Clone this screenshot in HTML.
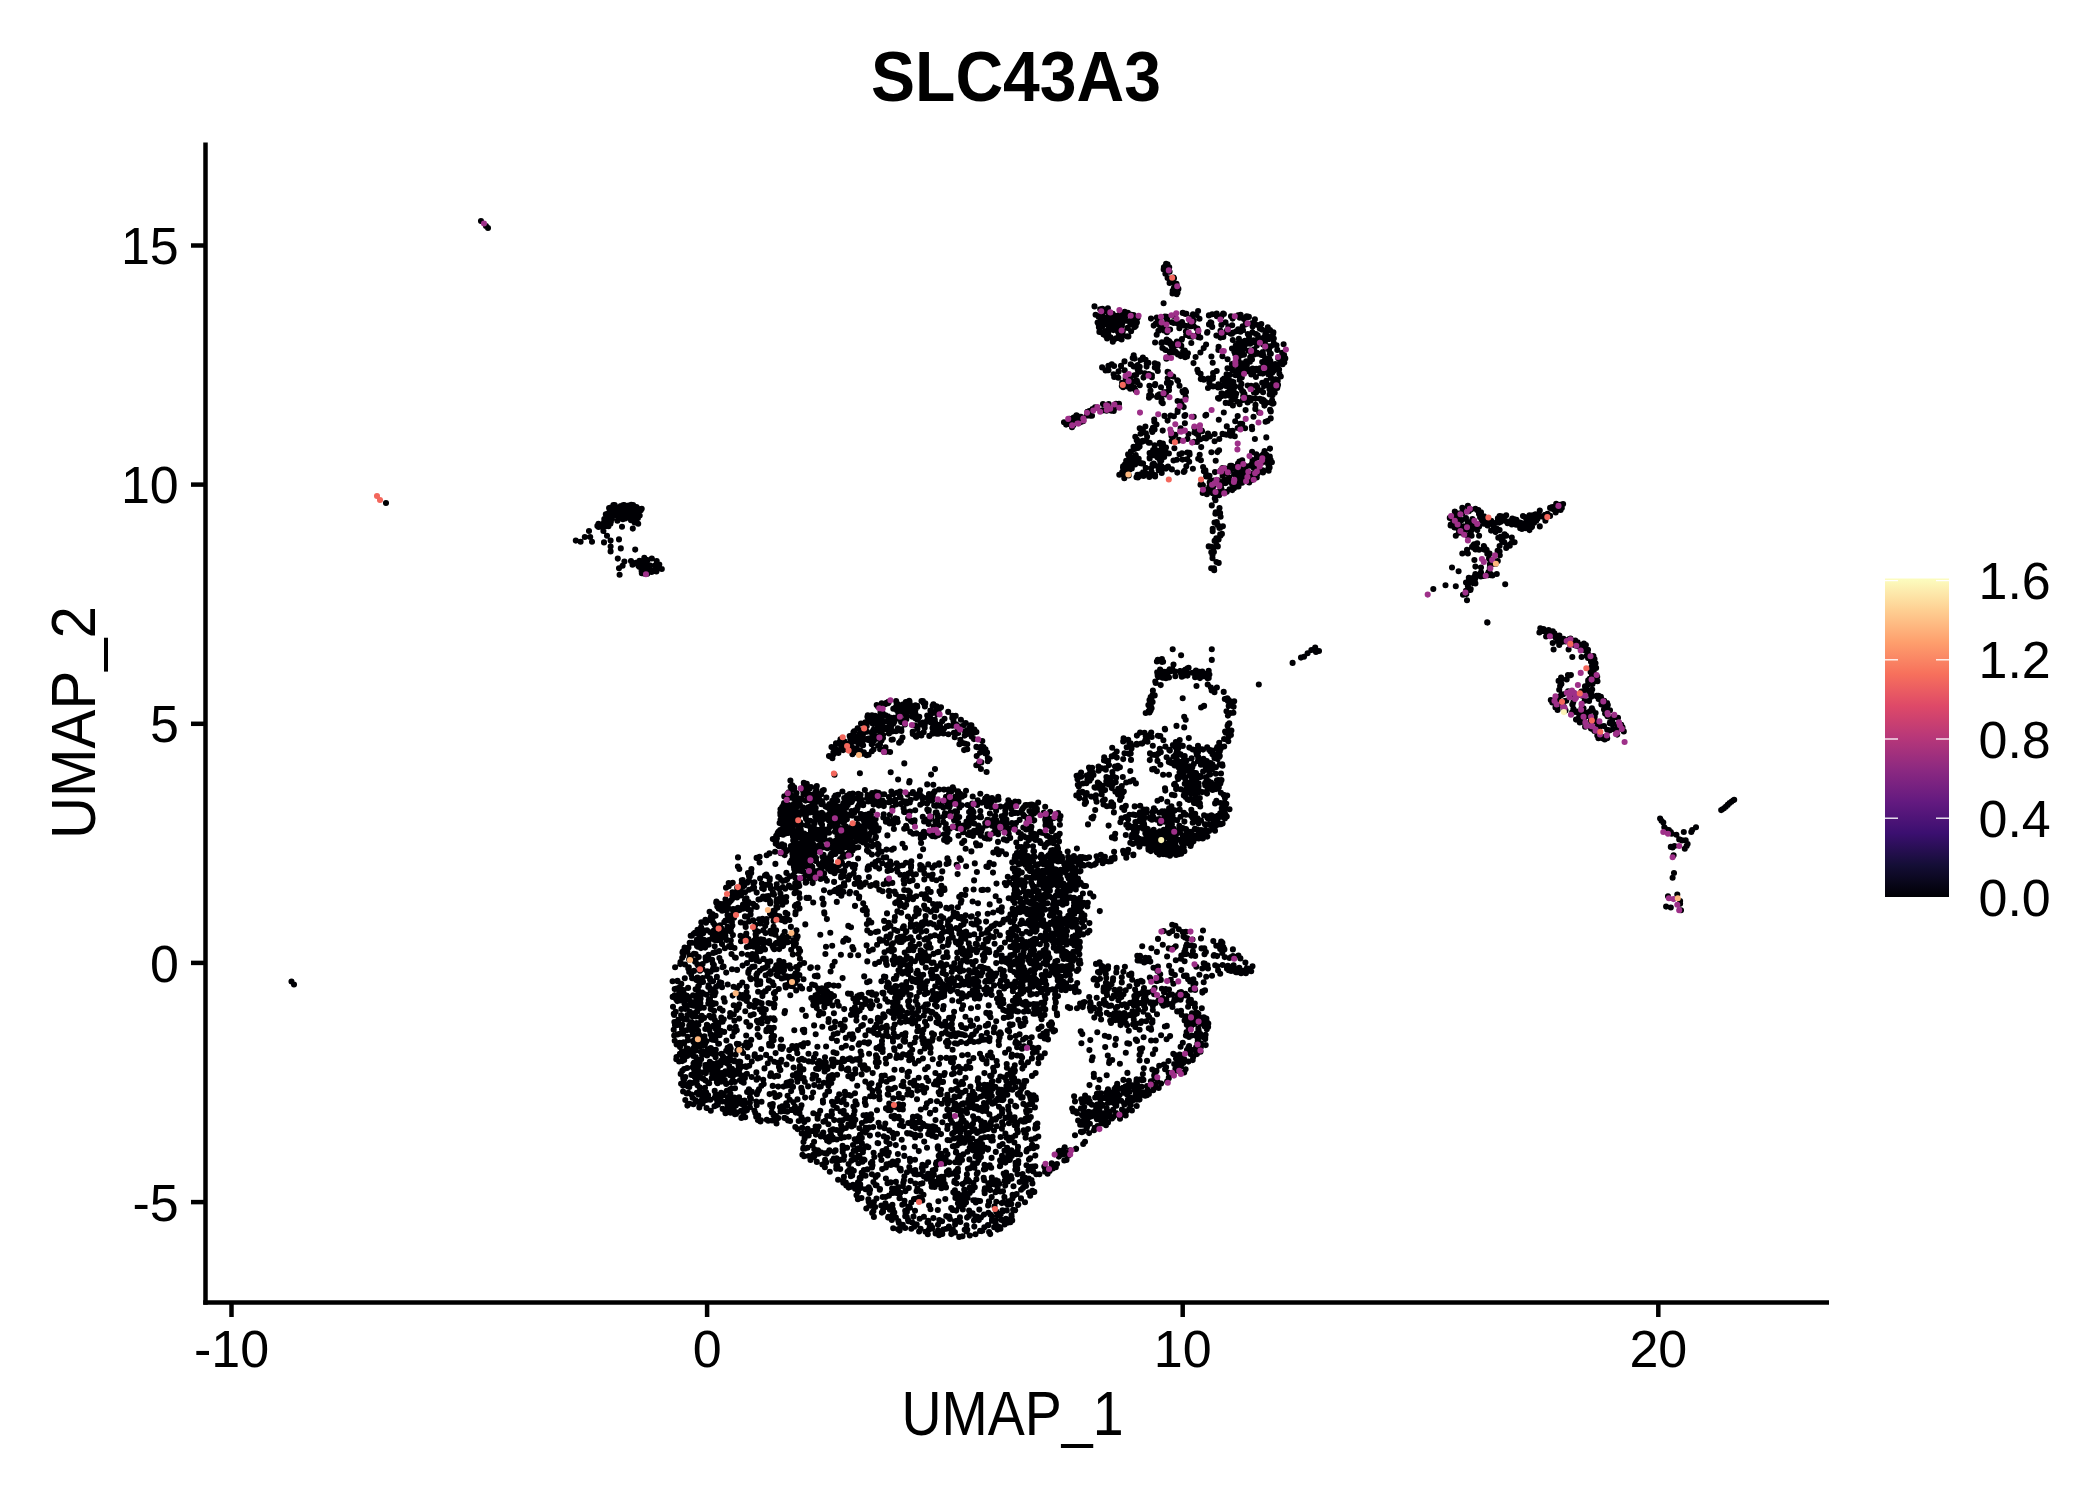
<!DOCTYPE html>
<html><head><meta charset="utf-8"><style>
html,body{margin:0;padding:0;background:#fff;}
svg{display:block;}
text{font-family:"Liberation Sans",sans-serif;fill:#000;}
</style></head><body>
<svg width="2100" height="1500" viewBox="0 0 2100 1500">
<defs>
<linearGradient id="mg" x1="0" y1="1" x2="0" y2="0">
<stop offset="0.0000" stop-color="#000004"/><stop offset="0.1000" stop-color="#140E36"/><stop offset="0.2000" stop-color="#3B0F70"/><stop offset="0.3000" stop-color="#641A80"/><stop offset="0.4000" stop-color="#8C2981"/><stop offset="0.5000" stop-color="#B73779"/><stop offset="0.6000" stop-color="#DE4968"/><stop offset="0.7000" stop-color="#F7705C"/><stop offset="0.8000" stop-color="#FE9F6D"/><stop offset="0.9000" stop-color="#FECF92"/><stop offset="1.0000" stop-color="#FCFDBF"/>
</linearGradient>
</defs>
<rect width="2100" height="1500" fill="#fff"/>
<text x="1016" y="101" font-size="70" font-weight="bold" text-anchor="middle" textLength="290" lengthAdjust="spacingAndGlyphs">SLC43A3</text>
<g id="dots">
<path d="M1166.1 263.8h0M1167.5 264.3h0M1164.6 266.9h0M1165.2 266.4h0M1167.3 266.8h0M1163.9 267.4h0M1166.1 267.2h0M1169.2 267.3h0M1167.5 268.3h0M1163.7 269.4h0M1166.1 269.5h0M1168.1 269.4h0M1169.6 271.8h0M1165.4 273.7h0M1173.6 277.6h0M1167.6 278.0h0M1172.8 278.1h0M1174.0 278.3h0M1171.6 279.4h0M1169.6 282.9h0M1172.9 282.2h0M1176.5 283.9h0M1173.9 288.0h0M1175.0 287.3h0M1176.4 287.4h0M1178.4 288.9h0M1176.4 289.7h0M1177.8 289.6h0M1172.7 290.9h0M1177.0 290.2h0M1173.6 292.8h0M1177.5 292.7h0M1172.5 293.5h0M1174.0 293.3h0M1176.8 294.3h0M1094.5 306.4h0M1102.4 308.7h0M1107.9 308.2h0M1100.2 309.2h0M1103.4 311.9h0M1106.0 311.4h0M1124.7 311.8h0M1198.1 311.0h0M1127.9 312.7h0M1182.7 312.9h0M1109.4 313.3h0M1112.7 313.8h0M1120.9 313.8h0M1121.5 313.4h0M1185.4 313.9h0M1186.4 313.8h0M1216.7 313.5h0M1223.2 313.5h0M1095.6 314.7h0M1101.2 314.7h0M1119.0 315.0h0M1121.2 314.7h0M1131.4 314.8h0M1193.0 314.4h0M1212.2 314.3h0M1222.8 314.2h0M1223.9 314.0h0M1240.6 314.8h0M1114.2 316.0h0M1115.3 315.8h0M1132.9 315.2h0M1133.5 315.1h0M1173.8 315.9h0M1196.5 315.0h0M1208.9 315.4h0M1238.1 315.3h0M1098.6 316.7h0M1102.6 316.7h0M1119.6 316.4h0M1125.2 316.4h0M1164.9 316.5h0M1166.8 316.9h0M1167.5 317.0h0M1216.9 316.2h0M1221.4 316.5h0M1231.0 316.3h0M1246.7 316.2h0M1248.9 316.9h0M1107.7 317.4h0M1109.5 317.7h0M1119.2 317.5h0M1121.8 317.8h0M1123.8 317.8h0M1135.8 317.7h0M1137.7 317.8h0M1156.8 317.6h0M1165.9 317.6h0M1191.7 317.2h0M1239.8 317.7h0M1244.4 318.0h0M1247.7 317.3h0M1101.1 318.9h0M1116.0 318.6h0M1151.0 318.6h0M1199.5 318.7h0M1232.6 318.6h0M1105.3 319.6h0M1108.7 319.1h0M1119.3 319.4h0M1243.9 319.1h0M1254.9 319.3h0M1102.8 320.5h0M1104.6 320.6h0M1106.0 320.6h0M1121.1 321.0h0M1126.0 320.8h0M1131.1 320.0h0M1159.7 320.2h0M1167.2 320.9h0M1193.6 320.6h0M1111.8 321.4h0M1117.8 321.3h0M1121.0 321.8h0M1134.3 322.0h0M1157.6 321.6h0M1190.4 321.6h0M1097.6 322.5h0M1104.3 322.3h0M1107.7 322.2h0M1111.7 322.3h0M1113.5 322.5h0M1120.5 322.6h0M1130.1 322.6h0M1131.7 322.6h0M1136.9 322.4h0M1159.8 322.6h0M1171.8 322.3h0M1173.7 322.9h0M1182.0 322.1h0M1210.5 322.3h0M1211.3 322.8h0M1225.5 322.2h0M1098.5 323.9h0M1099.1 323.0h0M1109.7 323.1h0M1110.8 323.1h0M1136.5 323.1h0M1155.7 323.8h0M1177.5 323.6h0M1191.3 323.3h0M1251.8 323.3h0M1254.2 323.6h0M1102.4 324.8h0M1103.3 324.7h0M1108.0 324.7h0M1122.0 324.5h0M1130.3 324.6h0M1133.6 324.2h0M1209.0 324.4h0M1221.4 324.9h0M1245.5 324.4h0M1246.3 324.1h0M1261.3 324.0h0M1111.5 326.0h0M1116.6 325.2h0M1120.3 325.4h0M1121.8 325.8h0M1153.7 325.6h0M1159.8 325.4h0M1164.2 325.2h0M1182.6 325.3h0M1184.0 325.4h0M1186.6 326.0h0M1193.5 325.8h0M1232.2 325.3h0M1257.7 325.1h0M1102.2 326.6h0M1113.7 326.5h0M1116.2 327.0h0M1135.7 326.1h0M1161.2 326.5h0M1190.2 326.3h0M1191.4 326.3h0M1212.2 326.9h0M1228.4 326.5h0M1242.7 326.2h0M1252.6 326.6h0M1098.9 327.3h0M1110.7 327.1h0M1127.6 327.9h0M1134.6 327.1h0M1267.8 327.2h0M1115.4 328.2h0M1118.3 328.4h0M1119.9 328.5h0M1163.5 328.3h0M1179.4 328.2h0M1196.5 328.2h0M1197.5 328.5h0M1259.8 328.6h0M1108.2 329.4h0M1118.4 329.6h0M1120.9 329.8h0M1121.1 329.2h0M1163.5 329.2h0M1167.0 329.2h0M1170.1 329.6h0M1197.7 329.4h0M1238.2 329.2h0M1240.6 329.7h0M1261.9 329.6h0M1270.0 330.0h0M1109.0 330.5h0M1113.4 330.1h0M1119.1 330.1h0M1158.4 330.9h0M1163.9 330.4h0M1220.5 330.7h0M1227.1 330.3h0M1243.0 330.3h0M1265.2 330.7h0M1099.4 331.9h0M1105.0 331.4h0M1106.3 331.0h0M1118.1 332.0h0M1122.8 331.2h0M1131.1 331.3h0M1185.9 331.5h0M1186.6 331.5h0M1207.4 332.0h0M1236.3 331.2h0M1240.5 331.7h0M1265.8 331.4h0M1266.1 331.2h0M1166.9 332.3h0M1207.1 332.7h0M1226.6 332.1h0M1233.2 332.6h0M1252.4 332.4h0M1273.4 332.3h0M1198.0 333.2h0M1230.5 333.6h0M1232.0 333.8h0M1256.0 334.0h0M1273.2 333.4h0M1103.5 334.4h0M1104.1 334.4h0M1105.5 334.3h0M1156.7 334.7h0M1186.2 335.0h0M1188.5 334.9h0M1247.8 334.1h0M1265.3 334.4h0M1105.9 335.9h0M1108.4 335.0h0M1122.9 335.4h0M1123.2 335.6h0M1192.6 335.9h0M1216.4 335.6h0M1257.7 335.4h0M1108.6 336.0h0M1118.5 336.6h0M1127.3 336.4h0M1128.4 336.5h0M1189.4 336.3h0M1192.1 336.7h0M1223.3 336.9h0M1249.0 336.6h0M1266.2 336.3h0M1268.7 336.2h0M1272.8 336.8h0M1110.5 337.3h0M1198.0 337.1h0M1200.3 337.6h0M1220.4 337.6h0M1107.1 338.5h0M1116.1 338.2h0M1120.0 338.6h0M1182.0 339.0h0M1238.9 338.9h0M1262.0 338.3h0M1263.4 338.8h0M1270.8 338.6h0M1273.8 338.5h0M1113.1 339.3h0M1114.4 339.3h0M1121.6 339.4h0M1166.7 339.6h0M1181.7 339.8h0M1261.4 339.2h0M1268.9 339.1h0M1168.5 340.7h0M1232.8 340.1h0M1244.9 340.9h0M1248.8 340.6h0M1253.5 340.2h0M1256.0 340.5h0M1112.8 341.7h0M1165.5 341.7h0M1169.2 341.3h0M1176.9 341.6h0M1264.9 341.9h0M1155.1 342.5h0M1161.9 342.4h0M1167.0 342.2h0M1191.3 343.0h0M1242.1 342.3h0M1255.1 342.4h0M1161.4 343.1h0M1170.3 344.0h0M1171.0 343.4h0M1178.1 343.8h0M1238.1 343.4h0M1247.3 343.4h0M1250.2 343.7h0M1264.3 343.4h0M1273.8 343.2h0M1175.5 344.1h0M1206.1 344.6h0M1238.1 344.2h0M1243.6 344.2h0M1263.1 344.6h0M1275.1 344.8h0M1283.6 344.3h0M1172.5 345.5h0M1176.7 345.3h0M1181.3 345.9h0M1235.8 345.2h0M1240.8 345.2h0M1244.7 345.3h0M1256.8 345.4h0M1276.5 345.2h0M1171.7 346.3h0M1218.6 346.7h0M1266.3 346.1h0M1267.1 346.1h0M1269.7 347.0h0M1271.1 346.1h0M1162.4 348.0h0M1244.3 348.0h0M1265.6 347.8h0M1162.9 348.3h0M1203.7 348.1h0M1232.0 348.5h0M1237.3 348.0h0M1268.1 348.0h0M1165.5 350.0h0M1218.4 349.9h0M1239.3 349.3h0M1254.3 349.2h0M1277.3 349.9h0M1173.3 350.1h0M1184.8 350.6h0M1238.2 350.4h0M1242.9 350.1h0M1248.7 350.7h0M1250.2 350.5h0M1269.1 350.3h0M1170.6 351.3h0M1175.3 351.5h0M1183.1 351.2h0M1234.3 351.7h0M1250.4 351.4h0M1254.1 351.3h0M1169.8 352.5h0M1170.2 352.8h0M1173.8 352.5h0M1185.7 352.3h0M1200.4 352.5h0M1257.1 352.9h0M1262.8 352.1h0M1282.3 352.8h0M1177.2 353.3h0M1187.9 353.2h0M1235.1 353.9h0M1255.9 353.7h0M1256.2 353.5h0M1257.7 353.8h0M1262.4 353.4h0M1269.9 353.5h0M1270.8 353.7h0M1177.9 354.5h0M1178.7 354.8h0M1239.3 354.8h0M1244.0 354.7h0M1254.2 354.5h0M1261.5 354.9h0M1282.2 354.3h0M1133.7 355.3h0M1240.6 355.4h0M1251.4 355.0h0M1263.5 355.6h0M1284.1 355.1h0M1180.7 356.1h0M1184.2 356.1h0M1187.0 356.5h0M1211.4 356.5h0M1222.4 356.3h0M1236.7 356.4h0M1250.8 356.7h0M1251.7 356.7h0M1142.9 357.5h0M1168.3 357.3h0M1185.2 357.2h0M1195.6 357.0h0M1250.2 357.3h0M1269.2 357.9h0M1281.7 357.6h0M1132.7 358.1h0M1134.6 358.6h0M1166.4 358.8h0M1237.0 358.2h0M1278.2 358.2h0M1282.8 358.8h0M1285.3 358.4h0M1145.6 359.7h0M1227.6 359.3h0M1238.3 359.4h0M1252.0 359.5h0M1265.0 359.9h0M1140.6 360.0h0M1265.6 360.4h0M1270.3 360.9h0M1124.5 361.4h0M1246.2 361.3h0M1250.0 361.8h0M1264.0 361.2h0M1284.0 361.4h0M1148.4 362.9h0M1212.7 362.8h0M1239.5 362.7h0M1240.8 363.0h0M1262.2 362.1h0M1268.4 362.2h0M1284.0 362.2h0M1284.3 362.6h0M1146.7 363.3h0M1154.8 363.3h0M1193.5 363.1h0M1241.7 363.4h0M1243.9 363.8h0M1246.8 363.3h0M1265.8 364.0h0M1266.3 363.7h0M1275.3 364.0h0M1278.9 363.8h0M1281.1 363.2h0M1111.8 364.2h0M1130.7 364.2h0M1157.7 364.4h0M1231.9 364.1h0M1268.5 364.1h0M1269.4 364.3h0M1282.7 364.2h0M1108.4 365.9h0M1114.1 366.0h0M1121.0 365.9h0M1137.7 365.1h0M1235.5 365.3h0M1238.6 365.1h0M1246.8 365.6h0M1263.7 365.6h0M1267.7 365.8h0M1133.7 366.5h0M1139.7 366.7h0M1146.6 366.6h0M1156.6 366.7h0M1157.4 366.8h0M1265.1 366.7h0M1277.6 366.0h0M1102.1 367.4h0M1154.8 367.6h0M1231.7 367.8h0M1239.4 367.8h0M1273.4 367.1h0M1277.6 367.4h0M1227.5 368.2h0M1243.0 368.4h0M1252.6 368.6h0M1256.3 368.9h0M1259.9 368.2h0M1197.4 369.9h0M1238.9 369.5h0M1242.3 369.0h0M1250.1 369.9h0M1270.5 369.0h0M1279.1 369.5h0M1105.6 370.5h0M1108.5 370.3h0M1124.7 370.4h0M1137.8 370.1h0M1232.2 370.1h0M1241.7 370.8h0M1246.6 371.0h0M1257.3 370.0h0M1274.1 370.3h0M1118.6 371.4h0M1140.0 371.8h0M1157.8 371.0h0M1167.6 371.9h0M1168.4 372.0h0M1216.7 371.0h0M1236.0 371.3h0M1244.8 371.3h0M1247.5 371.3h0M1268.0 371.2h0M1268.4 371.0h0M1273.4 371.1h0M1198.2 372.2h0M1272.4 372.6h0M1144.8 373.3h0M1200.6 373.9h0M1213.1 373.0h0M1251.1 373.2h0M1253.4 373.3h0M1260.2 373.2h0M1262.8 373.6h0M1279.4 373.7h0M1113.6 374.2h0M1136.2 375.0h0M1148.8 374.1h0M1149.1 374.4h0M1226.6 374.3h0M1230.1 374.8h0M1238.7 374.7h0M1239.5 374.4h0M1251.3 374.4h0M1268.5 374.4h0M1134.4 375.3h0M1151.9 375.4h0M1228.8 375.0h0M1235.5 375.3h0M1241.9 375.0h0M1114.2 376.9h0M1173.2 376.5h0M1213.0 376.6h0M1280.8 376.5h0M1117.8 377.2h0M1118.3 377.7h0M1129.9 377.8h0M1143.5 377.6h0M1151.9 377.3h0M1239.9 377.3h0M1241.8 377.5h0M1255.9 377.0h0M1271.0 377.9h0M1125.7 378.3h0M1167.7 378.3h0M1201.3 378.1h0M1203.1 378.9h0M1208.2 378.6h0M1212.9 378.6h0M1224.1 378.5h0M1200.8 379.1h0M1203.8 379.8h0M1222.7 379.9h0M1228.7 379.3h0M1239.7 380.0h0M1275.4 379.2h0M1136.9 380.9h0M1177.3 380.3h0M1223.0 380.2h0M1226.1 380.3h0M1228.7 380.8h0M1266.3 380.8h0M1277.7 380.9h0M1125.8 381.1h0M1133.6 381.8h0M1134.7 381.1h0M1178.0 381.1h0M1228.2 381.6h0M1232.1 381.6h0M1275.5 381.3h0M1122.1 382.8h0M1137.4 382.3h0M1166.9 382.9h0M1209.4 382.8h0M1233.4 382.1h0M1262.2 382.8h0M1276.4 382.4h0M1131.8 383.5h0M1155.2 384.0h0M1170.8 383.1h0M1241.4 383.9h0M1272.4 383.9h0M1127.6 385.0h0M1128.1 384.4h0M1218.4 384.3h0M1278.0 384.9h0M1121.8 386.0h0M1139.8 385.3h0M1149.4 385.8h0M1154.9 385.2h0M1179.5 385.8h0M1223.6 385.3h0M1226.0 385.9h0M1229.5 385.3h0M1247.7 385.5h0M1251.1 385.8h0M1256.0 385.2h0M1256.1 385.9h0M1264.6 385.7h0M1269.3 385.5h0M1127.6 386.6h0M1213.1 386.4h0M1220.4 386.9h0M1234.9 386.4h0M1240.2 386.8h0M1264.1 386.1h0M1277.6 386.2h0M1123.1 387.3h0M1134.1 387.6h0M1161.0 387.2h0M1169.0 387.0h0M1218.1 387.4h0M1240.6 387.8h0M1257.3 387.1h0M1277.2 387.9h0M1130.2 388.8h0M1208.0 388.0h0M1233.7 388.8h0M1250.7 389.0h0M1184.9 390.0h0M1269.5 389.4h0M1273.2 389.4h0M1135.5 390.2h0M1150.5 390.5h0M1169.0 390.3h0M1185.5 390.9h0M1242.1 390.9h0M1260.8 390.5h0M1273.5 390.9h0M1166.3 392.0h0M1182.5 391.2h0M1186.0 391.9h0M1229.6 391.0h0M1233.8 391.4h0M1243.3 391.9h0M1164.4 392.3h0M1183.2 392.6h0M1227.8 392.2h0M1254.0 392.5h0M1256.1 392.4h0M1263.1 392.2h0M1274.7 392.7h0M1221.5 393.2h0M1222.5 393.5h0M1231.9 393.4h0M1234.9 393.7h0M1236.2 393.8h0M1244.4 393.8h0M1159.5 394.2h0M1165.8 394.4h0M1269.7 394.4h0M1149.2 395.3h0M1151.3 395.8h0M1157.9 395.4h0M1225.1 395.8h0M1230.1 395.9h0M1244.7 395.9h0M1272.5 395.3h0M1157.1 397.0h0M1160.9 396.3h0M1221.3 396.2h0M1235.5 396.4h0M1243.2 396.0h0M1244.1 396.8h0M1149.0 397.8h0M1185.6 397.3h0M1233.1 397.4h0M1249.1 397.8h0M1218.0 398.1h0M1219.0 398.7h0M1234.5 398.4h0M1251.0 398.4h0M1255.5 398.6h0M1259.8 398.8h0M1161.6 399.5h0M1232.7 399.7h0M1262.5 399.6h0M1231.4 400.8h0M1242.9 400.0h0M1247.6 400.4h0M1250.6 400.4h0M1263.7 400.2h0M1272.1 400.2h0M1161.5 401.9h0M1177.6 401.0h0M1181.3 401.6h0M1237.6 401.7h0M1261.9 401.2h0M1264.4 401.9h0M1265.2 401.9h0M1225.7 402.9h0M1247.6 402.4h0M1263.7 402.7h0M1270.5 402.6h0M1108.7 404.0h0M1116.0 403.9h0M1119.0 403.9h0M1162.8 403.3h0M1229.1 403.1h0M1265.5 403.4h0M1272.7 403.8h0M1273.5 403.3h0M1103.0 404.1h0M1239.6 404.3h0M1255.5 404.9h0M1116.0 405.4h0M1181.9 405.2h0M1232.9 405.5h0M1264.4 405.6h0M1114.7 406.9h0M1095.1 407.2h0M1107.6 407.4h0M1183.7 407.1h0M1114.6 408.2h0M1255.3 408.9h0M1092.6 409.1h0M1111.7 409.1h0M1270.1 409.9h0M1102.5 410.4h0M1106.6 410.7h0M1111.4 410.8h0M1113.7 410.9h0M1177.7 410.1h0M1245.6 410.1h0M1087.4 411.8h0M1089.3 411.1h0M1090.5 411.9h0M1177.6 412.0h0M1270.8 411.4h0M1223.8 412.5h0M1259.2 412.5h0M1206.2 414.9h0M1076.5 415.3h0M1086.9 415.6h0M1088.4 415.4h0M1090.4 415.7h0M1092.0 415.8h0M1164.5 415.9h0M1170.6 415.6h0M1184.5 415.9h0M1185.3 415.1h0M1205.4 415.6h0M1075.6 416.5h0M1077.4 416.0h0M1080.9 416.9h0M1173.9 416.2h0M1193.7 416.7h0M1237.7 416.1h0M1253.5 416.8h0M1073.7 417.5h0M1075.8 417.5h0M1069.6 418.9h0M1078.4 418.3h0M1080.7 418.5h0M1081.9 418.9h0M1270.7 418.4h0M1154.2 419.6h0M1218.8 419.7h0M1069.9 420.5h0M1167.6 420.6h0M1074.6 421.5h0M1083.1 421.3h0M1154.3 421.8h0M1235.2 421.3h0M1265.6 421.8h0M1267.5 421.0h0M1064.0 422.3h0M1080.4 422.3h0M1067.4 423.2h0M1069.4 423.9h0M1070.4 423.3h0M1184.9 423.3h0M1240.3 423.9h0M1242.2 423.7h0M1066.1 424.6h0M1156.5 424.5h0M1073.1 425.4h0M1145.4 426.5h0M1226.8 426.4h0M1251.9 426.8h0M1072.0 427.3h0M1152.9 427.8h0M1194.5 427.8h0M1139.7 428.3h0M1180.6 428.4h0M1237.7 428.0h0M1245.1 428.3h0M1154.6 429.6h0M1252.1 429.3h0M1142.9 430.5h0M1151.8 430.3h0M1162.7 430.6h0M1181.9 430.3h0M1201.7 430.5h0M1232.5 430.9h0M1143.0 431.1h0M1152.3 431.9h0M1202.1 431.3h0M1230.0 431.1h0M1171.4 432.8h0M1194.5 432.4h0M1140.6 433.7h0M1145.9 433.3h0M1196.3 433.5h0M1208.0 433.5h0M1214.6 434.0h0M1222.5 433.9h0M1175.4 434.8h0M1188.5 434.1h0M1224.3 434.3h0M1226.5 434.8h0M1198.1 435.2h0M1230.6 435.8h0M1135.3 436.7h0M1147.1 436.7h0M1171.5 436.0h0M1172.9 436.9h0M1209.8 436.5h0M1234.8 436.3h0M1204.3 437.9h0M1266.3 437.4h0M1206.1 438.4h0M1219.3 439.0h0M1136.8 439.5h0M1179.0 439.8h0M1187.4 439.0h0M1198.9 439.8h0M1200.4 439.3h0M1254.9 439.0h0M1136.7 440.2h0M1142.8 440.7h0M1144.6 440.8h0M1145.7 440.6h0M1178.3 440.7h0M1139.6 441.4h0M1142.6 441.6h0M1171.6 441.1h0M1194.0 441.9h0M1214.6 441.3h0M1137.7 442.0h0M1139.0 442.4h0M1148.8 442.7h0M1149.7 442.7h0M1159.8 442.9h0M1197.1 442.0h0M1162.9 443.6h0M1160.3 444.1h0M1154.7 445.4h0M1162.5 445.2h0M1133.5 446.8h0M1137.1 446.3h0M1139.6 446.6h0M1163.1 446.3h0M1133.6 447.7h0M1166.0 447.5h0M1201.2 447.1h0M1138.0 448.0h0M1161.7 448.1h0M1174.4 448.2h0M1270.0 448.6h0M1134.7 449.0h0M1155.7 450.0h0M1165.3 449.9h0M1153.1 450.1h0M1219.1 450.3h0M1130.9 451.6h0M1158.6 451.1h0M1252.1 451.9h0M1264.6 451.1h0M1152.6 452.3h0M1187.3 452.5h0M1189.4 452.8h0M1211.4 452.3h0M1217.5 452.1h0M1149.6 453.0h0M1151.9 453.1h0M1162.2 453.1h0M1168.9 453.5h0M1181.9 453.2h0M1263.8 453.5h0M1128.1 454.4h0M1157.0 454.7h0M1164.6 454.3h0M1179.5 454.3h0M1189.6 454.4h0M1199.7 454.8h0M1256.3 454.2h0M1262.5 455.0h0M1266.3 454.7h0M1135.7 455.0h0M1154.8 455.5h0M1162.1 455.1h0M1164.2 456.9h0M1260.3 456.4h0M1263.0 456.3h0M1269.8 456.6h0M1132.2 457.0h0M1149.6 457.9h0M1157.6 457.6h0M1159.8 457.0h0M1256.7 457.8h0M1129.1 459.0h0M1134.6 458.5h0M1138.7 458.7h0M1149.7 458.4h0M1198.2 458.7h0M1263.7 458.8h0M1268.9 458.4h0M1131.4 459.2h0M1137.8 459.0h0M1159.7 459.6h0M1176.8 459.7h0M1182.5 459.6h0M1186.8 459.3h0M1187.3 459.4h0M1267.6 459.3h0M1268.4 459.3h0M1270.6 459.7h0M1126.2 460.8h0M1133.4 460.5h0M1136.5 460.5h0M1161.3 460.4h0M1173.5 460.5h0M1200.9 460.2h0M1215.7 460.7h0M1242.2 460.2h0M1252.6 460.1h0M1264.4 461.0h0M1270.1 460.7h0M1126.8 462.0h0M1131.9 461.9h0M1160.3 461.6h0M1189.2 461.8h0M1239.4 461.5h0M1252.8 461.5h0M1263.5 462.0h0M1126.5 462.9h0M1130.9 462.5h0M1262.2 462.6h0M1267.7 462.8h0M1271.9 462.2h0M1129.6 464.0h0M1140.4 463.3h0M1141.6 463.4h0M1143.1 463.5h0M1153.7 463.6h0M1238.0 463.6h0M1252.1 463.2h0M1255.5 463.8h0M1256.4 463.9h0M1125.0 464.4h0M1131.7 464.1h0M1135.1 464.4h0M1152.5 464.5h0M1238.7 464.3h0M1268.3 464.6h0M1132.2 465.5h0M1154.9 465.4h0M1230.2 465.9h0M1231.7 465.8h0M1240.9 465.4h0M1241.2 465.5h0M1250.2 465.7h0M1123.1 466.4h0M1158.2 466.4h0M1161.5 466.3h0M1168.0 466.6h0M1186.3 466.3h0M1235.2 466.9h0M1246.3 466.4h0M1257.9 466.9h0M1123.0 467.4h0M1128.0 468.0h0M1145.7 467.7h0M1166.7 467.6h0M1203.1 467.0h0M1269.6 467.6h0M1131.8 468.4h0M1151.0 468.2h0M1166.0 468.6h0M1192.9 468.8h0M1222.5 468.1h0M1225.3 468.5h0M1228.4 468.8h0M1232.3 468.3h0M1241.8 468.2h0M1244.4 468.7h0M1253.8 468.1h0M1268.3 468.9h0M1129.9 469.4h0M1158.7 469.9h0M1160.3 469.4h0M1171.9 469.4h0M1230.2 469.8h0M1235.9 469.8h0M1257.2 469.4h0M1124.8 470.9h0M1161.1 470.5h0M1184.6 470.9h0M1204.3 470.6h0M1205.4 470.4h0M1220.7 470.5h0M1244.0 470.6h0M1260.6 470.8h0M1262.7 470.3h0M1268.7 470.8h0M1122.4 471.9h0M1124.9 471.5h0M1151.6 471.8h0M1183.8 471.9h0M1203.9 471.3h0M1224.2 471.5h0M1225.9 471.4h0M1228.2 471.9h0M1242.5 471.9h0M1126.1 472.1h0M1143.1 472.3h0M1161.7 472.9h0M1177.3 472.6h0M1205.5 472.4h0M1215.0 472.1h0M1226.8 472.3h0M1238.7 472.9h0M1263.0 472.4h0M1143.0 473.2h0M1146.0 473.2h0M1224.3 473.6h0M1249.5 473.4h0M1251.1 473.8h0M1254.4 473.5h0M1257.6 473.5h0M1119.3 474.8h0M1137.5 474.9h0M1140.6 474.3h0M1154.3 475.0h0M1234.1 474.2h0M1244.1 474.4h0M1249.7 475.0h0M1124.7 475.2h0M1128.7 475.4h0M1143.5 475.9h0M1149.9 476.0h0M1155.1 475.0h0M1207.1 475.2h0M1209.5 475.7h0M1222.6 475.7h0M1238.1 475.7h0M1242.3 475.5h0M1248.0 475.5h0M1254.7 475.8h0M1256.4 475.7h0M1138.8 476.5h0M1149.3 477.0h0M1155.1 476.5h0M1206.1 476.4h0M1208.9 476.9h0M1242.9 476.7h0M1247.8 476.5h0M1250.4 476.0h0M1255.2 476.9h0M1136.5 477.3h0M1137.9 477.4h0M1229.0 477.6h0M1236.8 477.4h0M1256.8 477.4h0M1124.3 478.2h0M1228.0 478.8h0M1240.7 478.1h0M1243.3 478.4h0M1254.0 478.0h0M1254.5 478.2h0M1211.6 480.8h0M1213.7 480.6h0M1218.0 480.4h0M1226.8 480.1h0M1251.9 480.1h0M1210.9 481.6h0M1223.5 481.2h0M1227.6 481.7h0M1238.3 481.3h0M1209.7 482.4h0M1210.6 482.3h0M1216.6 482.6h0M1232.1 482.3h0M1242.1 482.7h0M1249.2 482.4h0M1201.3 483.5h0M1211.3 483.1h0M1223.0 483.3h0M1225.7 483.1h0M1232.0 483.8h0M1235.9 483.3h0M1200.5 484.8h0M1201.2 484.3h0M1202.9 485.3h0M1213.9 485.1h0M1236.1 485.7h0M1237.3 486.0h0M1209.3 486.9h0M1235.9 486.4h0M1238.5 486.4h0M1212.8 487.7h0M1221.2 487.7h0M1234.0 488.2h0M1207.5 489.9h0M1211.3 489.0h0M1221.6 489.5h0M1229.6 489.2h0M1232.3 490.1h0M1209.3 491.4h0M1220.5 491.2h0M1226.8 491.7h0M1202.7 492.9h0M1216.9 492.0h0M1225.3 492.6h0M1212.7 493.2h0M1216.4 493.1h0M1206.9 494.3h0M1219.2 495.3h0M1214.8 498.4h0M1215.5 500.2h0M1556.2 503.7h0M631.3 504.8h0M1560.2 504.9h0M613.4 505.1h0M614.7 505.1h0M620.7 506.0h0M622.8 505.2h0M624.2 505.1h0M628.6 505.6h0M633.1 505.1h0M1211.8 505.4h0M614.5 506.4h0M623.3 506.2h0M630.4 506.2h0M609.8 507.7h0M612.6 507.3h0M615.4 507.2h0M617.6 507.4h0M636.5 507.1h0M637.0 507.7h0M1550.1 507.9h0M1552.4 507.1h0M609.1 508.1h0M623.5 508.8h0M626.2 508.0h0M641.7 508.8h0M1219.5 508.0h0M1561.8 508.0h0M611.7 509.9h0M622.7 509.9h0M626.3 509.1h0M628.6 509.7h0M636.3 509.5h0M1470.9 509.6h0M1554.2 509.7h0M1560.6 510.0h0M610.0 510.1h0M612.3 510.7h0M633.1 510.2h0M640.8 510.2h0M1477.1 510.1h0M1478.4 510.0h0M1556.4 510.8h0M610.9 511.8h0M619.2 511.6h0M629.0 511.3h0M631.6 511.3h0M637.4 511.9h0M1465.9 511.3h0M1468.8 511.3h0M609.5 512.9h0M612.6 512.4h0M614.0 512.2h0M616.2 512.2h0M621.4 512.8h0M622.6 512.6h0M624.7 512.7h0M1215.7 512.3h0M1220.1 513.0h0M1456.1 513.0h0M1461.6 512.8h0M607.6 513.6h0M610.1 513.9h0M619.4 513.7h0M622.0 513.8h0M1215.4 513.8h0M1218.7 513.5h0M1455.5 513.7h0M1460.3 513.2h0M1547.5 513.8h0M605.8 514.2h0M613.2 514.7h0M617.0 514.5h0M618.9 514.2h0M628.2 514.7h0M629.6 514.9h0M630.5 514.8h0M632.0 514.9h0M638.0 514.2h0M1456.9 514.8h0M1479.0 514.1h0M1535.5 514.3h0M1539.0 514.9h0M1545.1 514.7h0M1547.9 514.4h0M618.3 515.3h0M624.4 515.1h0M626.9 515.9h0M627.5 516.0h0M630.5 515.0h0M631.4 515.7h0M635.2 515.8h0M639.7 515.6h0M1454.8 515.9h0M1480.2 515.0h0M1532.5 515.2h0M1550.1 515.9h0M607.0 516.1h0M612.2 516.4h0M618.0 516.7h0M625.0 516.6h0M1220.6 516.8h0M1483.9 516.2h0M1501.3 516.3h0M1537.1 516.7h0M1543.0 516.7h0M608.0 517.9h0M621.4 517.2h0M632.6 517.1h0M636.8 517.7h0M1449.8 517.9h0M1457.7 517.6h0M1480.1 517.2h0M1525.6 517.4h0M1535.1 517.9h0M1537.4 517.7h0M604.3 519.0h0M611.9 518.4h0M620.9 518.0h0M625.3 518.5h0M630.7 518.3h0M638.0 518.1h0M1451.1 518.2h0M1454.9 518.4h0M1497.9 518.4h0M1512.3 518.6h0M1526.8 518.2h0M1537.5 518.7h0M1545.6 518.6h0M622.9 519.2h0M632.5 519.7h0M1458.4 519.1h0M1472.4 519.0h0M1513.7 519.1h0M1536.2 519.3h0M617.4 520.8h0M631.0 520.3h0M631.5 520.3h0M1457.4 520.0h0M1461.9 520.1h0M1473.5 520.2h0M1481.7 520.4h0M1486.9 520.8h0M1497.9 520.0h0M1505.3 520.9h0M1516.4 520.6h0M1536.3 520.8h0M608.7 521.8h0M610.9 521.7h0M1453.2 521.8h0M1454.4 521.8h0M1467.8 522.0h0M1500.4 521.9h0M1511.9 522.0h0M1512.6 521.6h0M1516.5 521.5h0M604.1 522.0h0M634.6 522.4h0M1214.5 522.6h0M1216.8 522.0h0M1453.6 522.9h0M1459.1 522.6h0M1470.9 522.3h0M1485.9 522.2h0M1490.8 522.1h0M1499.2 522.6h0M1519.8 522.5h0M1529.2 522.3h0M1532.7 522.2h0M598.5 523.9h0M609.3 524.0h0M610.4 523.8h0M638.2 523.7h0M1456.3 523.8h0M1458.1 523.5h0M1470.0 523.9h0M1483.4 523.6h0M1507.6 523.3h0M1522.7 523.2h0M1523.2 524.0h0M599.5 524.3h0M1450.8 524.5h0M1457.0 524.0h0M1469.0 524.7h0M1488.3 524.3h0M1494.0 524.4h0M1516.1 524.8h0M1525.9 524.4h0M597.4 525.9h0M607.7 525.6h0M608.8 525.1h0M1217.8 525.1h0M1450.6 525.4h0M1467.8 526.0h0M1469.5 525.5h0M1476.9 525.9h0M1487.5 525.5h0M1493.1 525.3h0M601.3 526.2h0M604.8 526.5h0M607.6 526.0h0M608.5 526.2h0M1221.6 526.8h0M1222.9 526.2h0M1455.1 526.8h0M1463.6 526.4h0M1469.2 526.9h0M1472.9 526.7h0M1530.1 527.0h0M1532.0 526.8h0M598.6 527.0h0M603.5 527.5h0M1219.4 527.9h0M1220.3 527.8h0M1454.5 527.4h0M1461.9 527.5h0M1471.3 527.0h0M1523.3 527.8h0M1212.7 528.8h0M1496.6 528.5h0M1521.9 528.9h0M1525.3 528.1h0M1465.3 529.1h0M1467.7 529.7h0M1469.6 529.4h0M1460.8 530.6h0M1471.4 530.5h0M1477.3 530.1h0M1491.1 530.6h0M1212.7 531.3h0M1463.7 531.8h0M1458.9 532.7h0M1495.6 532.1h0M1221.9 533.9h0M1463.4 533.8h0M1220.2 534.4h0M1470.8 534.3h0M1504.6 534.3h0M1220.4 535.8h0M1470.4 535.0h0M1503.8 535.8h0M1505.7 535.6h0M1467.9 536.0h0M1498.3 537.7h0M1216.3 538.3h0M1218.6 539.6h0M1214.6 540.9h0M1501.8 540.4h0M1502.7 540.2h0M1511.5 542.8h0M1474.2 544.4h0M1509.6 544.9h0M1216.4 545.0h0M1509.8 545.7h0M1208.7 546.4h0M1211.2 546.7h0M1217.8 546.4h0M1472.1 546.9h0M1213.6 547.7h0M1473.4 547.7h0M1484.4 547.4h0M1476.9 548.2h0M1475.5 549.4h0M1476.3 549.3h0M1484.0 549.6h0M1497.6 550.7h0M1213.9 552.0h0M1211.3 552.2h0M1487.3 553.7h0M1489.6 553.6h0M1212.5 555.3h0M1499.8 555.3h0M644.3 557.9h0M651.8 558.5h0M1212.5 558.3h0M1489.0 558.4h0M645.7 559.2h0M647.6 560.0h0M639.5 560.8h0M1493.9 561.0h0M656.7 561.0h0M635.9 562.7h0M1216.5 562.0h0M1218.7 562.9h0M1490.5 562.0h0M1491.1 562.8h0M1495.4 563.0h0M635.6 563.3h0M638.2 563.2h0M640.8 563.0h0M643.1 563.5h0M645.7 563.9h0M1492.2 563.4h0M1493.6 563.7h0M1495.5 564.0h0M632.5 564.8h0M643.5 564.9h0M644.4 564.0h0M659.3 564.6h0M1489.9 564.4h0M638.5 565.9h0M645.5 565.4h0M647.7 565.6h0M648.8 565.6h0M649.7 565.3h0M654.8 565.5h0M639.6 567.0h0M657.0 566.8h0M646.1 567.5h0M648.7 567.1h0M657.5 567.1h0M1489.8 567.9h0M642.8 568.6h0M645.2 568.1h0M648.4 568.9h0M649.5 569.0h0M661.8 569.0h0M1211.2 568.2h0M1214.0 568.4h0M643.8 570.9h0M644.4 570.1h0M654.0 570.4h0M1214.2 570.3h0M641.6 571.1h0M644.7 571.4h0M645.7 571.1h0M656.4 571.4h0M1488.6 572.0h0M651.6 572.0h0M641.8 573.2h0M644.2 573.6h0M647.3 573.7h0M1488.4 573.9h0M1490.4 573.7h0M1491.0 574.4h0M1483.9 575.9h0M1488.1 575.3h0M1490.6 575.1h0M1492.5 575.5h0M1474.8 576.1h0M1480.8 576.4h0M1471.6 578.4h0M1472.5 579.0h0M1475.2 578.7h0M1469.8 581.7h0M1471.5 581.8h0M1466.0 582.6h0M1470.6 582.5h0M1472.9 583.1h0M1468.8 589.8h0M1470.4 589.9h0M1463.0 594.8h0M1466.3 594.1h0M1540.3 628.2h0M1548.6 630.1h0M1552.8 631.4h0M1539.4 632.5h0M1549.8 634.0h0M1554.4 633.2h0M1547.1 634.3h0M1548.1 634.8h0M1555.6 635.7h0M1559.4 635.5h0M1556.7 638.0h0M1563.5 638.9h0M1570.5 638.5h0M1558.4 639.6h0M1559.4 639.6h0M1569.3 639.1h0M1567.6 640.7h0M1575.3 640.5h0M1561.7 641.9h0M1565.6 641.5h0M1570.3 642.3h0M1577.6 642.4h0M1576.8 643.5h0M1583.9 643.6h0M1579.2 644.7h0M1574.4 645.1h0M1575.7 645.3h0M1580.7 645.9h0M1582.8 645.1h0M1585.9 645.0h0M1577.6 646.2h0M1582.8 647.7h0M1582.1 649.5h0M1584.7 649.6h0M1588.0 649.9h0M1586.5 650.3h0M1586.7 655.7h0M1593.4 656.1h0M1588.0 657.9h0M1157.8 659.7h0M1161.9 659.1h0M1594.5 659.1h0M1591.1 660.8h0M1156.9 661.5h0M1162.1 661.9h0M1163.1 661.8h0M1594.3 661.6h0M1594.5 662.1h0M1595.5 663.3h0M1591.6 666.8h0M1593.6 666.5h0M1188.6 667.8h0M1593.9 667.2h0M1596.1 667.9h0M1187.6 668.3h0M1592.3 668.3h0M1593.2 668.9h0M1160.1 669.6h0M1169.7 669.3h0M1172.5 669.3h0M1185.5 669.5h0M1592.8 669.8h0M1169.7 670.9h0M1171.8 670.1h0M1180.1 671.0h0M1184.7 670.3h0M1196.0 670.6h0M1593.7 670.2h0M1164.0 671.7h0M1166.5 671.9h0M1169.9 671.5h0M1175.0 671.9h0M1175.3 671.5h0M1180.2 671.1h0M1196.7 671.9h0M1199.4 671.8h0M1202.3 671.6h0M1157.2 672.3h0M1161.4 672.0h0M1168.0 672.7h0M1187.1 672.5h0M1192.5 672.8h0M1590.6 672.0h0M1592.7 672.1h0M1181.0 673.4h0M1194.7 673.1h0M1203.8 673.5h0M1207.8 673.2h0M1157.6 674.6h0M1167.3 674.9h0M1195.2 674.7h0M1209.4 674.6h0M1594.0 674.5h0M1157.7 675.7h0M1163.8 675.7h0M1184.4 675.6h0M1187.5 675.6h0M1568.0 675.0h0M1570.9 675.1h0M1592.0 675.6h0M1158.6 676.9h0M1175.3 676.3h0M1181.8 676.8h0M1199.2 676.8h0M1203.7 676.3h0M1597.2 676.7h0M1162.6 677.7h0M1169.0 677.5h0M1195.1 677.2h0M1208.7 677.9h0M1165.9 678.2h0M1200.0 678.1h0M1207.6 678.2h0M1589.7 678.7h0M1595.2 680.0h0M1558.6 680.9h0M1561.0 680.5h0M1592.6 680.6h0M1594.5 680.9h0M1155.3 681.5h0M1588.2 681.8h0M1155.7 683.0h0M1589.0 683.0h0M1589.7 683.4h0M1207.7 684.5h0M1561.4 684.1h0M1592.5 684.1h0M1160.7 685.1h0M1585.0 686.4h0M1210.9 687.5h0M1216.9 687.6h0M1592.2 689.5h0M1152.9 690.5h0M1211.7 690.4h0M1223.7 691.9h0M1568.1 691.2h0M1571.0 691.8h0M1581.4 691.6h0M1583.5 691.4h0M1214.5 692.3h0M1591.3 692.6h0M1571.7 693.7h0M1152.6 694.7h0M1563.2 694.2h0M1590.0 694.0h0M1154.7 695.4h0M1569.8 695.5h0M1572.6 695.9h0M1581.7 695.6h0M1596.7 695.7h0M1598.4 695.9h0M1150.7 697.0h0M1583.3 696.1h0M1591.3 696.8h0M1600.9 696.9h0M1558.0 697.1h0M1224.8 699.0h0M1227.3 698.4h0M1558.4 698.7h0M1151.4 699.6h0M1598.6 699.1h0M909.2 700.8h0M1149.5 700.1h0M1227.9 700.9h0M1228.8 700.1h0M1566.3 700.8h0M1584.7 700.7h0M1604.2 700.9h0M888.3 701.9h0M896.1 701.0h0M909.5 701.4h0M921.5 701.1h0M922.9 701.1h0M1232.6 701.7h0M1234.2 701.2h0M1564.6 701.1h0M886.5 702.8h0M888.6 702.4h0M905.8 702.1h0M923.6 703.0h0M1152.6 702.1h0M1231.2 702.5h0M1552.3 702.4h0M1557.8 703.0h0M1573.3 702.1h0M881.7 703.2h0M884.5 703.8h0M887.9 703.3h0M896.6 703.1h0M897.3 703.7h0M925.3 703.4h0M1602.0 703.9h0M1607.1 703.1h0M885.1 704.2h0M896.7 704.3h0M902.7 704.5h0M910.0 704.3h0M933.4 704.2h0M1572.7 704.0h0M1601.4 704.4h0M1603.1 704.5h0M876.7 705.0h0M901.6 705.2h0M905.1 705.5h0M910.5 705.5h0M915.5 705.2h0M917.1 705.9h0M932.6 705.8h0M1148.4 705.0h0M1149.2 705.9h0M1150.8 705.2h0M1230.7 705.4h0M1232.5 705.4h0M1562.0 705.4h0M1607.8 705.1h0M878.1 706.8h0M910.6 706.7h0M924.9 706.4h0M936.6 706.4h0M1228.7 706.0h0M1233.6 706.8h0M1563.8 706.7h0M895.1 707.8h0M903.6 707.7h0M913.7 707.3h0M915.4 707.4h0M917.3 707.0h0M937.6 707.3h0M941.0 707.2h0M1581.7 707.8h0M1582.3 707.7h0M893.3 708.7h0M900.2 708.9h0M905.8 708.5h0M907.0 708.3h0M940.0 708.1h0M1151.6 708.2h0M1573.4 708.7h0M1605.1 708.4h0M904.0 710.0h0M905.0 709.3h0M911.4 709.0h0M915.5 709.4h0M936.3 709.6h0M938.5 709.6h0M1557.6 709.9h0M1564.4 709.2h0M1604.0 709.6h0M1606.5 709.6h0M896.9 710.3h0M907.7 710.4h0M911.9 710.3h0M914.3 710.1h0M930.4 710.6h0M1150.6 710.5h0M1565.5 710.4h0M1592.8 710.5h0M1605.3 710.6h0M1608.2 710.7h0M1610.0 710.2h0M899.1 711.0h0M907.2 711.7h0M909.0 711.3h0M936.1 711.9h0M948.2 711.9h0M1148.5 711.4h0M1226.5 711.2h0M1576.0 712.0h0M1589.9 711.3h0M880.5 712.3h0M882.4 712.5h0M903.2 712.5h0M914.5 712.2h0M915.1 712.5h0M937.7 712.9h0M938.5 712.7h0M1145.7 713.0h0M1149.5 712.4h0M1233.4 712.7h0M1578.6 712.9h0M1582.9 712.2h0M1587.8 712.7h0M898.4 713.2h0M903.3 713.8h0M932.5 713.1h0M1230.5 713.1h0M1571.8 713.3h0M1588.1 713.5h0M1605.1 713.5h0M915.6 714.2h0M937.2 714.2h0M1606.9 714.8h0M867.8 715.4h0M872.0 715.3h0M875.1 715.8h0M882.0 715.7h0M885.6 715.3h0M899.3 715.3h0M912.6 715.4h0M927.2 715.6h0M952.5 715.8h0M955.7 715.9h0M1227.9 715.6h0M1586.6 715.3h0M867.4 716.8h0M878.5 716.5h0M887.9 716.3h0M898.1 716.4h0M907.0 716.3h0M912.4 716.8h0M919.3 716.8h0M929.7 716.4h0M1579.3 716.0h0M1588.4 716.2h0M1607.5 716.3h0M1613.8 716.3h0M873.9 717.2h0M890.1 717.6h0M893.9 717.9h0M899.7 717.8h0M952.3 717.9h0M1613.4 717.7h0M873.9 718.2h0M881.0 718.9h0M898.0 718.5h0M900.6 718.0h0M915.3 718.2h0M918.4 718.1h0M930.5 718.4h0M944.5 718.8h0M953.6 718.4h0M1612.4 718.9h0M871.7 719.7h0M872.5 719.2h0M900.9 719.7h0M906.3 719.2h0M917.3 719.7h0M934.8 719.9h0M960.9 719.7h0M1580.4 719.6h0M873.5 720.5h0M875.7 720.2h0M881.9 720.1h0M890.2 720.3h0M891.4 720.9h0M927.1 720.5h0M1584.0 720.7h0M1590.9 720.8h0M876.2 721.2h0M885.9 721.4h0M888.0 721.7h0M894.3 721.7h0M901.2 721.9h0M927.3 721.5h0M935.0 722.0h0M942.2 721.3h0M953.5 721.2h0M1592.4 721.1h0M1595.8 721.3h0M865.4 722.3h0M867.4 722.2h0M881.0 722.8h0M901.1 722.1h0M922.9 722.6h0M931.1 722.6h0M1585.0 722.9h0M1610.1 722.0h0M1612.5 722.4h0M861.0 723.5h0M872.6 723.6h0M893.4 723.4h0M932.8 723.9h0M965.7 723.1h0M1229.3 723.4h0M1609.8 723.2h0M891.6 724.7h0M904.9 724.4h0M920.7 724.4h0M936.1 724.1h0M940.0 724.8h0M956.1 724.3h0M1228.2 724.4h0M1597.5 724.3h0M1612.2 724.2h0M1617.7 724.6h0M1621.2 724.8h0M866.0 725.7h0M877.5 725.6h0M879.7 725.1h0M891.5 725.6h0M914.6 725.5h0M924.7 725.4h0M937.5 725.7h0M938.9 725.4h0M948.4 725.9h0M952.3 725.7h0M963.7 725.2h0M970.3 725.3h0M971.4 725.2h0M1227.6 725.8h0M1591.0 725.4h0M1618.9 725.3h0M866.7 726.3h0M882.8 726.9h0M917.4 726.4h0M946.7 726.3h0M959.6 726.5h0M960.1 726.5h0M1585.1 726.7h0M1600.8 726.3h0M887.1 727.8h0M888.0 727.8h0M890.9 727.7h0M924.7 727.7h0M940.4 728.0h0M971.2 727.7h0M1599.3 727.6h0M1622.5 727.4h0M857.6 728.4h0M875.0 729.0h0M885.6 728.7h0M897.8 728.4h0M932.5 728.1h0M934.8 728.3h0M944.1 728.5h0M957.7 728.4h0M969.4 728.3h0M1164.8 728.8h0M1591.0 728.6h0M863.2 729.9h0M873.7 729.6h0M875.7 729.3h0M881.7 729.2h0M882.2 729.8h0M885.2 729.0h0M888.1 729.8h0M889.5 729.7h0M901.2 729.3h0M917.5 729.0h0M939.1 729.3h0M968.7 729.7h0M971.0 729.6h0M973.4 729.9h0M974.4 729.5h0M1165.1 729.5h0M1607.2 729.7h0M1616.7 730.0h0M1619.0 729.2h0M860.2 730.4h0M873.0 730.9h0M875.9 730.4h0M891.7 730.9h0M899.8 730.5h0M901.4 730.9h0M967.6 730.3h0M971.2 730.2h0M1228.1 730.5h0M1231.4 730.5h0M1594.4 730.9h0M1595.8 730.1h0M1609.9 730.2h0M854.1 731.4h0M862.4 731.1h0M867.1 731.7h0M880.5 731.3h0M892.1 731.4h0M896.0 731.2h0M912.7 731.9h0M936.7 731.7h0M941.2 731.0h0M965.0 731.4h0M976.4 732.0h0M1225.1 731.6h0M1623.8 731.4h0M853.4 732.2h0M864.0 732.8h0M873.6 732.4h0M923.7 732.3h0M932.7 732.3h0M941.7 732.1h0M953.9 732.7h0M958.3 732.9h0M968.6 732.7h0M973.9 732.8h0M1140.1 732.6h0M1144.5 732.8h0M1151.2 732.5h0M1225.8 732.7h0M859.9 733.5h0M863.5 733.6h0M872.2 733.9h0M889.0 733.4h0M912.8 733.9h0M919.0 733.7h0M932.2 733.7h0M935.8 733.4h0M936.9 733.7h0M938.4 733.7h0M943.4 733.4h0M967.4 733.9h0M883.1 734.7h0M918.7 734.4h0M948.4 734.3h0M1150.6 734.1h0M1617.2 734.6h0M860.0 735.4h0M861.8 735.2h0M862.6 735.6h0M921.4 735.4h0M929.3 735.9h0M964.7 735.6h0M1136.9 735.6h0M1145.7 735.9h0M1157.9 735.7h0M1230.9 735.0h0M1597.3 735.6h0M849.7 736.0h0M855.4 736.3h0M860.7 736.0h0M873.4 736.7h0M877.6 736.4h0M915.5 736.0h0M916.3 736.7h0M971.8 736.7h0M1151.7 737.0h0M1158.9 736.1h0M1160.3 736.1h0M1228.8 736.6h0M1604.2 737.0h0M855.1 737.5h0M856.6 737.2h0M859.1 737.0h0M872.9 737.9h0M902.5 737.6h0M954.7 737.3h0M850.3 738.8h0M854.9 738.2h0M868.5 738.5h0M873.0 738.6h0M879.0 739.0h0M883.0 738.1h0M1123.6 738.2h0M1607.2 738.2h0M840.5 739.4h0M852.7 739.1h0M862.3 740.0h0M866.0 739.2h0M868.7 739.9h0M891.6 739.7h0M892.8 739.5h0M960.4 739.8h0M973.9 739.1h0M1128.2 739.8h0M1146.8 739.3h0M1224.1 739.0h0M1604.7 739.5h0M855.9 740.8h0M858.5 740.9h0M863.0 740.6h0M868.2 740.0h0M871.7 740.5h0M872.0 740.6h0M873.9 740.7h0M881.5 740.6h0M900.9 740.9h0M1145.3 740.3h0M1146.5 741.0h0M1163.4 740.2h0M1179.7 740.0h0M839.9 741.6h0M844.5 741.5h0M852.0 742.0h0M853.0 741.8h0M856.7 741.3h0M857.4 741.9h0M982.3 741.1h0M1123.2 741.4h0M1147.5 741.8h0M1228.3 741.2h0M899.1 742.7h0M1129.3 742.8h0M1175.8 742.1h0M1219.2 742.8h0M836.0 743.4h0M848.9 743.9h0M858.4 743.4h0M861.2 743.9h0M872.4 743.8h0M963.7 743.2h0M964.8 743.6h0M1130.6 743.2h0M1136.7 743.8h0M1141.2 743.5h0M1142.2 743.6h0M861.8 744.5h0M871.7 744.3h0M880.0 744.3h0M959.4 744.3h0M967.3 744.3h0M1136.8 744.8h0M1176.4 745.0h0M847.2 745.8h0M849.1 745.9h0M863.1 745.3h0M878.1 745.8h0M1152.8 745.7h0M1172.9 745.1h0M1174.1 745.7h0M1181.1 745.6h0M1182.8 745.9h0M1219.8 745.7h0M841.1 746.1h0M842.1 746.8h0M846.0 746.3h0M976.4 746.9h0M981.5 746.8h0M1131.7 746.1h0M1165.4 746.6h0M1224.2 746.5h0M831.5 747.1h0M843.0 747.2h0M846.5 747.9h0M852.1 747.4h0M885.5 747.4h0M976.5 747.1h0M979.5 747.2h0M983.4 747.1h0M1112.2 747.8h0M1126.7 747.3h0M1175.6 747.2h0M1178.4 748.0h0M1189.3 747.6h0M1217.3 747.0h0M835.3 748.3h0M845.1 749.0h0M849.3 749.0h0M856.6 748.3h0M984.6 748.7h0M1131.5 748.5h0M1159.8 748.7h0M1216.7 748.6h0M1220.8 748.6h0M835.3 749.3h0M842.8 749.1h0M847.6 749.0h0M854.1 749.5h0M873.5 749.6h0M880.1 749.3h0M967.3 749.2h0M982.7 749.9h0M985.5 749.2h0M1169.3 749.9h0M1177.6 750.0h0M1192.8 749.5h0M1197.0 749.2h0M1200.8 749.0h0M1203.1 749.6h0M1209.2 749.8h0M834.1 750.6h0M836.6 750.6h0M838.4 750.6h0M843.2 750.1h0M858.8 750.9h0M860.2 750.6h0M964.1 750.1h0M1169.9 750.6h0M1177.2 750.8h0M1210.4 750.4h0M1212.0 750.6h0M859.6 751.3h0M871.9 751.2h0M886.6 751.6h0M890.1 752.0h0M1116.7 751.6h0M1159.8 752.0h0M1177.0 751.0h0M1210.4 751.2h0M1218.6 751.6h0M1219.8 751.3h0M833.4 752.3h0M838.4 753.0h0M855.3 752.1h0M863.9 752.4h0M884.2 752.0h0M980.1 752.6h0M987.1 752.5h0M1160.8 752.2h0M1196.4 752.7h0M1198.0 752.2h0M862.9 753.8h0M985.4 753.4h0M1124.5 753.3h0M1128.5 753.5h0M1130.7 753.5h0M1150.0 753.4h0M1158.6 753.4h0M1176.4 753.1h0M833.6 754.2h0M852.4 754.2h0M868.6 754.7h0M1114.6 754.9h0M1129.2 754.0h0M1152.2 754.7h0M1155.2 754.9h0M1177.4 754.1h0M1180.6 754.4h0M1196.9 754.8h0M1212.3 754.1h0M1213.0 754.7h0M1214.3 754.2h0M866.7 755.2h0M1156.6 755.6h0M1175.1 755.5h0M1184.7 756.0h0M1219.2 755.6h0M829.0 756.1h0M976.7 756.1h0M1111.7 756.4h0M1173.6 756.8h0M1183.4 756.6h0M1198.2 756.9h0M1219.8 756.0h0M1104.2 757.3h0M1116.8 757.6h0M1166.6 757.2h0M1175.7 757.4h0M1198.2 757.8h0M1219.2 757.0h0M832.4 758.3h0M987.8 758.1h0M1191.6 758.4h0M1203.4 758.9h0M1214.5 758.1h0M989.5 759.3h0M1104.8 759.2h0M1123.2 759.1h0M1131.0 759.9h0M1176.9 759.6h0M1217.6 759.1h0M1104.0 760.4h0M1108.2 761.0h0M1149.8 760.1h0M1157.5 760.9h0M1169.2 760.1h0M1186.6 760.6h0M987.8 761.3h0M1106.5 761.2h0M1181.4 761.9h0M1198.0 761.1h0M1205.6 761.5h0M1206.8 761.1h0M980.6 762.0h0M981.3 762.4h0M1168.8 762.1h0M1173.4 762.9h0M1174.8 762.9h0M1201.3 762.5h0M1202.2 762.1h0M1203.3 762.4h0M904.3 763.4h0M978.6 763.6h0M1171.1 763.0h0M1172.4 763.5h0M1179.1 763.0h0M1193.8 764.0h0M1206.9 763.9h0M1210.6 763.0h0M1160.4 764.8h0M1174.4 764.2h0M1200.9 764.7h0M1212.4 764.3h0M1219.7 764.4h0M1222.2 764.4h0M976.3 765.3h0M1109.0 765.1h0M1117.9 765.7h0M1174.7 765.5h0M1177.7 765.4h0M1178.8 765.9h0M1184.8 765.3h0M1185.9 765.7h0M1205.1 765.5h0M1207.5 765.3h0M1222.5 765.8h0M1098.5 766.5h0M1115.0 766.6h0M1189.3 766.4h0M1211.6 766.8h0M1089.0 767.5h0M1092.1 767.7h0M1118.8 767.2h0M1119.9 767.2h0M1178.7 767.6h0M1183.1 767.9h0M1192.3 767.2h0M1215.9 767.2h0M980.9 769.0h0M1101.9 768.2h0M1105.3 768.2h0M1117.3 768.4h0M1154.2 768.7h0M1190.4 768.1h0M935.0 769.1h0M1090.0 769.4h0M1105.8 769.8h0M1152.2 769.4h0M1181.2 769.9h0M1206.0 769.8h0M1210.8 770.0h0M1212.0 769.6h0M1098.6 770.7h0M1187.8 770.2h0M986.6 772.0h0M1130.3 771.0h0M1156.9 771.2h0M1183.6 771.1h0M1203.1 771.6h0M890.7 772.2h0M1081.1 772.6h0M1092.7 772.6h0M1112.4 772.0h0M1179.5 772.5h0M1183.9 772.2h0M1193.4 772.6h0M859.9 773.2h0M1089.7 773.7h0M1190.3 773.9h0M1196.0 773.0h0M1215.8 773.7h0M1221.0 773.5h0M834.5 774.7h0M931.1 774.6h0M1093.5 775.0h0M1163.1 774.7h0M1169.0 774.8h0M1209.3 774.5h0M1210.1 774.5h0M1076.6 775.8h0M1079.0 775.2h0M1086.7 775.5h0M1112.7 775.5h0M1189.7 775.2h0M1081.1 776.7h0M1090.9 776.1h0M1122.8 777.0h0M1177.6 776.9h0M1181.0 776.8h0M1193.4 777.0h0M1199.1 776.1h0M1200.5 776.9h0M1106.4 777.1h0M1107.9 777.9h0M1116.1 777.7h0M1185.7 777.3h0M1205.8 777.3h0M1090.3 778.2h0M1091.2 778.3h0M1178.2 778.9h0M1185.3 778.9h0M898.1 779.5h0M1077.5 779.3h0M1087.4 779.8h0M1192.0 779.0h0M1196.3 779.3h0M1206.8 779.6h0M790.4 780.6h0M1089.6 780.8h0M1108.0 780.3h0M1110.4 780.1h0M1133.3 780.0h0M1217.0 780.2h0M1218.7 780.1h0M1220.8 780.8h0M1221.5 780.1h0M909.6 781.1h0M1106.3 781.3h0M1130.1 781.5h0M1186.2 781.8h0M1208.2 781.1h0M1220.8 781.7h0M803.8 782.8h0M909.2 782.5h0M1097.8 782.6h0M1115.7 782.3h0M1126.2 782.5h0M1188.4 782.7h0M1192.8 783.0h0M1205.3 782.8h0M1211.1 782.6h0M1220.0 782.8h0M806.8 783.9h0M1083.0 783.5h0M1086.4 783.3h0M1099.2 783.9h0M1135.9 783.4h0M1174.8 783.9h0M1184.7 783.7h0M1192.9 783.9h0M1198.6 783.2h0M1205.0 783.6h0M1216.9 783.4h0M1220.3 783.5h0M927.2 784.4h0M933.3 784.8h0M1077.8 784.7h0M1079.5 784.1h0M1108.6 784.5h0M1112.7 784.3h0M1174.1 784.6h0M1187.1 784.2h0M1190.5 784.5h0M1210.0 784.2h0M792.2 785.2h0M1102.8 785.8h0M1189.3 785.1h0M1205.2 785.2h0M790.6 786.8h0M803.7 786.2h0M816.8 786.1h0M1078.8 786.4h0M1121.8 786.1h0M1176.1 786.4h0M1190.7 786.5h0M1195.9 786.0h0M1198.6 786.3h0M1212.3 786.4h0M791.0 787.4h0M794.1 787.3h0M806.9 787.3h0M811.0 787.1h0M952.8 787.4h0M1094.5 787.3h0M1095.2 787.8h0M1097.8 787.6h0M1186.6 787.7h0M1192.7 787.7h0M1218.8 787.4h0M794.2 788.8h0M1102.3 788.6h0M1111.8 788.1h0M1118.2 788.7h0M1165.0 788.2h0M1193.9 788.4h0M1197.5 788.6h0M1216.2 788.9h0M809.3 789.1h0M816.3 789.2h0M939.1 789.5h0M944.0 789.6h0M948.5 789.6h0M953.6 789.3h0M1176.1 789.1h0M1180.7 789.2h0M1207.5 789.6h0M1216.0 789.1h0M792.0 790.0h0M802.8 790.5h0M822.6 790.9h0M823.8 790.0h0M864.9 790.0h0M920.0 790.3h0M966.0 790.8h0M1101.3 790.8h0M1105.1 790.1h0M1120.4 790.4h0M1165.3 790.6h0M1186.0 790.2h0M1198.7 790.1h0M1212.6 790.0h0M842.4 791.5h0M891.4 791.5h0M900.1 791.5h0M912.9 792.0h0M934.7 791.4h0M951.4 791.4h0M957.9 791.9h0M958.1 791.3h0M1082.4 791.8h0M1115.4 791.7h0M1117.2 791.3h0M1123.8 791.6h0M1188.6 792.0h0M1197.4 791.2h0M1199.6 791.9h0M788.8 792.4h0M815.3 792.2h0M872.1 793.0h0M875.0 792.8h0M875.8 792.4h0M878.5 792.8h0M897.0 792.7h0M919.6 792.9h0M933.8 792.7h0M1079.3 792.2h0M1082.4 792.4h0M1122.8 792.6h0M1184.5 792.7h0M1192.7 792.9h0M1202.3 792.1h0M1220.9 792.8h0M790.3 793.3h0M796.5 793.1h0M806.5 793.1h0M819.5 793.8h0M852.8 793.5h0M858.3 793.8h0M912.5 793.3h0M919.2 793.6h0M960.2 793.8h0M980.3 793.7h0M1086.7 793.0h0M1190.8 793.6h0M1207.0 793.6h0M787.2 794.3h0M803.5 794.3h0M810.0 794.8h0M812.4 794.8h0M821.2 794.3h0M838.0 794.9h0M849.7 794.0h0M851.6 794.5h0M859.2 794.2h0M860.6 794.7h0M881.1 794.3h0M884.2 794.2h0M893.2 794.3h0M907.6 794.6h0M918.3 794.1h0M929.0 794.1h0M949.0 794.0h0M1101.7 794.5h0M1118.0 794.4h0M1171.9 794.7h0M1223.7 794.9h0M790.8 795.5h0M791.1 795.6h0M810.6 795.3h0M835.4 795.6h0M847.3 795.5h0M849.6 795.3h0M867.6 795.1h0M917.6 795.8h0M921.1 796.0h0M932.8 795.9h0M964.4 795.2h0M1076.3 795.4h0M1085.9 795.3h0M1095.9 795.2h0M1174.5 795.3h0M1183.8 795.4h0M1195.8 795.9h0M1227.2 795.5h0M784.3 796.4h0M790.5 796.5h0M796.0 796.8h0M807.8 796.3h0M811.6 796.7h0M812.6 796.3h0M814.1 796.3h0M816.9 796.6h0M836.3 796.5h0M846.4 796.8h0M852.0 796.5h0M858.3 797.0h0M873.1 796.2h0M900.0 796.3h0M917.6 796.0h0M946.0 796.9h0M955.1 796.9h0M962.0 796.8h0M972.7 796.5h0M986.9 796.8h0M998.2 796.7h0M1091.2 796.6h0M1121.6 796.8h0M817.7 797.1h0M826.4 797.6h0M834.3 797.3h0M844.2 798.0h0M849.0 797.4h0M851.0 797.9h0M852.8 797.9h0M860.3 797.7h0M877.1 797.3h0M888.9 797.0h0M900.5 797.4h0M916.1 798.0h0M922.6 797.4h0M932.9 797.8h0M958.8 797.2h0M959.8 797.1h0M1185.5 797.1h0M1199.8 798.0h0M1225.0 798.0h0M786.8 799.0h0M788.0 798.4h0M792.8 798.1h0M799.3 798.6h0M808.7 798.5h0M819.1 798.7h0M845.8 798.8h0M849.7 799.0h0M852.6 798.1h0M856.0 798.3h0M867.2 798.3h0M869.3 798.0h0M877.5 798.4h0M922.4 798.6h0M926.8 798.1h0M927.5 798.0h0M985.2 798.6h0M992.0 798.1h0M1079.4 798.1h0M1095.6 798.6h0M1190.8 798.8h0M1195.2 798.6h0M1198.3 798.4h0M795.4 799.8h0M802.2 799.1h0M808.1 799.9h0M809.7 799.6h0M815.9 799.2h0M846.2 799.3h0M861.6 799.9h0M870.0 799.7h0M895.4 799.9h0M910.7 799.8h0M932.9 799.6h0M945.7 799.1h0M953.4 799.3h0M991.0 799.3h0M998.5 799.4h0M1085.0 799.6h0M1104.8 799.6h0M1120.0 800.0h0M1161.2 799.1h0M1187.5 799.2h0M1189.0 799.9h0M1197.0 799.2h0M796.5 800.3h0M805.5 800.6h0M811.6 800.4h0M815.3 800.1h0M817.0 800.2h0M832.3 800.7h0M834.9 800.4h0M836.2 800.8h0M837.3 800.7h0M848.6 800.3h0M849.2 800.6h0M852.2 800.7h0M880.5 800.3h0M882.5 800.6h0M890.5 800.5h0M930.9 800.4h0M949.6 800.9h0M953.6 800.5h0M958.6 800.7h0M977.7 800.3h0M995.8 800.0h0M1008.3 800.3h0M1102.9 800.7h0M1157.5 800.7h0M1216.4 800.8h0M798.8 801.4h0M821.5 801.1h0M833.2 801.7h0M851.8 801.6h0M859.8 801.3h0M868.4 801.5h0M874.4 801.1h0M894.4 801.3h0M903.9 801.4h0M906.6 801.5h0M942.7 801.7h0M949.3 801.6h0M984.4 801.6h0M1015.2 801.6h0M1018.5 801.7h0M1086.0 802.0h0M1096.6 801.7h0M1167.3 801.8h0M815.1 802.8h0M816.3 802.1h0M822.3 802.4h0M844.7 802.9h0M851.6 802.1h0M873.4 802.1h0M874.8 802.2h0M883.7 802.2h0M888.8 802.3h0M890.1 802.1h0M909.8 802.4h0M949.5 802.7h0M981.6 802.8h0M988.6 802.7h0M991.3 802.1h0M1009.7 802.2h0M1038.2 802.6h0M1086.0 802.3h0M1111.4 802.4h0M1194.0 803.0h0M1224.5 802.6h0M784.1 803.0h0M793.9 803.7h0M821.7 803.9h0M822.6 803.4h0M834.4 803.2h0M835.3 803.9h0M843.3 803.3h0M846.0 803.9h0M863.3 803.8h0M877.2 803.3h0M900.8 803.7h0M906.6 803.5h0M922.7 803.1h0M927.1 803.5h0M947.8 803.2h0M972.2 803.6h0M1084.8 803.9h0M1194.9 803.0h0M1199.9 803.6h0M1215.1 803.4h0M1220.5 803.0h0M1222.4 803.6h0M1223.8 803.5h0M1226.3 803.7h0M799.9 804.6h0M821.4 804.3h0M829.5 804.1h0M832.6 805.0h0M833.7 804.8h0M835.4 804.0h0M847.8 804.9h0M859.0 804.8h0M859.8 805.0h0M873.5 804.6h0M896.0 804.4h0M900.8 804.1h0M920.3 804.8h0M937.2 804.8h0M950.4 804.4h0M956.4 804.1h0M967.5 805.0h0M977.2 805.0h0M1007.1 804.8h0M1011.2 804.4h0M1016.2 804.8h0M1029.8 804.8h0M1031.8 804.5h0M1032.7 804.7h0M1103.5 804.4h0M1113.1 804.4h0M1179.4 804.0h0M1198.2 804.2h0M1224.1 804.1h0M783.4 805.2h0M789.0 805.1h0M794.4 805.6h0M797.1 805.8h0M811.2 805.9h0M863.2 805.3h0M878.8 805.6h0M934.2 805.4h0M939.5 805.7h0M961.7 805.3h0M971.7 805.1h0M1015.6 805.3h0M1016.2 805.8h0M1025.5 805.1h0M1027.0 805.0h0M1030.9 805.4h0M1033.9 805.2h0M1109.9 805.7h0M1125.8 805.9h0M1140.2 805.7h0M793.3 806.8h0M797.9 806.3h0M812.0 806.1h0M825.6 806.6h0M827.8 806.0h0M840.0 806.9h0M845.3 806.3h0M857.8 806.9h0M883.8 806.1h0M936.1 806.0h0M947.9 806.8h0M949.5 806.8h0M986.9 806.1h0M1000.4 806.6h0M1005.5 806.5h0M1006.5 806.9h0M1035.0 806.9h0M1045.2 806.8h0M1106.9 806.3h0M1113.2 806.4h0M1134.7 806.4h0M1171.4 806.2h0M1200.2 806.5h0M782.2 807.1h0M783.2 808.0h0M794.1 807.6h0M795.2 807.8h0M802.8 807.3h0M808.2 807.4h0M815.7 807.9h0M827.7 807.5h0M829.9 807.9h0M831.3 807.4h0M836.0 807.3h0M846.1 807.7h0M892.4 807.9h0M943.3 807.4h0M959.6 807.4h0M991.1 807.2h0M1024.0 807.1h0M1122.2 807.8h0M1124.4 807.5h0M1222.9 807.1h0M787.8 808.9h0M844.9 808.4h0M857.3 808.5h0M903.6 808.4h0M971.2 808.3h0M1011.4 808.7h0M1022.6 808.7h0M1034.7 808.7h0M1036.9 808.9h0M1123.9 808.9h0M1153.9 808.3h0M1169.1 808.2h0M1221.7 808.2h0M1223.4 808.7h0M1225.4 808.1h0M780.5 809.3h0M781.3 809.5h0M788.7 809.5h0M803.2 809.5h0M829.8 809.5h0M843.8 809.2h0M927.3 809.6h0M928.8 810.0h0M970.9 809.9h0M1095.2 810.0h0M1124.2 810.0h0M1143.6 809.5h0M1146.6 809.6h0M1179.7 809.5h0M1191.3 809.7h0M1222.0 809.2h0M1224.9 809.6h0M1225.1 809.2h0M1229.5 809.3h0M783.4 810.2h0M785.2 810.6h0M786.4 810.2h0M787.1 810.3h0M793.7 810.8h0M796.6 810.9h0M813.3 810.4h0M837.0 810.0h0M838.8 810.9h0M841.2 810.3h0M855.1 810.4h0M856.9 810.3h0M872.6 811.0h0M915.2 810.2h0M972.7 810.7h0M980.3 811.0h0M996.1 810.8h0M1005.3 810.6h0M1021.8 810.2h0M1155.4 810.5h0M1173.3 811.0h0M1174.7 810.4h0M788.0 811.7h0M789.2 811.3h0M790.4 811.6h0M807.5 811.1h0M812.5 811.9h0M832.7 811.2h0M851.5 811.1h0M853.8 811.1h0M909.9 811.5h0M928.5 811.6h0M955.2 811.3h0M957.0 811.9h0M969.7 811.7h0M1029.4 811.1h0M1036.9 811.8h0M1050.1 811.8h0M1152.7 811.7h0M1162.1 811.2h0M1164.5 811.2h0M1171.4 811.3h0M780.3 812.8h0M781.8 812.5h0M795.8 812.3h0M799.9 812.3h0M810.0 812.5h0M821.8 812.8h0M844.8 812.7h0M854.3 812.7h0M904.1 812.1h0M905.8 812.0h0M935.7 812.6h0M936.4 812.2h0M950.4 812.2h0M969.1 812.1h0M973.5 812.2h0M1014.3 812.6h0M1015.3 812.9h0M1043.7 812.7h0M1113.9 812.4h0M1139.9 812.2h0M1141.9 812.5h0M1142.1 812.5h0M1145.7 812.3h0M1146.7 812.3h0M1152.6 812.4h0M1153.1 812.3h0M1159.4 812.8h0M1168.7 812.4h0M1169.4 812.7h0M1170.5 812.5h0M1172.8 812.2h0M1183.9 812.8h0M1192.0 812.7h0M781.1 813.1h0M785.3 813.4h0M793.5 813.2h0M802.1 813.7h0M815.1 813.2h0M818.2 813.3h0M832.3 813.9h0M837.8 813.3h0M843.9 813.5h0M869.1 813.7h0M944.9 813.2h0M989.9 813.6h0M1005.3 813.3h0M1011.5 813.9h0M1017.8 813.1h0M1031.9 813.3h0M1034.0 813.5h0M1058.1 813.1h0M1144.5 813.2h0M1165.0 813.8h0M1195.2 813.7h0M1220.2 813.3h0M784.8 814.7h0M791.4 814.5h0M797.7 814.4h0M798.8 814.5h0M805.5 814.9h0M823.0 814.1h0M828.9 814.2h0M833.1 814.3h0M841.5 814.7h0M848.7 814.9h0M852.1 814.3h0M861.0 814.0h0M864.0 815.0h0M865.8 814.9h0M867.2 814.7h0M868.5 814.6h0M870.9 814.8h0M883.7 814.3h0M889.9 814.7h0M937.4 814.7h0M946.6 814.9h0M950.2 814.4h0M956.6 814.0h0M972.0 814.3h0M1004.9 814.7h0M1023.3 814.7h0M1046.3 814.7h0M1129.4 814.7h0M1133.3 814.6h0M1143.0 814.1h0M1164.3 814.8h0M1186.0 814.7h0M1225.5 814.5h0M780.4 815.0h0M805.9 815.6h0M817.2 815.9h0M830.4 815.1h0M849.1 815.5h0M852.2 815.6h0M863.4 815.6h0M980.6 816.0h0M995.2 815.8h0M1031.2 815.4h0M1047.0 815.9h0M1057.0 815.0h0M1135.4 815.1h0M1139.6 815.5h0M1166.7 815.4h0M1191.1 815.8h0M1204.1 815.3h0M1211.4 815.3h0M1217.7 815.9h0M782.8 816.6h0M796.4 816.5h0M798.4 816.6h0M815.3 816.5h0M818.7 816.9h0M833.6 816.5h0M835.9 816.8h0M847.7 816.1h0M862.9 816.8h0M922.8 816.9h0M931.3 816.9h0M1001.6 816.2h0M1024.6 816.2h0M1060.5 816.0h0M1093.4 816.6h0M1167.1 816.7h0M1169.8 816.7h0M1172.6 816.0h0M1180.6 816.7h0M1208.1 816.3h0M1212.9 816.2h0M1221.4 816.8h0M1223.5 816.5h0M1226.8 816.6h0M788.7 817.6h0M793.6 818.0h0M795.0 817.9h0M797.9 817.8h0M805.7 817.0h0M816.4 817.6h0M819.0 817.7h0M824.0 817.8h0M827.0 817.2h0M830.7 817.7h0M842.1 818.0h0M861.9 817.5h0M866.7 817.4h0M870.3 817.0h0M883.3 817.5h0M943.1 817.1h0M957.9 817.3h0M959.2 817.1h0M968.9 817.7h0M974.0 817.5h0M979.7 817.2h0M981.0 817.3h0M1028.7 817.8h0M1045.7 817.0h0M1091.5 817.7h0M1125.6 817.1h0M1144.4 817.5h0M1150.0 817.2h0M1153.4 817.4h0M1164.4 817.8h0M1167.2 817.2h0M1171.5 817.2h0M1192.4 817.6h0M1196.3 818.0h0M1207.4 817.8h0M1211.4 817.8h0M781.1 818.9h0M797.5 818.1h0M844.9 818.5h0M856.7 818.6h0M858.9 818.4h0M875.6 818.9h0M895.4 818.3h0M897.1 818.7h0M908.1 818.4h0M953.9 818.2h0M994.2 818.6h0M1030.1 818.8h0M1031.9 818.7h0M1050.4 818.9h0M1054.0 818.1h0M1092.6 818.4h0M1121.5 818.4h0M1144.1 818.6h0M1150.0 818.6h0M1197.5 818.3h0M1208.1 818.6h0M1215.5 818.3h0M1224.9 818.4h0M780.5 819.8h0M794.4 819.6h0M806.1 819.0h0M823.6 819.1h0M838.6 819.1h0M846.9 819.2h0M865.5 819.7h0M871.6 819.3h0M886.0 819.3h0M887.3 819.8h0M928.0 819.3h0M929.6 819.5h0M937.6 819.0h0M987.3 819.8h0M1006.4 819.6h0M1019.6 819.9h0M1027.6 819.6h0M1045.2 819.8h0M1059.7 819.3h0M1128.1 819.5h0M1151.8 819.7h0M1156.8 819.7h0M1159.3 819.1h0M1174.5 819.7h0M1208.7 819.1h0M784.2 820.2h0M789.8 820.2h0M790.9 820.6h0M810.2 820.8h0M820.5 820.2h0M828.6 820.2h0M833.5 820.5h0M863.7 820.4h0M867.4 820.5h0M869.1 820.2h0M872.7 820.0h0M893.0 820.1h0M910.7 820.6h0M914.6 820.4h0M927.8 820.2h0M954.1 820.2h0M972.0 820.9h0M988.8 820.1h0M993.1 820.5h0M994.9 820.6h0M996.4 820.4h0M1002.8 820.5h0M1004.1 820.4h0M1033.8 820.6h0M1034.2 820.3h0M1050.2 820.6h0M1139.0 820.9h0M1141.1 820.9h0M1177.2 820.3h0M1197.6 820.4h0M1201.0 820.6h0M1213.7 821.0h0M1217.5 820.5h0M781.0 821.4h0M785.3 821.4h0M792.3 821.6h0M807.7 821.9h0M809.4 821.1h0M814.8 821.9h0M844.3 821.4h0M869.2 821.3h0M872.1 821.9h0M885.9 821.7h0M911.7 821.6h0M924.1 821.5h0M935.4 821.6h0M937.2 821.2h0M966.5 821.5h0M996.7 821.5h0M1028.0 821.3h0M1142.3 821.6h0M1143.4 821.1h0M1164.6 821.8h0M1169.9 821.6h0M1184.4 821.6h0M800.1 822.3h0M842.9 822.3h0M870.9 822.0h0M897.7 822.1h0M914.2 822.4h0M943.4 822.1h0M958.2 822.9h0M1028.3 822.6h0M1045.7 822.1h0M1120.4 822.3h0M1135.4 822.1h0M1192.7 822.8h0M1213.4 822.8h0M779.6 823.1h0M789.6 823.7h0M791.6 823.5h0M799.4 823.9h0M814.5 823.5h0M820.9 823.0h0M837.4 823.9h0M867.5 823.0h0M889.6 823.5h0M893.3 824.0h0M928.6 823.9h0M974.2 823.5h0M985.2 823.1h0M992.6 823.9h0M997.7 823.4h0M1006.9 823.7h0M1011.9 823.1h0M1014.3 823.8h0M1016.0 823.1h0M1142.5 823.9h0M1144.0 823.9h0M1159.9 823.2h0M1169.3 823.9h0M1198.5 823.2h0M1222.6 823.6h0M796.4 824.7h0M797.5 824.2h0M821.8 824.0h0M822.0 824.5h0M857.6 824.5h0M875.1 824.1h0M935.4 824.7h0M945.8 824.0h0M996.8 824.1h0M999.9 824.1h0M1001.0 824.5h0M1006.1 824.8h0M1050.5 824.4h0M1059.9 824.8h0M1088.0 824.4h0M1126.3 824.9h0M1128.3 824.9h0M1144.1 824.5h0M1171.9 824.4h0M1204.9 824.3h0M1206.3 824.8h0M1209.7 825.0h0M1217.6 824.8h0M1221.0 824.2h0M783.0 825.3h0M786.2 825.1h0M792.9 825.5h0M801.5 825.1h0M806.5 825.2h0M822.0 825.1h0M829.9 825.4h0M835.2 825.5h0M836.8 825.8h0M852.3 825.5h0M854.3 826.0h0M856.9 825.4h0M858.3 826.0h0M864.5 825.2h0M875.8 825.0h0M906.1 825.8h0M938.7 825.3h0M963.2 825.5h0M968.7 825.6h0M978.4 825.6h0M986.5 825.4h0M992.0 825.8h0M999.0 825.9h0M1045.5 825.4h0M1108.6 825.6h0M1129.6 826.0h0M1179.4 825.8h0M1210.4 825.1h0M786.1 826.9h0M790.3 826.6h0M836.5 826.6h0M846.0 826.6h0M857.6 826.0h0M860.3 826.0h0M861.6 826.4h0M869.8 826.9h0M870.2 826.9h0M934.0 826.5h0M953.0 826.5h0M954.1 826.9h0M961.0 826.2h0M967.1 826.7h0M1031.4 826.7h0M1050.3 826.3h0M1131.8 826.7h0M1135.5 826.1h0M1143.1 826.1h0M1168.0 826.6h0M1170.5 826.5h0M1179.7 826.7h0M1215.4 826.1h0M798.8 827.8h0M810.2 827.1h0M813.8 827.1h0M829.8 827.1h0M835.5 827.5h0M843.0 827.8h0M851.1 827.7h0M876.7 827.9h0M906.7 827.9h0M1007.0 827.6h0M1012.6 827.8h0M1014.9 827.6h0M1023.3 827.6h0M1128.1 827.6h0M1132.9 827.9h0M1137.1 827.9h0M1139.9 827.6h0M798.3 828.4h0M814.2 828.5h0M828.4 829.0h0M839.2 828.0h0M840.3 828.2h0M855.6 828.6h0M859.2 828.1h0M864.0 828.6h0M874.5 828.5h0M875.3 828.6h0M878.8 828.3h0M904.2 828.7h0M945.5 828.6h0M949.8 828.7h0M957.5 828.3h0M964.0 828.3h0M978.4 828.1h0M982.3 828.4h0M995.8 829.0h0M1003.3 828.4h0M1053.3 828.4h0M1143.7 828.9h0M1146.7 828.5h0M1170.6 828.4h0M1173.7 828.7h0M1181.5 828.2h0M1182.8 828.1h0M1194.9 828.9h0M1213.7 828.3h0M792.5 829.8h0M800.8 829.7h0M816.0 829.6h0M819.5 829.7h0M823.8 829.3h0M825.0 829.5h0M840.7 829.0h0M846.8 829.5h0M847.3 829.4h0M853.3 829.9h0M862.5 829.3h0M863.6 829.0h0M893.9 829.0h0M935.3 829.8h0M948.0 829.2h0M995.2 829.0h0M1026.1 829.5h0M1027.8 829.1h0M1030.9 829.0h0M1133.9 829.9h0M1147.7 829.1h0M1153.7 829.7h0M1163.8 829.7h0M1171.3 829.5h0M1185.8 829.6h0M1186.0 829.1h0M1197.5 829.5h0M780.1 830.1h0M783.8 830.6h0M810.9 830.7h0M837.6 830.7h0M850.4 830.3h0M856.1 830.9h0M863.6 830.6h0M864.6 830.7h0M878.2 830.4h0M974.0 830.8h0M979.7 830.9h0M1007.7 830.5h0M1052.1 830.5h0M1133.9 831.0h0M1135.3 830.1h0M1136.5 830.5h0M1201.0 830.1h0M1204.2 830.2h0M1206.8 830.9h0M1209.1 831.0h0M1215.0 830.8h0M778.4 831.7h0M789.9 831.5h0M790.8 831.4h0M794.1 831.0h0M834.9 831.7h0M853.9 831.5h0M856.4 831.2h0M858.7 831.2h0M871.7 831.0h0M873.8 831.8h0M910.3 831.9h0M923.8 831.7h0M981.3 831.5h0M997.8 831.3h0M1006.8 831.6h0M1039.9 831.9h0M1051.6 831.3h0M1136.7 831.8h0M1148.1 831.6h0M1159.8 831.2h0M1169.7 831.4h0M1174.7 831.2h0M1176.3 831.0h0M1186.4 831.6h0M1189.4 831.9h0M1191.5 831.8h0M1202.4 831.8h0M781.3 832.8h0M785.5 832.4h0M787.1 832.5h0M791.4 833.0h0M794.2 832.2h0M814.6 832.6h0M829.0 832.7h0M847.6 832.1h0M874.7 832.3h0M926.3 832.8h0M935.1 832.6h0M947.7 832.4h0M963.2 832.2h0M969.3 832.5h0M971.8 832.2h0M976.3 832.1h0M1008.3 832.3h0M1018.5 832.3h0M1041.2 832.6h0M1146.5 833.0h0M1151.0 832.8h0M1154.2 832.9h0M1157.2 832.7h0M1165.6 832.1h0M1167.8 832.6h0M1177.4 833.0h0M1180.0 832.2h0M1198.6 833.0h0M777.7 833.1h0M779.6 833.9h0M784.8 833.7h0M788.1 833.0h0M791.1 833.1h0M792.7 833.1h0M796.7 833.2h0M804.2 833.6h0M812.8 834.0h0M818.6 833.6h0M824.3 833.7h0M843.1 834.0h0M854.9 833.9h0M862.7 833.3h0M869.9 833.7h0M913.1 833.8h0M916.4 833.4h0M929.6 833.5h0M979.4 833.1h0M980.0 833.3h0M993.4 833.1h0M1031.2 833.5h0M1032.5 833.4h0M1043.5 833.1h0M1059.7 833.8h0M1115.2 833.7h0M1145.3 833.2h0M1149.9 833.0h0M1151.2 834.0h0M1175.1 833.8h0M1191.2 833.8h0M1202.8 833.9h0M1203.1 833.1h0M1206.2 833.8h0M777.3 834.3h0M783.1 834.8h0M796.5 835.0h0M800.7 834.3h0M806.6 834.8h0M808.8 834.7h0M864.3 834.4h0M866.5 835.0h0M920.7 834.9h0M931.1 834.9h0M938.9 834.4h0M944.4 834.2h0M968.0 834.6h0M969.2 834.9h0M987.5 834.4h0M998.1 834.3h0M1008.8 834.0h0M1020.9 834.0h0M1035.0 834.1h0M1132.1 834.7h0M1145.8 834.0h0M1153.2 834.8h0M1163.0 834.3h0M1170.9 834.8h0M1186.7 834.8h0M1199.9 834.8h0M1205.4 834.4h0M776.2 835.8h0M796.5 835.8h0M801.5 835.4h0M810.6 835.7h0M816.1 835.4h0M824.4 835.7h0M837.6 835.3h0M842.2 835.7h0M852.6 835.3h0M857.4 835.3h0M887.4 835.4h0M938.0 835.3h0M958.5 835.7h0M972.9 836.0h0M980.9 835.7h0M1033.2 835.8h0M1036.3 835.9h0M1046.9 835.7h0M1056.2 835.8h0M1125.8 835.0h0M1149.5 835.9h0M1156.1 835.6h0M1160.0 835.4h0M1171.0 835.3h0M1172.2 835.4h0M1176.0 835.1h0M1182.7 835.6h0M1196.2 835.4h0M793.0 836.5h0M793.7 837.0h0M794.2 837.0h0M800.1 836.5h0M808.6 836.0h0M810.7 836.3h0M820.3 836.8h0M837.5 836.2h0M848.4 836.3h0M855.6 836.8h0M858.2 836.3h0M860.5 836.4h0M868.9 836.2h0M875.9 836.9h0M920.9 836.2h0M924.0 836.9h0M932.2 836.1h0M935.2 836.5h0M1023.7 836.1h0M1055.8 836.4h0M1058.0 836.6h0M1132.7 836.3h0M1136.4 836.3h0M1189.8 836.8h0M1191.6 836.4h0M1207.3 836.6h0M800.3 837.4h0M850.0 837.6h0M875.4 837.9h0M947.4 837.8h0M984.7 838.0h0M1010.2 837.9h0M1026.1 837.6h0M1029.1 837.8h0M1049.8 837.2h0M1111.9 837.4h0M1131.6 837.5h0M1135.0 837.3h0M1137.6 837.8h0M1151.5 837.4h0M1160.3 837.8h0M1166.4 837.1h0M1196.9 837.5h0M1200.9 837.2h0M776.9 838.2h0M795.8 838.5h0M802.9 838.4h0M814.6 838.0h0M816.3 838.4h0M817.4 838.1h0M824.5 838.9h0M841.5 838.1h0M843.4 838.8h0M866.0 838.3h0M920.8 838.4h0M986.9 838.6h0M989.5 838.6h0M1020.5 838.3h0M1029.0 838.4h0M1034.3 838.8h0M1052.3 838.4h0M1114.9 838.5h0M1139.4 838.7h0M1158.6 838.5h0M1163.8 838.2h0M1189.6 838.6h0M1192.3 838.1h0M1198.7 838.4h0M1202.7 838.4h0M1203.0 838.3h0M772.8 839.1h0M794.6 839.6h0M809.6 839.8h0M818.8 839.8h0M821.2 839.2h0M824.5 839.8h0M858.7 839.1h0M865.4 839.9h0M944.1 839.9h0M949.5 839.6h0M1003.9 839.4h0M1035.5 839.9h0M1143.8 839.4h0M1146.7 839.9h0M1149.7 839.1h0M1155.1 839.7h0M1162.6 839.4h0M1170.6 839.7h0M1173.3 839.1h0M1178.4 839.7h0M793.2 840.6h0M804.1 840.4h0M807.9 840.4h0M810.8 840.9h0M830.0 840.3h0M835.5 840.7h0M843.3 840.3h0M849.6 841.0h0M850.4 840.0h0M857.5 840.5h0M859.3 840.4h0M864.1 840.9h0M865.5 840.3h0M964.2 840.9h0M1006.8 840.4h0M1028.9 840.1h0M1039.7 841.0h0M1053.1 840.9h0M1138.6 840.5h0M1146.9 840.9h0M1151.1 840.8h0M1152.9 840.4h0M1161.7 840.5h0M1169.7 840.5h0M1172.4 840.9h0M1182.0 840.8h0M1184.4 840.1h0M1190.0 840.1h0M1191.4 840.4h0M776.4 841.6h0M808.4 841.2h0M820.5 841.3h0M839.8 841.4h0M847.9 841.6h0M855.7 841.3h0M861.6 841.4h0M871.2 841.0h0M947.1 841.7h0M998.0 841.9h0M1059.0 841.4h0M1144.1 841.7h0M1162.4 841.2h0M1187.7 841.1h0M1188.2 841.9h0M1193.5 841.3h0M829.7 842.4h0M832.4 842.3h0M847.4 842.1h0M863.2 842.5h0M1016.3 842.5h0M1040.6 842.9h0M1047.6 842.7h0M1049.7 842.6h0M1130.3 842.7h0M1135.7 842.7h0M1139.1 842.7h0M1181.7 842.5h0M1183.1 842.4h0M775.7 843.7h0M795.9 843.6h0M799.9 843.4h0M803.6 843.3h0M809.8 843.7h0M810.2 843.7h0M813.0 843.7h0M852.8 843.3h0M877.4 843.9h0M902.5 843.8h0M921.1 843.0h0M962.1 843.1h0M976.0 843.2h0M1053.2 843.1h0M1138.5 843.1h0M1142.0 843.5h0M1145.1 843.5h0M1148.8 843.2h0M1158.5 844.0h0M1161.7 843.6h0M1166.8 843.5h0M1175.2 843.9h0M1183.9 843.8h0M1188.7 843.4h0M1190.9 843.0h0M1191.3 843.7h0M782.1 844.3h0M806.4 844.4h0M813.3 844.5h0M838.1 844.0h0M850.9 844.4h0M876.3 844.6h0M1026.2 844.0h0M1046.4 844.3h0M1132.8 844.0h0M1153.3 844.4h0M1158.1 844.7h0M1163.7 844.7h0M778.2 845.5h0M784.2 845.2h0M818.4 845.8h0M821.3 845.3h0M830.7 845.6h0M835.5 845.9h0M844.2 845.8h0M866.9 845.3h0M878.6 845.1h0M976.8 845.4h0M980.1 845.2h0M1027.3 845.7h0M1156.4 845.1h0M1159.4 845.0h0M1170.6 845.3h0M1171.8 845.8h0M1190.6 845.9h0M779.2 846.3h0M783.3 846.9h0M790.9 846.1h0M791.7 846.1h0M795.5 846.1h0M798.8 846.3h0M827.0 846.7h0M830.8 846.1h0M839.9 846.6h0M840.1 846.5h0M850.1 846.5h0M872.0 846.2h0M1018.4 846.7h0M1033.0 846.3h0M1057.2 846.6h0M1139.4 846.8h0M1151.9 846.3h0M1154.4 846.6h0M1175.8 846.3h0M798.6 847.6h0M800.1 847.2h0M801.8 847.2h0M802.8 847.5h0M808.3 847.5h0M811.4 848.0h0M821.5 847.8h0M824.4 847.2h0M835.8 847.8h0M838.9 847.2h0M845.7 847.3h0M855.0 847.9h0M858.3 847.2h0M878.4 848.0h0M905.0 847.7h0M1017.9 847.1h0M1021.6 847.1h0M1022.9 847.7h0M1044.7 847.1h0M1153.9 847.3h0M1158.5 847.3h0M1182.4 847.6h0M1183.7 847.5h0M798.5 848.3h0M804.5 848.3h0M813.6 848.6h0M816.9 848.8h0M827.3 848.2h0M831.5 848.0h0M833.1 849.0h0M834.2 848.5h0M893.8 848.5h0M965.6 848.7h0M1058.0 848.5h0M1148.4 848.3h0M1157.6 849.0h0M1159.8 848.2h0M1160.3 848.5h0M1163.3 848.0h0M1165.5 848.6h0M1174.0 848.8h0M1177.5 848.1h0M1179.7 848.6h0M784.9 849.1h0M790.2 849.5h0M795.0 849.0h0M800.2 849.2h0M802.5 849.1h0M819.5 849.6h0M840.5 849.8h0M886.5 849.6h0M891.8 849.7h0M923.1 849.2h0M996.9 849.4h0M1128.2 849.8h0M1148.5 849.8h0M1150.0 849.4h0M1150.9 849.9h0M1160.1 849.1h0M1168.5 849.4h0M1171.5 849.6h0M794.9 850.3h0M804.2 850.4h0M808.6 851.0h0M814.0 850.2h0M815.2 850.1h0M837.9 850.9h0M850.9 850.2h0M852.5 850.5h0M867.0 850.4h0M1024.8 850.8h0M1051.4 850.4h0M1052.7 850.1h0M1123.1 850.9h0M1160.4 850.8h0M1174.7 850.3h0M1182.9 850.6h0M775.1 851.8h0M786.3 851.3h0M801.2 851.2h0M806.9 852.0h0M819.5 851.5h0M834.1 852.0h0M839.2 851.3h0M841.6 851.1h0M850.0 851.1h0M868.5 851.7h0M879.3 851.6h0M881.6 851.8h0M971.4 851.4h0M999.5 851.1h0M1001.7 851.3h0M1033.4 851.3h0M1034.0 851.4h0M1058.0 851.4h0M1114.1 851.8h0M1127.7 851.9h0M1150.8 851.1h0M1164.6 851.3h0M1166.6 851.4h0M1171.8 851.6h0M1177.5 851.9h0M1184.4 851.3h0M783.3 852.4h0M799.8 852.1h0M809.5 852.8h0M993.3 852.6h0M999.7 852.1h0M1020.7 852.6h0M1127.3 853.0h0M1156.7 852.0h0M1157.2 852.5h0M1161.2 852.4h0M1178.6 852.1h0M769.4 853.4h0M780.7 853.3h0M792.4 853.8h0M795.2 853.9h0M814.7 853.1h0M831.2 853.9h0M832.6 853.0h0M835.3 854.0h0M848.5 853.4h0M1016.9 853.0h0M1050.4 853.2h0M1057.8 853.9h0M1059.5 853.4h0M1123.9 853.5h0M1161.4 853.4h0M1177.3 853.8h0M1181.2 853.7h0M798.7 854.9h0M823.5 854.8h0M844.9 854.8h0M846.1 854.7h0M850.9 854.5h0M871.9 854.6h0M877.9 854.1h0M998.6 854.2h0M1006.0 854.2h0M1041.3 854.9h0M1052.9 854.6h0M1100.9 854.7h0M1133.4 854.6h0M1159.3 854.6h0M1163.1 854.1h0M1166.4 854.4h0M1170.3 855.0h0M1176.1 854.9h0M1178.6 854.2h0M766.7 855.3h0M784.7 855.1h0M799.4 855.2h0M805.3 855.1h0M830.4 855.5h0M846.8 855.5h0M1015.1 855.7h0M1027.9 856.0h0M1040.9 856.0h0M1048.5 855.3h0M1050.9 855.6h0M1052.3 855.2h0M1133.3 855.3h0M1169.9 855.8h0M759.6 856.8h0M800.7 856.9h0M803.5 856.9h0M807.3 856.6h0M822.4 856.6h0M831.2 856.1h0M842.5 856.5h0M844.1 856.7h0M919.9 856.2h0M1017.6 856.7h0M1019.3 856.7h0M1023.9 856.4h0M1025.8 856.5h0M1032.9 856.9h0M1034.7 856.9h0M1042.3 856.9h0M1057.2 856.1h0M1058.9 856.5h0M1059.9 856.2h0M1061.9 856.7h0M1068.2 856.7h0M1073.9 856.1h0M1096.6 856.3h0M1104.9 856.7h0M738.0 857.4h0M756.6 857.9h0M792.7 857.0h0M793.8 857.6h0M796.8 857.1h0M798.0 857.4h0M810.2 857.2h0M813.8 857.4h0M814.9 857.8h0M816.0 857.7h0M883.6 857.6h0M886.2 857.3h0M1015.2 857.7h0M1024.7 857.4h0M1040.6 857.4h0M1045.1 857.4h0M1060.0 857.6h0M1073.0 857.5h0M1080.2 857.0h0M1082.3 857.1h0M1085.1 857.8h0M1089.1 857.3h0M1114.5 857.3h0M1126.3 857.7h0M793.0 858.9h0M796.9 858.9h0M802.9 858.2h0M805.6 858.8h0M808.9 859.0h0M814.5 858.2h0M826.8 858.6h0M858.1 858.5h0M947.4 858.4h0M959.7 858.4h0M1014.7 858.4h0M1062.2 858.5h0M1078.5 858.5h0M1079.1 858.3h0M1085.7 858.3h0M1086.4 858.2h0M1111.6 858.2h0M1114.6 858.7h0M797.5 859.1h0M813.2 859.1h0M826.4 859.1h0M840.2 859.1h0M1022.4 859.8h0M1026.2 859.2h0M1031.2 859.3h0M1050.5 860.0h0M1056.0 859.3h0M1080.9 859.4h0M791.4 860.5h0M792.9 860.5h0M800.7 860.7h0M816.0 860.2h0M823.2 860.7h0M828.4 860.4h0M831.0 860.9h0M878.5 860.3h0M960.9 860.0h0M1015.5 860.1h0M1043.7 860.4h0M1054.7 860.5h0M1058.0 860.9h0M1061.2 860.9h0M1068.3 860.8h0M1071.1 860.7h0M1078.4 860.8h0M1097.7 860.3h0M1101.9 860.2h0M1105.3 861.0h0M802.6 861.8h0M808.1 861.2h0M815.6 861.0h0M829.1 861.2h0M890.2 861.5h0M911.3 861.2h0M948.6 861.2h0M1016.0 861.6h0M1026.9 861.5h0M1028.6 861.2h0M1033.2 861.4h0M1042.0 861.3h0M1058.1 861.5h0M1076.0 861.6h0M1108.7 861.5h0M1110.9 861.3h0M759.6 862.5h0M790.0 862.7h0M794.4 862.9h0M795.5 862.5h0M805.4 862.8h0M822.4 862.8h0M841.9 862.6h0M875.4 862.1h0M905.9 862.7h0M989.6 862.7h0M1012.2 862.2h0M1044.0 862.5h0M1046.1 862.9h0M1078.9 862.4h0M775.4 863.9h0M796.3 863.3h0M801.4 863.9h0M808.9 863.6h0M810.0 863.1h0M810.1 863.8h0M824.7 863.2h0M825.3 863.2h0M826.4 863.2h0M842.0 863.3h0M848.8 863.7h0M882.3 863.3h0M896.6 863.4h0M939.1 863.3h0M946.6 864.0h0M948.4 863.2h0M974.8 863.4h0M1018.5 863.1h0M1020.2 863.8h0M1024.6 863.3h0M1025.3 863.6h0M1041.2 863.3h0M1050.9 863.7h0M1066.0 863.1h0M1095.8 863.6h0M1102.7 863.2h0M794.4 864.4h0M807.3 864.0h0M819.0 864.3h0M820.9 864.8h0M824.2 864.8h0M828.5 864.6h0M852.8 864.8h0M872.5 864.3h0M887.0 865.0h0M891.0 864.7h0M928.3 864.4h0M939.3 864.7h0M956.7 864.8h0M993.7 864.3h0M1018.9 864.2h0M1038.2 864.4h0M1043.4 864.3h0M1064.3 864.2h0M1067.3 864.1h0M1078.8 864.3h0M1082.8 864.9h0M1088.6 864.6h0M1094.3 864.8h0M806.3 865.8h0M839.0 865.3h0M855.2 865.0h0M886.8 865.5h0M887.1 865.5h0M899.6 865.7h0M903.0 865.3h0M911.1 865.4h0M920.2 865.1h0M934.9 865.4h0M1025.4 865.0h0M1029.1 865.5h0M1035.6 865.2h0M1070.4 865.1h0M1071.7 865.3h0M1081.0 865.8h0M1084.1 865.5h0M1091.1 865.6h0M737.9 866.6h0M793.9 866.7h0M801.2 866.1h0M805.4 866.1h0M812.3 866.8h0M823.3 866.3h0M832.6 866.1h0M845.5 866.1h0M868.6 866.2h0M875.7 866.5h0M921.7 866.0h0M966.1 866.3h0M986.4 866.6h0M987.9 866.9h0M1027.6 866.9h0M1051.5 866.3h0M1065.9 866.6h0M809.1 867.5h0M820.9 867.3h0M821.9 868.0h0M829.2 867.3h0M833.7 867.6h0M835.5 867.0h0M852.8 867.0h0M867.8 867.6h0M911.0 867.3h0M932.5 867.8h0M1027.1 867.5h0M1031.2 867.8h0M1047.3 867.9h0M1070.7 867.0h0M794.2 868.9h0M798.6 868.6h0M820.4 868.6h0M828.0 868.7h0M854.4 868.8h0M868.9 869.0h0M879.2 868.6h0M896.8 868.9h0M923.8 868.4h0M1012.8 868.4h0M1014.8 868.5h0M1028.0 868.8h0M1031.6 868.7h0M1049.1 868.7h0M1051.7 868.8h0M1052.7 868.7h0M1064.4 869.0h0M1070.4 868.8h0M1075.2 868.3h0M739.3 869.0h0M751.4 869.1h0M808.7 869.7h0M831.2 869.7h0M867.5 869.7h0M891.2 870.0h0M920.3 869.4h0M1055.3 869.2h0M1056.0 869.5h0M1060.8 869.9h0M1073.7 869.3h0M1074.1 869.2h0M799.0 870.4h0M799.3 870.7h0M821.0 871.0h0M830.1 870.6h0M832.5 871.0h0M837.2 870.6h0M844.3 870.7h0M887.6 870.9h0M1014.4 870.5h0M1018.5 870.6h0M1031.2 870.7h0M1037.8 870.2h0M1042.7 870.7h0M1056.9 870.1h0M1060.4 870.2h0M1066.0 870.7h0M795.0 871.6h0M802.6 871.4h0M814.3 871.1h0M817.4 871.1h0M820.0 871.9h0M830.7 871.3h0M832.4 871.7h0M841.9 871.2h0M844.2 871.6h0M897.6 871.7h0M910.6 871.7h0M942.3 871.4h0M1029.9 871.1h0M1033.6 872.0h0M1038.0 871.7h0M1046.7 871.9h0M1050.8 871.2h0M1055.5 871.5h0M1061.3 871.7h0M1075.8 871.5h0M1079.7 871.4h0M1080.5 871.1h0M751.2 872.9h0M786.4 872.9h0M806.2 872.8h0M812.6 872.0h0M823.1 873.0h0M843.6 873.0h0M976.9 872.0h0M993.0 872.6h0M1015.0 872.3h0M1021.8 872.5h0M1047.7 873.0h0M1054.5 872.6h0M1065.6 872.8h0M748.0 873.1h0M749.9 873.5h0M809.6 873.2h0M815.9 873.1h0M824.1 873.5h0M834.6 873.3h0M853.6 873.6h0M908.4 873.6h0M909.7 873.2h0M924.4 873.5h0M1041.5 873.1h0M1052.3 873.4h0M1057.3 873.4h0M1072.2 873.4h0M1074.7 873.6h0M766.3 874.5h0M808.5 874.9h0M815.4 874.7h0M900.4 874.7h0M904.7 874.7h0M913.5 874.8h0M915.9 874.2h0M932.6 874.6h0M957.6 874.1h0M1018.1 874.4h0M1034.0 874.2h0M1035.4 874.3h0M1036.4 874.8h0M1039.3 874.5h0M1058.6 874.1h0M1075.0 874.2h0M749.0 875.9h0M764.9 875.4h0M793.4 875.0h0M805.6 875.7h0M812.1 876.0h0M841.2 876.0h0M849.8 875.4h0M928.9 875.5h0M1041.7 875.3h0M1052.5 875.7h0M1054.2 875.4h0M1058.5 875.4h0M1059.9 875.4h0M1067.5 875.9h0M1070.7 875.9h0M749.7 876.5h0M767.0 876.1h0M789.7 876.4h0M816.4 876.4h0M843.9 876.1h0M906.7 876.5h0M1007.8 876.8h0M1016.6 876.0h0M1043.1 876.5h0M1050.8 876.1h0M778.2 877.0h0M779.4 877.7h0M795.2 877.5h0M803.5 877.8h0M809.9 877.9h0M813.2 877.8h0M841.1 877.5h0M858.7 877.8h0M868.9 877.0h0M1013.8 877.8h0M1026.6 877.3h0M1030.3 877.8h0M1035.1 877.7h0M1073.5 877.5h0M760.1 878.5h0M769.8 878.2h0M799.9 878.7h0M814.9 878.6h0M820.6 878.9h0M825.1 878.3h0M856.0 878.1h0M858.1 878.1h0M941.0 878.6h0M1013.3 878.3h0M1040.5 878.1h0M1048.5 878.3h0M1051.7 878.8h0M1053.6 878.1h0M1056.1 879.0h0M1068.7 878.4h0M1071.0 878.8h0M1072.1 878.2h0M1078.0 878.5h0M769.7 879.9h0M781.0 879.7h0M787.2 879.2h0M848.3 879.5h0M924.3 879.4h0M932.2 879.0h0M1042.0 879.5h0M1046.8 879.3h0M1057.8 879.4h0M1060.9 879.2h0M1075.2 879.8h0M741.8 880.3h0M742.7 880.0h0M748.9 880.6h0M785.7 880.2h0M826.9 880.8h0M886.9 880.3h0M903.6 880.1h0M912.6 880.2h0M936.4 880.2h0M974.1 880.4h0M1020.0 880.2h0M1021.4 880.4h0M1055.5 880.1h0M1057.8 880.8h0M1060.0 880.1h0M782.7 881.0h0M834.1 881.9h0M909.5 881.2h0M1017.0 881.3h0M1018.8 881.5h0M1039.9 881.1h0M1046.7 881.2h0M1049.4 881.9h0M732.7 882.8h0M747.2 882.7h0M754.4 882.3h0M796.1 882.4h0M805.7 882.7h0M806.4 882.0h0M859.7 882.5h0M865.7 882.5h0M892.3 882.9h0M1009.2 882.4h0M1015.7 883.0h0M1017.2 882.6h0M1025.0 882.5h0M1031.1 882.2h0M1040.9 882.6h0M1070.2 882.3h0M1079.5 882.0h0M1080.6 882.8h0M728.7 883.1h0M731.1 883.6h0M741.7 883.8h0M753.4 883.8h0M761.9 883.6h0M795.2 883.3h0M812.7 883.1h0M844.0 883.3h0M854.7 883.9h0M858.7 883.4h0M875.9 883.3h0M876.6 883.2h0M888.2 883.8h0M904.1 883.8h0M996.5 883.6h0M1004.8 883.1h0M1039.6 883.3h0M1043.5 883.9h0M1054.6 883.8h0M1061.6 883.9h0M1063.4 883.5h0M1072.1 883.3h0M766.1 884.9h0M776.7 884.2h0M798.7 884.0h0M860.6 884.5h0M863.8 884.4h0M883.6 884.3h0M1013.5 884.7h0M1014.6 884.5h0M1020.4 884.4h0M1032.2 884.5h0M1039.5 884.4h0M1042.8 884.4h0M1050.2 884.6h0M1053.0 884.6h0M1056.1 884.3h0M1060.9 885.0h0M1078.2 884.8h0M742.3 886.0h0M743.7 885.9h0M744.2 885.4h0M770.0 885.2h0M789.0 885.6h0M796.7 885.7h0M844.5 885.7h0M870.3 885.9h0M871.8 885.1h0M876.6 885.6h0M917.1 885.9h0M941.4 885.7h0M1006.1 885.2h0M1057.7 886.0h0M1058.9 885.7h0M1067.3 885.4h0M1075.5 885.5h0M1083.9 885.9h0M728.7 886.2h0M741.3 886.9h0M742.8 886.5h0M798.3 886.1h0M799.3 886.1h0M859.9 886.8h0M860.8 886.7h0M1024.2 886.5h0M1033.1 886.8h0M1034.4 886.9h0M1043.7 886.2h0M1050.2 886.2h0M1086.0 886.0h0M726.0 887.7h0M726.3 887.5h0M737.2 887.7h0M754.1 887.5h0M776.7 887.4h0M782.9 887.1h0M791.0 887.4h0M791.1 887.3h0M840.8 887.2h0M1014.8 887.4h0M1016.1 887.4h0M1023.6 887.3h0M1047.2 887.0h0M752.5 888.5h0M762.1 888.3h0M770.9 888.6h0M779.3 888.9h0M785.2 888.7h0M838.3 888.3h0M927.8 889.0h0M944.2 888.4h0M1043.6 888.1h0M1046.8 888.5h0M1063.7 888.2h0M1068.8 888.2h0M1071.9 888.1h0M1073.6 888.2h0M749.1 889.8h0M763.8 889.1h0M835.6 889.7h0M879.3 889.7h0M944.5 889.9h0M965.8 889.8h0M973.6 889.5h0M982.9 889.9h0M987.8 889.7h0M1033.4 889.7h0M1034.4 889.3h0M1049.4 889.8h0M1075.8 889.4h0M795.6 890.4h0M824.0 890.2h0M840.3 890.7h0M888.9 890.9h0M904.2 890.0h0M908.2 890.6h0M981.5 890.0h0M1014.8 890.1h0M1017.1 890.8h0M1036.8 890.0h0M1049.9 890.7h0M1063.5 890.3h0M1070.0 890.4h0M834.1 891.1h0M843.4 891.9h0M850.0 891.7h0M882.6 891.3h0M889.7 891.2h0M894.6 891.5h0M909.9 892.0h0M930.7 891.9h0M939.5 891.4h0M1023.7 891.2h0M1028.2 891.7h0M1034.3 891.3h0M1035.6 891.1h0M1038.6 891.5h0M1057.6 891.6h0M1058.2 891.2h0M1066.5 891.6h0M732.4 892.4h0M735.9 892.3h0M740.9 892.5h0M741.5 892.1h0M745.1 892.3h0M756.7 892.6h0M772.8 892.3h0M830.0 892.6h0M842.1 893.0h0M1019.4 893.0h0M1046.4 892.6h0M1060.7 892.8h0M1061.2 892.1h0M773.7 893.9h0M780.4 893.6h0M794.5 893.3h0M799.1 893.2h0M838.4 893.2h0M849.4 893.5h0M856.2 893.1h0M1016.9 893.7h0M1029.2 893.8h0M1031.0 893.4h0M1037.9 894.0h0M1059.7 893.7h0M1065.7 893.2h0M1082.9 893.5h0M1090.1 893.4h0M731.5 894.3h0M741.1 894.0h0M774.0 894.8h0M841.6 894.2h0M895.8 894.0h0M921.6 894.2h0M925.1 894.3h0M940.9 894.1h0M961.4 894.8h0M965.2 895.0h0M1014.1 894.0h0M1045.6 894.2h0M1057.1 894.6h0M1065.5 894.3h0M741.0 895.5h0M768.6 896.0h0M841.3 895.7h0M889.1 896.0h0M1027.1 895.1h0M1031.0 895.5h0M1042.7 895.3h0M1048.5 895.1h0M1055.7 895.8h0M1058.7 895.5h0M734.5 896.1h0M763.1 896.6h0M766.7 896.2h0M859.2 896.6h0M900.4 896.8h0M903.1 896.9h0M909.3 896.1h0M916.2 896.3h0M925.9 896.0h0M959.2 896.7h0M995.7 896.2h0M1013.9 896.9h0M1025.7 896.4h0M1046.6 897.0h0M1049.6 896.5h0M1062.5 897.0h0M1093.4 896.6h0M737.0 897.4h0M785.2 897.2h0M786.3 897.1h0M799.7 897.9h0M806.5 897.9h0M808.9 897.9h0M912.9 897.5h0M1017.9 897.3h0M1036.5 897.6h0M1039.8 897.2h0M1040.5 897.8h0M1070.2 897.2h0M1074.0 897.8h0M1080.3 897.7h0M746.5 898.3h0M762.3 898.4h0M779.3 898.8h0M781.2 898.8h0M783.0 898.9h0M822.3 898.5h0M859.0 898.3h0M925.0 898.6h0M927.0 898.3h0M1008.7 898.3h0M1012.5 898.1h0M1013.5 898.6h0M1020.4 898.9h0M1052.5 898.1h0M1062.8 898.0h0M1071.1 898.0h0M725.5 899.3h0M732.0 899.3h0M758.5 899.6h0M760.9 899.1h0M765.5 899.1h0M776.7 900.0h0M899.3 899.1h0M907.3 899.9h0M913.0 899.2h0M929.2 899.9h0M1034.3 899.6h0M1039.8 899.3h0M1043.4 899.8h0M1066.7 899.8h0M1075.2 899.1h0M1077.9 899.1h0M730.8 900.7h0M745.0 900.1h0M769.2 900.3h0M770.0 901.0h0M961.4 900.6h0M999.3 900.8h0M1013.1 900.4h0M1027.0 900.9h0M1054.5 900.3h0M1079.7 900.4h0M716.4 901.6h0M727.6 901.3h0M776.4 901.8h0M786.1 901.7h0M836.8 901.9h0M896.6 902.0h0M972.6 901.5h0M1025.9 901.8h0M1032.4 901.0h0M1054.5 901.6h0M1063.8 901.3h0M1074.4 901.4h0M716.2 902.5h0M726.2 902.9h0M729.3 902.3h0M748.6 902.0h0M780.5 902.0h0M813.2 902.5h0M960.8 902.8h0M1014.7 902.9h0M1020.6 902.2h0M1029.7 902.9h0M1053.7 902.5h0M1059.1 902.4h0M1060.0 902.1h0M1074.1 902.4h0M1083.7 902.8h0M1087.8 902.8h0M719.4 903.7h0M753.2 903.8h0M770.2 903.5h0M798.0 903.8h0M823.6 903.3h0M863.2 903.3h0M895.2 903.1h0M900.7 903.5h0M933.1 904.0h0M978.0 903.2h0M1031.0 903.1h0M1047.4 903.3h0M1057.8 903.6h0M1064.3 903.1h0M1066.4 903.3h0M1080.8 903.1h0M722.0 904.0h0M743.0 904.5h0M782.4 904.8h0M796.0 904.7h0M823.3 904.4h0M906.2 904.9h0M937.3 904.4h0M939.5 904.4h0M989.7 904.4h0M1022.3 904.3h0M1036.4 904.6h0M1040.8 904.2h0M1043.4 904.5h0M1054.5 904.6h0M1062.8 904.7h0M1076.8 904.2h0M1082.1 904.7h0M717.5 905.3h0M727.7 905.7h0M747.6 905.1h0M755.7 905.9h0M855.0 905.9h0M900.0 905.8h0M924.1 905.5h0M940.0 905.6h0M1021.5 905.1h0M1053.1 905.1h0M1074.0 905.9h0M1075.8 905.8h0M1080.4 905.9h0M717.3 906.6h0M721.9 906.2h0M754.4 906.5h0M756.7 907.0h0M776.4 906.3h0M794.9 906.1h0M1022.8 906.0h0M1081.3 906.8h0M1087.3 906.5h0M738.0 907.7h0M777.4 907.8h0M865.2 907.8h0M904.6 907.0h0M946.3 907.9h0M951.5 907.2h0M957.9 907.3h0M1001.8 907.4h0M1018.5 908.0h0M1034.2 907.2h0M718.6 908.6h0M720.3 908.2h0M728.0 908.7h0M738.3 908.1h0M741.6 908.3h0M742.9 908.7h0M799.5 908.4h0M916.5 908.3h0M925.2 908.8h0M948.3 908.6h0M1012.6 908.7h0M1021.9 908.5h0M1026.4 908.7h0M1040.2 908.1h0M1056.3 908.6h0M1074.0 908.8h0M1077.7 908.6h0M1078.4 908.3h0M725.7 909.9h0M727.2 909.6h0M732.0 909.2h0M733.7 909.0h0M748.0 909.2h0M927.1 909.6h0M934.1 909.6h0M1016.5 909.9h0M1020.5 909.2h0M1030.2 909.3h0M1036.4 909.0h0M1045.2 909.6h0M1050.6 909.5h0M722.1 910.7h0M739.6 910.1h0M750.7 910.4h0M773.4 910.8h0M862.8 910.1h0M866.8 910.9h0M916.2 910.8h0M918.9 910.6h0M936.3 910.3h0M998.6 910.2h0M1000.8 910.0h0M1020.8 910.3h0M1031.9 910.7h0M1036.0 910.4h0M1070.8 910.6h0M1079.9 910.4h0M709.6 911.7h0M733.9 911.0h0M734.5 911.1h0M774.6 911.2h0M897.4 911.4h0M916.4 911.5h0M930.8 911.8h0M1001.5 911.7h0M1013.1 911.3h0M1024.2 911.4h0M1026.0 911.5h0M1029.9 911.6h0M1040.9 911.6h0M1053.5 911.5h0M1054.3 911.5h0M1070.1 911.1h0M1078.5 911.1h0M1099.8 911.1h0M774.0 912.7h0M785.6 912.7h0M795.6 912.0h0M824.2 912.2h0M901.2 912.7h0M953.7 912.3h0M993.2 912.5h0M1014.3 912.6h0M1020.0 912.3h0M735.4 913.4h0M770.0 913.5h0M824.4 913.6h0M887.0 913.4h0M918.4 913.6h0M956.9 913.9h0M987.7 913.7h0M1039.1 913.4h0M1051.2 913.1h0M1059.5 913.1h0M1071.6 913.5h0M1081.9 913.2h0M712.3 914.1h0M750.6 914.4h0M787.4 914.1h0M795.4 914.2h0M866.7 914.4h0M978.0 914.1h0M1010.4 914.4h0M1027.3 914.1h0M1032.7 914.8h0M1042.0 914.5h0M1053.7 914.9h0M1072.3 914.9h0M1074.3 914.0h0M715.6 915.7h0M727.5 915.1h0M730.6 915.4h0M771.6 915.8h0M772.5 915.6h0M965.6 915.3h0M1015.3 915.0h0M1030.8 915.9h0M1035.3 915.1h0M1049.9 915.6h0M1068.3 915.7h0M1084.4 915.4h0M745.0 916.4h0M747.5 916.7h0M777.5 916.1h0M779.4 916.3h0M907.9 916.5h0M914.9 916.2h0M925.6 916.1h0M934.7 916.9h0M941.0 916.2h0M953.3 916.4h0M970.9 916.8h0M971.7 916.3h0M1032.1 916.4h0M1037.3 916.5h0M1040.0 916.4h0M1081.6 916.8h0M710.8 917.0h0M712.5 918.0h0M728.7 917.1h0M734.0 917.8h0M894.9 917.1h0M943.3 918.0h0M958.4 917.9h0M961.2 917.1h0M1059.7 917.3h0M1069.9 917.1h0M1081.3 917.1h0M762.5 918.7h0M766.5 919.0h0M783.8 918.8h0M786.4 918.4h0M1008.3 918.4h0M1014.5 918.9h0M1034.3 918.2h0M1055.0 918.5h0M1066.1 918.5h0M1081.9 918.1h0M705.4 919.7h0M711.4 919.8h0M727.6 919.2h0M759.1 919.3h0M780.1 919.4h0M781.5 920.0h0M787.8 919.2h0M789.4 920.0h0M826.9 919.1h0M911.0 919.6h0M950.1 919.4h0M962.2 919.1h0M976.7 919.8h0M1003.7 919.8h0M1004.9 919.8h0M1040.1 919.1h0M1043.1 920.0h0M1061.0 919.8h0M1064.4 919.2h0M1067.5 919.6h0M1074.8 919.9h0M1084.4 919.8h0M706.4 920.4h0M711.2 920.4h0M725.5 920.5h0M726.1 920.5h0M729.2 920.6h0M753.2 920.3h0M763.1 920.0h0M868.9 920.3h0M884.1 920.9h0M894.5 920.7h0M925.3 920.6h0M948.7 920.8h0M1021.8 920.6h0M1028.7 920.8h0M1035.8 920.1h0M1054.0 920.3h0M1076.5 920.0h0M724.3 922.0h0M731.9 921.9h0M749.1 921.4h0M773.6 921.0h0M785.0 921.4h0M948.1 921.8h0M965.4 921.1h0M978.8 921.7h0M986.1 921.6h0M1010.5 921.9h0M1013.3 921.2h0M1028.3 921.7h0M1043.0 921.7h0M1059.2 921.4h0M1064.7 921.1h0M1069.8 921.7h0M701.3 922.2h0M706.0 922.8h0M713.3 922.9h0M740.8 922.4h0M766.4 922.7h0M871.3 922.5h0M888.6 922.7h0M922.0 922.5h0M939.6 922.3h0M940.7 922.2h0M1002.7 922.5h0M1031.2 922.3h0M1050.4 922.8h0M1052.5 922.8h0M1056.0 922.4h0M1082.0 922.7h0M744.9 923.6h0M760.2 923.4h0M910.9 923.6h0M928.3 923.8h0M930.4 923.1h0M971.5 923.5h0M996.0 923.6h0M1020.4 923.9h0M1022.3 923.3h0M1025.6 923.2h0M1027.7 923.5h0M1033.1 924.0h0M1036.2 923.7h0M1050.6 923.9h0M1052.7 923.1h0M1062.3 923.4h0M1067.8 923.8h0M1068.3 923.3h0M1071.1 923.1h0M1076.0 923.4h0M1089.4 923.1h0M714.7 924.9h0M755.2 924.7h0M805.3 924.4h0M866.9 924.1h0M916.4 924.6h0M923.2 924.4h0M933.7 924.5h0M947.9 924.8h0M963.5 924.2h0M973.4 924.4h0M976.6 924.6h0M999.8 924.2h0M1033.2 924.4h0M1039.7 924.8h0M1044.9 924.4h0M1045.1 924.3h0M1060.6 924.8h0M1172.2 924.8h0M720.2 925.4h0M732.4 925.6h0M755.1 925.5h0M848.3 925.9h0M890.4 925.8h0M913.2 925.4h0M940.3 925.8h0M961.1 925.6h0M993.9 925.4h0M1030.0 925.2h0M1035.8 925.4h0M1043.0 925.8h0M1067.3 925.8h0M1175.4 925.7h0M727.5 926.8h0M745.7 926.9h0M765.2 926.1h0M773.6 926.8h0M790.9 926.9h0M903.8 926.4h0M910.7 926.8h0M921.9 926.1h0M950.0 926.2h0M991.7 926.4h0M1014.7 926.6h0M1031.1 926.2h0M1043.9 926.3h0M1055.2 926.1h0M1072.1 926.8h0M1084.0 926.8h0M701.1 927.4h0M731.2 927.4h0M851.0 927.2h0M887.3 927.2h0M903.0 927.6h0M937.1 927.6h0M942.5 927.8h0M948.9 927.3h0M1014.6 928.0h0M1016.1 927.7h0M1036.8 927.1h0M1045.2 927.2h0M1046.5 927.8h0M1077.0 927.9h0M721.3 928.3h0M885.0 928.4h0M902.7 928.2h0M918.5 928.3h0M956.2 928.1h0M979.7 928.7h0M989.9 928.5h0M1016.2 928.7h0M1034.2 928.9h0M1059.1 929.0h0M697.5 929.7h0M716.2 929.7h0M755.1 929.7h0M894.4 929.7h0M951.2 929.2h0M987.7 930.0h0M1011.6 929.4h0M1016.4 929.4h0M1048.4 929.4h0M1056.2 929.1h0M1063.6 929.0h0M1065.5 930.0h0M1079.7 929.4h0M1178.8 929.3h0M703.3 930.2h0M707.0 930.2h0M713.8 930.6h0M723.2 930.6h0M727.5 930.8h0M763.3 930.4h0M770.5 930.9h0M776.1 930.4h0M796.5 930.3h0M867.3 930.4h0M915.3 931.0h0M959.1 930.1h0M1018.1 930.3h0M1032.0 930.8h0M1036.5 930.2h0M1077.8 930.3h0M1089.4 930.8h0M1203.0 930.5h0M730.8 931.5h0M757.3 931.4h0M758.1 931.7h0M784.7 931.9h0M875.9 932.0h0M877.9 931.5h0M897.4 931.0h0M906.4 931.2h0M921.3 931.7h0M926.3 931.1h0M943.9 931.7h0M948.0 931.2h0M951.0 931.3h0M965.9 931.9h0M966.1 931.8h0M987.8 932.0h0M996.2 931.5h0M1026.5 931.8h0M1035.4 931.8h0M1067.0 931.0h0M1163.7 931.1h0M1172.4 931.0h0M1185.9 931.7h0M694.9 932.8h0M698.3 932.7h0M710.3 932.2h0M714.2 932.6h0M830.3 932.8h0M870.5 933.0h0M906.0 932.1h0M964.5 932.4h0M986.3 932.7h0M1008.5 932.8h0M1045.8 932.3h0M1056.4 932.2h0M1061.4 932.8h0M1078.0 932.1h0M1087.7 932.6h0M1182.7 932.1h0M693.8 933.7h0M697.1 933.6h0M703.2 933.2h0M718.6 933.6h0M746.3 933.5h0M765.5 933.1h0M771.2 933.5h0M772.5 933.7h0M793.8 933.9h0M795.0 933.3h0M941.9 933.6h0M951.5 933.8h0M959.4 933.7h0M964.9 933.9h0M981.7 934.0h0M1012.2 933.0h0M1030.0 933.5h0M1051.9 933.5h0M1053.0 933.8h0M1056.2 933.9h0M1078.3 933.5h0M1169.1 933.1h0M716.4 934.1h0M717.3 934.4h0M718.7 934.6h0M720.7 934.4h0M721.5 934.3h0M755.6 934.2h0M775.4 934.8h0M820.3 934.7h0M890.6 934.3h0M960.8 934.2h0M974.2 934.3h0M1021.9 934.0h0M1046.0 934.4h0M1083.1 934.4h0M690.7 935.7h0M691.9 935.7h0M700.6 935.1h0M717.8 935.4h0M725.4 935.7h0M732.9 935.1h0M740.5 935.8h0M755.9 935.6h0M783.1 935.9h0M934.8 935.2h0M962.8 935.2h0M969.7 935.3h0M999.9 935.2h0M1010.0 935.9h0M1014.8 935.9h0M1040.8 935.8h0M1062.9 935.7h0M1066.3 935.6h0M1075.2 935.2h0M1078.5 935.7h0M1176.7 935.7h0M712.7 936.6h0M723.2 936.9h0M742.0 936.2h0M788.5 936.9h0M797.6 936.4h0M886.6 936.5h0M888.0 936.5h0M889.9 936.5h0M900.0 936.8h0M903.2 936.3h0M930.5 936.4h0M939.2 936.5h0M990.7 936.2h0M1016.0 936.0h0M1059.8 936.9h0M1065.9 936.4h0M1072.7 936.9h0M1183.5 936.4h0M699.9 937.8h0M746.3 937.1h0M782.4 937.6h0M889.3 937.7h0M897.6 937.7h0M910.6 937.4h0M918.9 937.1h0M952.8 937.4h0M993.8 937.1h0M1008.6 937.7h0M1040.4 937.0h0M1047.0 937.4h0M1184.8 937.5h0M755.9 938.2h0M779.3 938.5h0M846.0 938.6h0M907.0 938.5h0M926.5 938.4h0M942.1 938.6h0M948.8 939.0h0M961.1 938.8h0M965.4 938.7h0M978.3 938.7h0M988.6 938.5h0M1034.9 938.7h0M1046.0 938.0h0M1050.5 938.2h0M1053.6 938.9h0M1060.4 938.1h0M1076.1 938.3h0M1158.0 938.9h0M1187.3 938.4h0M1201.0 938.4h0M696.9 939.8h0M702.9 939.9h0M703.9 939.8h0M714.7 939.9h0M720.5 940.0h0M726.7 939.9h0M748.4 939.0h0M760.8 939.3h0M763.5 939.8h0M784.2 939.3h0M795.0 939.9h0M796.6 939.1h0M879.6 939.2h0M903.7 939.9h0M924.5 939.5h0M927.7 939.7h0M985.7 939.5h0M986.5 939.5h0M1010.0 939.2h0M1018.1 939.2h0M1021.9 939.8h0M1034.0 939.0h0M1036.1 939.7h0M1062.2 939.1h0M1192.5 939.5h0M699.2 940.7h0M709.0 940.1h0M717.3 940.3h0M730.8 940.5h0M754.0 940.9h0M754.5 940.2h0M758.3 940.0h0M793.7 940.0h0M843.6 940.7h0M848.3 940.0h0M880.0 940.9h0M883.1 940.5h0M897.3 940.6h0M912.6 940.8h0M940.2 940.8h0M1016.5 940.4h0M1032.4 940.2h0M1043.3 940.4h0M1046.2 940.3h0M1052.0 940.7h0M1056.6 940.6h0M1072.4 940.3h0M1074.9 940.2h0M697.9 941.5h0M700.8 941.2h0M708.3 941.7h0M741.0 941.3h0M769.2 941.1h0M783.8 941.7h0M843.2 941.7h0M899.3 941.9h0M901.8 941.9h0M948.3 941.9h0M955.7 941.4h0M987.5 941.2h0M1015.6 941.8h0M1026.1 942.0h0M1030.3 941.2h0M1053.2 941.4h0M1058.3 942.0h0M1065.7 941.2h0M1070.1 941.1h0M1079.8 941.9h0M1213.3 941.1h0M1221.2 941.5h0M689.7 942.8h0M691.8 942.7h0M700.0 942.8h0M704.5 942.2h0M706.7 942.1h0M751.8 942.7h0M761.8 942.4h0M765.1 942.5h0M776.6 942.7h0M780.5 942.0h0M786.1 942.5h0M787.8 942.3h0M793.0 942.1h0M948.7 942.7h0M956.0 942.6h0M960.9 942.5h0M1004.9 942.6h0M1014.3 942.7h0M1022.8 942.3h0M1058.4 942.6h0M1064.4 942.7h0M1075.2 942.3h0M1078.3 942.2h0M1222.4 942.9h0M696.1 943.7h0M704.6 943.9h0M758.0 943.5h0M768.9 943.1h0M775.9 943.4h0M795.9 943.5h0M886.8 943.1h0M892.9 943.3h0M929.1 943.8h0M968.8 943.4h0M975.8 943.9h0M994.6 943.7h0M1035.3 943.1h0M1053.8 943.7h0M1072.4 943.6h0M1073.6 943.4h0M706.4 944.0h0M708.6 944.8h0M722.0 944.1h0M750.2 944.8h0M877.1 944.8h0M910.7 944.5h0M919.3 944.0h0M947.9 944.9h0M958.5 944.4h0M976.9 944.5h0M983.5 944.6h0M1013.6 944.8h0M1024.2 944.9h0M1029.4 944.5h0M1031.1 944.3h0M1035.0 944.1h0M1039.9 944.3h0M1066.7 944.5h0M1162.8 944.8h0M1186.9 944.2h0M1219.9 944.9h0M697.0 946.0h0M699.7 945.0h0M730.9 945.4h0M773.9 945.4h0M781.1 945.1h0M793.9 946.0h0M832.2 945.7h0M866.6 945.4h0M1013.4 945.5h0M1019.4 945.7h0M1027.7 946.0h0M1046.6 945.2h0M1059.6 945.6h0M1074.4 945.4h0M1079.0 945.2h0M1190.9 945.5h0M1216.3 945.8h0M697.9 946.7h0M714.7 946.3h0M729.1 946.1h0M746.8 947.0h0M750.0 946.2h0M754.0 946.7h0M772.5 946.2h0M783.0 946.1h0M826.0 946.7h0M891.6 946.4h0M911.0 946.6h0M913.6 946.5h0M914.9 946.8h0M926.2 946.0h0M942.7 946.8h0M1010.3 946.9h0M1014.7 946.3h0M1018.3 946.1h0M1021.0 946.7h0M1142.2 946.3h0M1175.7 946.2h0M1186.1 946.2h0M1194.0 946.0h0M1223.3 947.0h0M684.6 947.5h0M688.5 947.5h0M705.1 947.6h0M730.6 947.3h0M757.0 947.1h0M763.2 947.4h0M773.4 947.9h0M852.4 947.1h0M912.6 947.1h0M927.7 947.6h0M930.6 947.7h0M969.8 947.2h0M982.3 947.4h0M1001.1 947.8h0M1014.2 947.9h0M1033.0 947.4h0M1053.7 947.8h0M1079.8 947.3h0M1174.0 947.7h0M1223.5 947.6h0M687.3 948.9h0M700.9 948.1h0M724.9 948.3h0M734.5 948.0h0M760.9 948.8h0M763.9 948.7h0M799.0 948.9h0M910.3 948.2h0M960.9 948.9h0M962.3 948.3h0M1025.5 948.1h0M1057.7 948.4h0M1062.6 948.8h0M1077.6 948.0h0M1151.4 948.2h0M1168.8 948.4h0M1201.5 948.4h0M1204.3 948.3h0M761.8 949.5h0M765.0 949.5h0M774.3 949.2h0M779.2 949.1h0M791.2 949.8h0M853.4 949.4h0M872.8 949.5h0M893.9 949.9h0M908.9 949.3h0M962.5 949.1h0M973.9 949.7h0M986.0 949.1h0M999.5 949.4h0M1015.7 950.0h0M1017.4 949.9h0M1045.6 949.3h0M1185.3 949.4h0M1220.2 949.1h0M1224.4 949.4h0M1232.9 949.4h0M684.3 951.0h0M800.1 951.0h0M888.5 950.3h0M908.5 950.1h0M909.4 950.2h0M913.3 950.3h0M920.6 950.4h0M962.0 950.9h0M963.8 950.8h0M970.6 950.0h0M977.5 950.1h0M988.8 950.1h0M1034.0 950.4h0M1043.6 950.5h0M1056.5 950.7h0M1059.8 950.2h0M1060.0 950.8h0M1078.7 950.1h0M683.0 951.3h0M687.4 951.8h0M719.2 951.1h0M757.7 951.5h0M760.7 951.1h0M869.0 951.1h0M891.7 951.5h0M922.4 951.8h0M938.7 951.9h0M966.3 951.3h0M967.4 951.8h0M970.5 951.1h0M1030.8 951.4h0M1061.8 951.9h0M1065.5 951.9h0M1073.3 951.7h0M1075.5 951.7h0M1156.9 951.9h0M1184.4 951.9h0M1192.9 951.3h0M682.5 952.4h0M713.3 952.9h0M715.9 952.1h0M884.5 952.3h0M904.7 952.6h0M921.9 952.2h0M924.7 952.8h0M937.5 952.2h0M946.8 952.4h0M957.2 952.6h0M969.4 952.7h0M976.6 952.3h0M989.2 952.2h0M996.4 952.9h0M1023.5 952.3h0M1045.9 952.7h0M1048.1 953.0h0M1062.0 953.0h0M1066.3 952.3h0M1074.7 952.1h0M1205.9 952.0h0M1222.3 953.0h0M693.9 953.8h0M741.8 953.8h0M825.4 954.0h0M933.5 953.9h0M962.6 954.0h0M984.5 953.5h0M1039.7 953.3h0M1062.2 953.4h0M1068.3 953.8h0M1186.5 954.0h0M695.6 954.0h0M708.6 954.9h0M731.5 954.1h0M747.7 954.7h0M752.4 954.0h0M792.8 954.4h0M798.5 954.1h0M840.9 954.7h0M925.0 954.0h0M996.0 955.0h0M1012.9 954.9h0M1014.3 954.1h0M1029.9 954.9h0M1079.4 954.3h0M1184.3 954.3h0M1204.5 954.2h0M683.3 955.8h0M689.8 955.5h0M850.4 955.3h0M858.2 955.2h0M918.2 955.9h0M923.2 955.3h0M969.9 955.2h0M982.8 955.3h0M1001.7 955.6h0M1010.4 955.4h0M1020.7 955.3h0M1035.2 955.6h0M1041.2 955.6h0M1048.3 955.6h0M1062.2 955.9h0M1064.2 955.6h0M1066.6 955.6h0M1137.3 955.7h0M1140.0 955.7h0M1181.3 955.6h0M1191.3 955.6h0M1195.2 955.9h0M1213.7 955.7h0M1214.1 955.1h0M1238.4 955.6h0M690.8 956.4h0M698.7 957.0h0M756.0 956.1h0M894.4 956.7h0M906.8 956.3h0M928.9 956.5h0M946.1 956.6h0M947.6 956.9h0M967.1 956.7h0M1010.4 956.4h0M1024.2 956.8h0M1044.0 956.3h0M1064.5 956.7h0M1069.3 956.5h0M1073.3 956.6h0M1167.1 956.5h0M1217.1 956.1h0M1233.0 956.1h0M682.2 957.7h0M705.6 957.2h0M719.4 958.0h0M735.0 957.6h0M735.8 957.7h0M917.9 957.8h0M943.3 957.2h0M984.7 958.0h0M1035.6 957.2h0M1048.7 957.0h0M1049.5 957.8h0M1145.4 957.8h0M1224.7 957.1h0M1231.2 957.0h0M705.7 958.7h0M756.6 958.2h0M763.5 958.9h0M799.9 958.8h0M882.9 958.4h0M885.8 958.2h0M894.3 958.3h0M899.8 958.6h0M910.7 958.8h0M920.1 958.1h0M957.3 958.2h0M1001.8 958.1h0M1006.7 958.6h0M1017.7 958.2h0M1029.3 958.4h0M1039.1 958.2h0M1063.7 958.9h0M1075.1 958.7h0M1148.8 958.1h0M1180.9 958.8h0M1229.5 958.0h0M1240.4 958.4h0M689.2 959.4h0M708.1 959.7h0M712.1 959.8h0M751.4 959.3h0M906.0 959.3h0M924.4 959.5h0M965.6 959.2h0M966.1 959.2h0M1006.8 959.3h0M1018.1 959.0h0M1045.6 959.7h0M1067.5 959.0h0M695.5 960.3h0M706.0 960.5h0M756.5 960.5h0M779.3 960.7h0M885.9 960.9h0M892.6 960.2h0M904.1 960.1h0M925.8 960.2h0M928.6 960.5h0M963.1 960.4h0M975.7 961.0h0M983.5 960.4h0M1020.8 960.9h0M1021.7 960.8h0M1022.4 960.7h0M1028.6 960.3h0M1034.3 960.7h0M1046.0 960.6h0M1047.6 960.0h0M1057.3 960.7h0M1071.0 960.6h0M1072.9 961.0h0M1079.8 960.4h0M1137.6 960.5h0M1140.4 960.8h0M1175.8 960.3h0M695.1 961.7h0M721.0 961.5h0M759.2 961.3h0M767.4 961.8h0M770.3 961.4h0M834.7 961.7h0M867.3 961.4h0M879.1 962.0h0M897.9 961.9h0M914.9 961.3h0M921.7 961.1h0M967.4 961.8h0M975.3 961.2h0M1001.7 961.4h0M1009.4 961.5h0M1010.7 961.7h0M1015.2 961.4h0M1055.4 961.6h0M1146.8 961.2h0M1150.3 961.6h0M1184.6 961.2h0M680.5 962.1h0M783.5 962.1h0M922.2 962.6h0M931.8 963.0h0M933.5 962.5h0M971.1 962.1h0M1005.8 962.0h0M1017.5 962.6h0M1018.3 962.8h0M1019.5 962.0h0M1021.9 962.4h0M1034.1 962.5h0M1036.4 962.6h0M1099.6 962.4h0M1144.2 962.4h0M1245.4 962.6h0M702.6 964.0h0M712.9 963.6h0M747.0 963.1h0M781.1 963.8h0M804.1 963.0h0M875.1 963.9h0M886.1 963.5h0M902.3 963.6h0M903.8 963.8h0M941.0 963.0h0M954.3 963.2h0M960.6 963.2h0M996.2 963.1h0M1008.2 963.3h0M1030.1 963.1h0M1043.4 963.3h0M1046.9 963.5h0M1079.0 963.4h0M1080.4 963.5h0M1096.0 963.9h0M1203.7 963.2h0M1204.7 963.6h0M680.3 964.1h0M685.0 964.5h0M697.3 964.2h0M799.7 964.9h0M886.8 965.0h0M893.8 964.3h0M905.3 964.5h0M910.1 964.4h0M946.5 964.5h0M972.8 964.4h0M1009.4 964.3h0M1013.0 964.5h0M1046.3 964.6h0M1054.3 964.9h0M1070.1 965.0h0M698.2 965.7h0M713.9 965.1h0M742.6 965.6h0M767.5 965.9h0M776.3 965.3h0M777.9 966.0h0M786.4 965.7h0M789.5 965.2h0M832.4 965.9h0M900.3 966.0h0M940.3 965.6h0M945.1 965.3h0M1034.2 965.5h0M1038.9 965.6h0M1071.7 966.0h0M1101.4 965.8h0M1169.1 965.7h0M1207.5 965.3h0M1215.2 965.2h0M1222.6 965.0h0M1227.9 965.8h0M1233.6 965.3h0M723.6 966.5h0M752.4 966.9h0M754.5 966.6h0M782.0 966.4h0M937.2 966.3h0M960.2 966.2h0M980.1 966.8h0M981.6 966.8h0M1010.3 966.1h0M1018.4 967.0h0M1023.3 967.0h0M1036.5 966.8h0M1050.7 966.8h0M1056.0 966.0h0M1060.5 966.6h0M1062.3 966.4h0M1066.8 966.4h0M1102.3 966.3h0M1108.1 966.3h0M1124.9 966.7h0M1157.9 966.6h0M1196.3 966.7h0M1206.3 966.3h0M1217.2 966.2h0M1252.5 966.3h0M675.1 967.2h0M688.8 967.2h0M713.5 967.2h0M722.5 967.3h0M765.6 967.6h0M778.8 967.5h0M796.2 967.1h0M810.9 967.2h0M817.5 967.6h0M925.8 967.6h0M951.7 967.1h0M953.5 967.8h0M984.6 968.0h0M1039.7 967.5h0M1067.1 967.3h0M1070.5 967.8h0M1116.7 967.9h0M1153.5 967.7h0M1239.3 967.8h0M688.3 968.6h0M702.4 969.0h0M714.3 968.6h0M762.6 968.6h0M774.9 968.9h0M780.0 968.8h0M790.6 968.4h0M810.2 968.1h0M908.1 968.3h0M910.0 968.2h0M956.2 968.9h0M958.0 968.4h0M987.9 968.8h0M1021.9 968.7h0M1063.5 968.0h0M1066.9 968.6h0M1069.6 968.3h0M1071.8 968.7h0M1108.0 968.6h0M1202.3 968.5h0M1208.0 968.5h0M1227.0 968.7h0M1230.9 968.4h0M1246.8 968.2h0M1247.6 968.5h0M712.7 969.5h0M714.1 969.4h0M716.5 969.3h0M732.0 969.2h0M737.1 969.9h0M749.4 969.6h0M779.0 969.0h0M797.5 969.3h0M931.5 969.8h0M935.8 969.2h0M975.1 969.4h0M1000.5 969.3h0M1023.5 970.0h0M1035.3 969.3h0M1052.0 969.5h0M1062.3 970.0h0M1067.5 969.4h0M1069.7 969.1h0M1078.4 969.2h0M1101.5 969.7h0M1106.2 969.6h0M1107.3 969.1h0M1237.2 969.1h0M694.0 970.9h0M700.0 970.8h0M759.7 970.7h0M779.9 970.3h0M784.0 970.3h0M898.5 970.3h0M900.2 970.9h0M910.6 970.2h0M917.5 970.8h0M943.4 970.1h0M963.2 970.5h0M969.0 970.4h0M1003.8 970.7h0M1010.4 970.0h0M1024.7 970.1h0M1030.9 970.2h0M1053.4 971.0h0M1057.4 970.2h0M1061.4 970.0h0M1069.5 970.3h0M1102.1 970.5h0M1181.3 970.1h0M1218.1 970.5h0M1228.7 970.3h0M1231.1 970.9h0M1233.5 970.8h0M1244.1 970.5h0M689.2 971.9h0M707.1 971.3h0M710.6 971.8h0M748.4 971.6h0M770.8 971.4h0M830.6 971.5h0M905.7 971.4h0M951.7 972.0h0M959.9 971.6h0M990.1 971.4h0M1002.3 971.9h0M1020.8 972.0h0M1045.8 971.4h0M1057.0 971.6h0M1057.7 971.9h0M1076.9 971.0h0M1123.4 971.8h0M1157.5 971.1h0M1171.4 971.3h0M1251.2 971.2h0M726.2 972.6h0M748.3 972.9h0M783.0 972.1h0M904.6 972.5h0M930.8 972.6h0M942.5 972.9h0M972.4 972.4h0M976.8 972.3h0M982.3 972.3h0M990.2 972.5h0M991.7 973.0h0M1014.2 972.1h0M1017.3 972.4h0M1028.1 972.8h0M1051.9 972.6h0M1098.0 972.1h0M1099.6 972.9h0M1116.3 972.4h0M1236.0 972.3h0M1237.5 972.1h0M757.4 973.3h0M769.1 973.3h0M770.3 973.9h0M777.7 973.6h0M795.4 973.5h0M902.4 973.6h0M908.0 973.9h0M916.4 973.3h0M918.5 973.9h0M996.2 973.5h0M1002.8 973.5h0M1025.5 973.4h0M1027.1 973.6h0M1034.1 973.7h0M1046.0 973.0h0M1068.0 974.0h0M1131.3 973.6h0M1171.6 973.1h0M1220.2 973.7h0M1241.1 973.2h0M1245.9 973.2h0M691.2 974.4h0M756.5 974.9h0M776.4 974.7h0M798.2 974.8h0M923.2 974.7h0M932.3 974.4h0M946.0 974.7h0M1021.8 974.9h0M1056.0 974.7h0M1065.9 974.2h0M1069.9 974.9h0M1105.8 974.0h0M1129.1 974.9h0M1131.3 974.9h0M1160.2 974.3h0M1199.4 974.8h0M765.6 975.2h0M777.7 976.0h0M794.0 975.7h0M799.4 975.1h0M817.3 975.6h0M896.6 975.7h0M931.5 975.3h0M968.2 976.0h0M980.8 975.5h0M988.3 975.1h0M1002.5 975.2h0M1016.8 975.1h0M1020.0 976.0h0M1041.7 975.1h0M1044.2 975.8h0M1049.3 975.2h0M1065.6 975.6h0M1174.9 975.0h0M1184.0 975.9h0M1185.2 975.8h0M1186.6 975.6h0M1212.0 975.8h0M707.4 976.1h0M716.9 976.9h0M786.7 976.3h0M790.5 976.9h0M814.8 976.1h0M817.6 976.4h0M864.2 976.4h0M884.0 976.5h0M885.3 976.9h0M933.2 976.7h0M936.9 976.8h0M967.7 976.8h0M977.3 976.3h0M995.0 976.1h0M1004.7 976.2h0M1061.0 976.5h0M1206.2 976.7h0M697.4 977.6h0M702.6 978.0h0M784.4 977.7h0M793.7 977.6h0M933.5 977.9h0M937.4 977.8h0M957.8 977.4h0M1019.0 977.5h0M1020.8 977.1h0M1023.6 977.2h0M1030.5 977.6h0M1031.4 977.3h0M1033.9 977.6h0M1044.0 977.7h0M1057.6 977.4h0M1060.9 977.8h0M1121.8 977.3h0M1149.8 977.6h0M684.8 978.3h0M692.1 978.2h0M710.0 978.4h0M750.2 978.1h0M756.2 978.5h0M781.7 978.4h0M842.6 978.1h0M893.9 978.9h0M895.8 978.7h0M911.0 978.4h0M920.8 978.0h0M932.2 978.3h0M951.9 978.1h0M960.2 978.4h0M992.6 978.2h0M1043.0 978.4h0M1094.4 978.6h0M1100.0 978.7h0M1106.3 978.1h0M1113.1 978.3h0M1150.1 978.1h0M1156.9 978.1h0M695.6 979.1h0M699.6 979.6h0M710.0 979.5h0M750.9 979.2h0M793.4 979.4h0M803.5 979.3h0M914.0 979.6h0M917.8 979.1h0M938.9 979.4h0M947.2 979.7h0M970.3 979.8h0M971.9 979.9h0M973.2 979.1h0M992.4 979.4h0M1004.3 979.2h0M1024.9 980.0h0M1027.4 979.6h0M1034.2 979.9h0M1035.5 979.3h0M1044.6 979.4h0M1093.6 979.5h0M1132.2 979.8h0M1160.8 979.9h0M1170.8 979.8h0M1188.1 979.2h0M1193.4 979.3h0M677.5 980.8h0M696.5 980.1h0M700.6 980.7h0M757.2 981.0h0M768.9 980.4h0M789.7 980.2h0M797.2 980.1h0M948.7 980.5h0M969.0 980.6h0M973.5 980.7h0M986.0 980.8h0M987.4 980.3h0M1000.9 980.5h0M1032.2 980.1h0M1037.0 980.5h0M1045.2 980.7h0M1057.7 980.6h0M1070.6 980.1h0M1097.3 980.2h0M1112.9 980.4h0M1141.0 980.9h0M672.6 981.3h0M677.6 981.3h0M703.0 981.9h0M713.1 981.2h0M760.3 981.4h0M791.1 981.1h0M869.5 981.3h0M881.4 981.2h0M912.6 981.3h0M927.1 981.2h0M940.2 981.3h0M951.0 981.2h0M953.9 981.8h0M961.9 981.0h0M965.1 981.8h0M974.4 981.1h0M978.3 981.8h0M985.2 981.8h0M989.5 981.4h0M1006.9 981.5h0M1015.2 981.5h0M1063.5 981.7h0M1137.7 981.8h0M1142.5 981.7h0M1156.3 981.1h0M1157.3 981.0h0M1190.0 981.5h0M701.0 982.0h0M719.8 982.2h0M721.3 982.7h0M742.3 982.6h0M758.3 982.8h0M772.3 982.2h0M867.1 982.2h0M887.4 982.3h0M906.4 982.0h0M916.3 982.2h0M938.1 982.3h0M952.1 982.4h0M973.8 982.5h0M1019.9 982.9h0M1021.0 982.5h0M1040.1 982.8h0M1044.8 982.8h0M1105.9 982.8h0M1121.8 982.4h0M1193.4 982.2h0M1203.7 982.3h0M681.3 983.9h0M699.9 983.1h0M760.2 983.9h0M795.4 983.1h0M888.8 983.5h0M920.9 983.7h0M923.2 983.1h0M967.1 983.2h0M968.2 983.5h0M974.6 983.4h0M1022.4 983.2h0M1037.5 983.0h0M1039.0 983.7h0M1059.4 983.2h0M1060.8 983.1h0M1066.1 983.3h0M1077.2 983.1h0M1136.7 983.9h0M1173.4 983.8h0M1195.4 983.5h0M718.8 984.8h0M727.7 984.5h0M757.2 984.6h0M812.1 984.5h0M828.8 984.9h0M906.0 984.1h0M942.4 984.1h0M949.3 984.9h0M961.9 984.3h0M963.9 984.4h0M999.8 984.0h0M1009.3 984.9h0M1012.2 984.3h0M1030.5 984.5h0M1046.3 984.8h0M1060.1 985.0h0M1061.6 984.8h0M1107.7 984.1h0M1111.5 984.3h0M1137.4 984.1h0M1194.3 984.3h0M698.8 985.9h0M708.6 985.4h0M739.5 985.6h0M773.6 985.3h0M785.4 985.3h0M786.6 985.0h0M790.7 985.9h0M814.9 985.3h0M826.9 985.3h0M833.8 985.6h0M838.4 985.7h0M888.1 985.4h0M895.5 986.0h0M901.8 985.3h0M922.5 985.5h0M925.5 985.0h0M946.4 985.4h0M955.4 985.6h0M959.4 985.6h0M969.1 985.2h0M974.8 985.2h0M975.0 985.2h0M994.1 985.4h0M1000.8 985.9h0M1014.5 985.2h0M1022.6 985.7h0M1035.4 985.1h0M1097.1 985.2h0M1193.5 985.7h0M698.2 986.4h0M708.3 987.0h0M716.1 986.9h0M733.6 986.7h0M746.7 986.7h0M792.7 986.3h0M800.2 986.2h0M886.8 986.9h0M896.5 986.2h0M919.6 987.0h0M935.2 986.3h0M978.9 986.7h0M1006.3 986.3h0M1020.3 987.0h0M1033.0 986.6h0M1058.1 986.3h0M1064.1 986.5h0M1074.4 986.8h0M1075.3 986.9h0M1129.4 986.2h0M679.8 987.4h0M688.1 987.9h0M709.7 988.0h0M722.0 987.2h0M785.8 987.5h0M907.5 987.3h0M910.9 987.7h0M940.2 988.0h0M941.8 987.3h0M946.3 987.4h0M986.7 987.5h0M1012.7 987.8h0M1014.9 987.2h0M1020.1 987.3h0M1038.9 987.6h0M1061.2 987.9h0M1069.5 987.2h0M1070.3 987.3h0M1103.8 987.2h0M1108.9 987.3h0M676.7 988.6h0M737.1 988.3h0M768.0 988.5h0M768.5 988.3h0M802.1 988.5h0M809.5 988.9h0M818.1 988.5h0M821.9 988.3h0M891.1 988.9h0M892.0 988.2h0M895.6 988.5h0M923.6 988.6h0M925.2 988.9h0M948.5 988.6h0M949.4 988.3h0M977.2 988.2h0M1004.2 988.5h0M1022.6 988.1h0M1041.9 988.7h0M1070.1 988.1h0M1072.8 988.1h0M1144.0 988.1h0M1154.6 988.1h0M1161.9 988.7h0M674.7 989.1h0M683.6 990.0h0M695.6 989.3h0M711.8 989.2h0M778.8 989.0h0M824.1 989.9h0M902.2 989.8h0M903.5 989.1h0M952.3 989.7h0M984.3 989.5h0M990.9 989.9h0M1021.7 989.7h0M1027.8 989.4h0M1045.7 989.4h0M1052.6 989.3h0M1054.9 989.2h0M1061.4 990.0h0M1103.6 989.1h0M1107.9 989.1h0M1114.5 989.8h0M1119.8 989.4h0M1135.1 989.6h0M1165.7 989.0h0M1169.0 989.5h0M1190.9 989.7h0M1195.1 989.9h0M698.0 990.4h0M710.7 990.5h0M712.2 990.9h0M796.2 990.4h0M826.0 990.0h0M889.8 990.7h0M932.5 991.0h0M944.5 990.6h0M972.8 990.3h0M975.0 990.7h0M975.9 990.6h0M1022.2 990.6h0M1029.2 990.8h0M1041.0 990.0h0M1049.3 990.1h0M1065.7 990.2h0M1075.7 990.1h0M1116.2 990.4h0M1125.7 990.3h0M1205.0 990.4h0M679.3 991.5h0M758.1 991.7h0M764.7 991.4h0M765.7 991.2h0M775.1 992.0h0M822.7 991.6h0M827.4 991.8h0M891.4 991.9h0M893.2 991.7h0M897.3 991.7h0M903.1 991.4h0M906.5 991.8h0M950.5 991.1h0M957.5 991.7h0M977.5 991.9h0M1012.9 991.2h0M1020.6 991.6h0M1055.3 991.4h0M1078.7 991.8h0M1103.6 991.4h0M1143.1 991.6h0M1152.0 991.6h0M1202.4 991.5h0M702.1 992.5h0M715.5 992.5h0M746.6 992.1h0M763.4 992.6h0M868.7 992.8h0M871.7 992.5h0M882.4 992.7h0M883.4 992.9h0M919.3 992.1h0M927.3 992.9h0M944.2 992.9h0M987.3 992.4h0M999.2 992.5h0M1023.2 992.0h0M1041.1 992.1h0M1047.3 993.0h0M1075.0 992.1h0M1147.8 992.6h0M1164.0 992.3h0M1179.6 992.5h0M1181.1 992.1h0M1202.4 992.6h0M679.0 994.0h0M703.5 993.8h0M773.9 993.3h0M818.0 993.7h0M848.0 993.6h0M850.9 993.9h0M883.4 993.8h0M895.6 993.2h0M899.5 993.6h0M937.0 994.0h0M940.5 993.8h0M958.6 993.4h0M961.7 993.4h0M962.4 993.9h0M969.7 993.7h0M1021.5 993.4h0M1106.8 993.1h0M1119.4 993.3h0M1136.2 993.1h0M1140.7 993.6h0M1146.6 993.2h0M1185.4 993.7h0M684.4 994.5h0M697.8 994.7h0M706.6 994.7h0M712.5 994.2h0M739.1 994.5h0M826.1 994.7h0M828.5 994.8h0M831.0 994.1h0M861.5 994.8h0M872.1 994.6h0M876.1 994.2h0M902.8 994.3h0M924.8 994.2h0M962.7 994.4h0M969.8 994.3h0M970.5 994.5h0M973.0 994.1h0M977.0 994.8h0M986.0 994.1h0M991.6 995.0h0M1018.0 994.8h0M1030.4 994.8h0M1032.1 994.0h0M1036.8 994.1h0M1055.1 994.2h0M1123.5 994.3h0M1154.2 994.2h0M1168.8 994.9h0M1172.1 994.6h0M1177.9 994.9h0M674.7 995.4h0M686.6 995.5h0M693.1 995.4h0M694.4 995.9h0M700.5 995.4h0M714.6 995.3h0M732.7 995.6h0M742.5 995.0h0M790.3 995.3h0M815.5 995.2h0M824.0 995.4h0M831.0 995.5h0M834.0 996.0h0M859.2 995.2h0M875.3 995.1h0M909.3 995.3h0M910.6 995.1h0M933.5 995.2h0M937.7 995.1h0M944.2 996.0h0M973.7 995.3h0M976.0 995.7h0M980.0 995.6h0M1000.6 995.6h0M1018.8 995.2h0M1107.0 995.1h0M1113.7 995.6h0M1137.6 995.2h0M1184.1 995.2h0M1187.2 995.8h0M672.7 996.9h0M677.2 996.2h0M762.4 996.1h0M831.3 996.5h0M857.3 996.4h0M860.2 996.9h0M916.7 996.7h0M933.3 996.7h0M942.0 997.0h0M966.7 996.4h0M1044.8 996.1h0M1058.0 996.1h0M1089.2 997.0h0M1115.1 996.0h0M1121.0 996.9h0M1134.3 996.1h0M680.5 997.5h0M685.5 997.5h0M689.3 997.1h0M699.1 997.9h0M739.7 997.8h0M748.0 997.1h0M811.3 998.0h0M819.7 997.5h0M822.6 997.5h0M827.5 997.3h0M895.1 997.8h0M900.3 997.4h0M977.4 997.7h0M999.1 997.6h0M1015.5 997.7h0M1017.6 997.6h0M1096.7 997.8h0M1121.4 997.1h0M1145.4 997.1h0M1181.1 997.2h0M700.6 998.7h0M723.7 998.2h0M743.7 998.7h0M775.1 998.4h0M819.7 998.9h0M824.9 998.2h0M830.9 998.0h0M853.4 998.5h0M865.0 999.0h0M932.7 998.1h0M938.2 998.4h0M961.9 998.3h0M974.9 998.6h0M979.2 998.5h0M997.0 998.7h0M1017.4 998.5h0M1045.4 998.7h0M1055.1 998.5h0M1111.9 998.3h0M1136.4 998.1h0M1143.8 998.7h0M1162.5 998.0h0M1180.8 998.5h0M676.2 999.3h0M700.2 999.7h0M710.0 999.1h0M813.3 999.3h0M816.8 999.8h0M828.5 999.2h0M865.7 999.9h0M885.4 999.1h0M931.7 999.3h0M937.6 999.3h0M1003.0 999.9h0M1019.1 999.8h0M1103.9 1000.0h0M1162.0 999.1h0M1166.3 999.3h0M1174.6 999.1h0M1176.8 999.8h0M1180.5 999.7h0M1190.9 999.9h0M679.9 1000.5h0M681.0 1000.1h0M684.7 1000.5h0M698.9 1000.4h0M708.8 1000.1h0M746.7 1000.9h0M755.1 1000.8h0M756.1 1001.0h0M813.1 1000.5h0M825.7 1000.4h0M877.0 1000.2h0M909.4 1000.5h0M936.2 1000.7h0M952.3 1000.4h0M1012.9 1000.7h0M1014.8 1000.5h0M1118.4 1000.3h0M1134.4 1000.4h0M1146.4 1000.2h0M1158.6 1000.2h0M677.3 1001.1h0M690.3 1001.6h0M695.6 1001.6h0M709.8 1001.7h0M724.7 1001.8h0M820.4 1001.5h0M822.8 1001.3h0M829.7 1001.1h0M837.3 1001.9h0M870.5 1001.3h0M887.8 1001.8h0M897.6 1001.9h0M908.1 1001.6h0M915.8 1001.0h0M958.9 1001.2h0M1016.4 1001.4h0M1025.8 1001.9h0M1090.2 1002.0h0M1162.6 1001.3h0M1174.1 1001.1h0M1188.6 1001.5h0M693.8 1002.4h0M756.4 1002.1h0M757.1 1002.7h0M759.0 1002.3h0M855.6 1002.1h0M856.7 1002.4h0M857.5 1002.3h0M892.6 1002.6h0M998.2 1002.7h0M1022.8 1002.7h0M1041.3 1002.9h0M1055.8 1002.4h0M1083.6 1002.2h0M1084.4 1002.1h0M1104.1 1002.4h0M1130.1 1002.9h0M1136.9 1002.4h0M1141.1 1002.9h0M1143.0 1002.1h0M1150.4 1002.4h0M1153.1 1002.6h0M1155.6 1002.9h0M1191.0 1002.9h0M684.5 1003.8h0M691.4 1003.7h0M700.4 1003.0h0M708.3 1003.6h0M713.1 1003.0h0M715.7 1003.5h0M761.6 1003.4h0M768.5 1003.0h0M769.8 1003.4h0M773.8 1003.8h0M828.0 1003.1h0M865.0 1003.9h0M1003.4 1003.2h0M1017.1 1003.4h0M1022.2 1003.8h0M1044.3 1003.0h0M1080.1 1003.6h0M1090.6 1003.6h0M1105.7 1003.4h0M1144.1 1003.6h0M1150.2 1003.0h0M1162.1 1003.7h0M1167.3 1003.1h0M1172.4 1003.5h0M1194.8 1003.5h0M690.2 1004.3h0M712.7 1004.4h0M739.3 1004.2h0M749.9 1004.8h0M755.2 1004.5h0M774.5 1004.5h0M816.4 1004.9h0M862.1 1004.7h0M872.4 1005.0h0M917.5 1004.7h0M925.7 1004.5h0M927.9 1004.2h0M935.0 1004.7h0M1023.3 1004.5h0M1026.4 1004.0h0M1028.9 1004.4h0M1033.6 1004.0h0M1035.6 1004.5h0M1036.4 1004.7h0M1037.2 1004.2h0M1043.4 1004.0h0M1090.3 1004.7h0M1099.5 1004.1h0M1105.1 1004.7h0M1124.6 1004.3h0M1166.9 1004.6h0M692.4 1005.4h0M694.0 1005.8h0M698.5 1005.4h0M733.7 1005.2h0M813.3 1005.3h0M814.7 1005.1h0M832.5 1005.4h0M838.8 1005.7h0M879.5 1006.0h0M896.8 1005.0h0M908.6 1005.6h0M963.1 1005.4h0M988.7 1005.4h0M1000.8 1005.6h0M1034.9 1005.9h0M1043.2 1005.9h0M1083.0 1005.1h0M1108.7 1005.9h0M1111.1 1005.6h0M1121.9 1005.1h0M1133.8 1005.6h0M1137.1 1005.1h0M1144.1 1005.7h0M1163.4 1005.8h0M673.0 1006.8h0M686.9 1006.9h0M749.5 1006.1h0M753.0 1006.1h0M754.3 1006.9h0M824.3 1006.4h0M869.7 1006.3h0M909.4 1006.9h0M923.9 1007.0h0M936.8 1006.6h0M943.6 1006.1h0M977.9 1006.9h0M1000.1 1006.1h0M1009.4 1006.6h0M1013.0 1006.3h0M1090.2 1007.0h0M1117.2 1006.9h0M1152.8 1006.1h0M1188.1 1006.8h0M703.8 1007.8h0M738.4 1007.7h0M774.1 1007.5h0M824.4 1007.2h0M854.9 1007.3h0M861.6 1007.5h0M893.1 1007.2h0M899.8 1007.1h0M918.4 1008.0h0M1013.8 1007.9h0M1026.5 1007.9h0M1035.0 1007.1h0M1054.9 1007.0h0M1067.9 1007.1h0M1070.2 1008.0h0M1082.7 1007.1h0M1089.9 1007.6h0M1094.0 1007.9h0M1126.8 1007.2h0M1172.4 1007.0h0M1195.0 1007.2h0M699.8 1008.3h0M719.9 1008.5h0M762.5 1008.9h0M816.8 1008.1h0M870.8 1008.3h0M900.3 1008.2h0M912.0 1008.3h0M961.9 1009.0h0M971.0 1008.3h0M1034.2 1008.4h0M1037.7 1008.9h0M1054.7 1008.6h0M1069.5 1008.1h0M1077.0 1008.2h0M1115.9 1008.1h0M1145.1 1008.4h0M1201.8 1008.3h0M681.4 1009.1h0M685.4 1009.0h0M710.7 1009.1h0M759.8 1009.4h0M764.1 1009.1h0M765.8 1009.5h0M802.2 1009.7h0M844.2 1009.1h0M852.1 1009.5h0M894.7 1010.0h0M943.0 1009.2h0M1003.3 1009.9h0M1010.4 1009.7h0M1045.3 1009.4h0M1090.4 1009.6h0M1099.6 1009.3h0M1138.1 1009.7h0M1152.8 1010.0h0M697.3 1010.7h0M714.1 1010.9h0M722.6 1010.6h0M736.6 1010.1h0M856.2 1010.0h0M859.8 1010.5h0M896.7 1010.3h0M902.1 1010.8h0M918.3 1010.9h0M926.8 1010.6h0M927.7 1010.4h0M1005.9 1011.0h0M1039.7 1010.7h0M1090.8 1010.8h0M1181.0 1010.9h0M675.7 1011.7h0M689.8 1011.8h0M697.2 1011.6h0M745.3 1011.3h0M761.6 1012.0h0M785.0 1011.0h0M819.7 1011.9h0M857.0 1011.1h0M857.8 1011.8h0M888.9 1011.5h0M897.4 1011.5h0M898.3 1011.6h0M925.2 1011.2h0M930.8 1011.7h0M954.1 1011.7h0M1016.1 1011.1h0M1018.1 1011.5h0M1023.9 1011.7h0M1028.3 1011.2h0M1039.1 1011.1h0M1132.5 1011.4h0M1143.4 1011.7h0M1177.2 1011.4h0M695.8 1012.5h0M891.7 1013.0h0M892.1 1012.7h0M893.8 1012.0h0M907.1 1012.8h0M908.3 1013.0h0M931.4 1012.5h0M932.3 1012.1h0M986.3 1012.9h0M1034.5 1012.8h0M1097.2 1013.0h0M1106.8 1012.9h0M1124.3 1013.0h0M1132.4 1012.9h0M1196.6 1012.6h0M673.8 1013.9h0M691.3 1013.0h0M730.2 1013.1h0M763.8 1013.8h0M784.5 1013.1h0M823.2 1013.4h0M833.9 1013.2h0M854.1 1013.5h0M900.6 1013.8h0M913.7 1013.4h0M989.9 1013.0h0M1010.9 1013.2h0M1033.4 1013.7h0M1035.2 1013.7h0M1056.9 1013.2h0M1099.5 1014.0h0M1114.3 1013.3h0M1119.2 1013.3h0M1136.9 1013.6h0M1192.0 1013.4h0M1194.2 1013.3h0M1198.4 1013.8h0M674.2 1015.0h0M733.8 1014.4h0M753.7 1014.3h0M851.0 1014.9h0M883.3 1014.4h0M895.0 1014.3h0M916.5 1014.6h0M935.6 1014.5h0M1009.8 1014.8h0M1044.5 1014.9h0M1100.2 1014.1h0M1109.5 1014.7h0M1157.0 1014.3h0M1181.7 1015.0h0M681.1 1015.2h0M687.4 1015.1h0M701.8 1015.9h0M709.4 1015.7h0M750.6 1015.4h0M805.8 1015.9h0M818.8 1015.2h0M856.3 1015.9h0M923.8 1015.5h0M989.3 1015.4h0M1040.6 1015.9h0M1057.1 1015.3h0M1113.7 1015.7h0M1129.1 1015.1h0M1132.7 1015.8h0M1134.0 1015.5h0M1147.9 1015.3h0M692.4 1016.3h0M696.0 1016.5h0M712.4 1016.6h0M713.6 1016.6h0M730.0 1016.8h0M884.6 1016.6h0M904.9 1016.8h0M937.2 1016.4h0M965.5 1016.8h0M1008.2 1016.9h0M1010.9 1016.3h0M1121.4 1016.3h0M1126.5 1016.1h0M1186.3 1016.3h0M701.2 1018.0h0M704.1 1017.9h0M711.0 1017.6h0M721.3 1017.6h0M864.6 1017.7h0M877.9 1017.7h0M883.5 1017.5h0M893.9 1017.9h0M899.9 1017.1h0M904.0 1017.0h0M912.5 1017.8h0M919.0 1017.7h0M949.1 1017.8h0M953.0 1017.0h0M990.5 1017.2h0M1003.8 1017.9h0M1094.3 1017.6h0M1113.9 1017.5h0M1117.0 1017.8h0M1117.1 1018.0h0M1149.2 1017.3h0M1197.2 1017.6h0M1199.2 1017.1h0M1203.8 1017.4h0M683.8 1018.9h0M739.2 1018.6h0M763.0 1018.1h0M766.3 1018.2h0M770.4 1018.2h0M773.6 1018.3h0M912.5 1018.2h0M918.7 1018.5h0M930.2 1018.4h0M938.5 1018.1h0M977.1 1018.9h0M1024.8 1018.5h0M1121.4 1018.2h0M1125.1 1018.1h0M1191.7 1018.4h0M1196.9 1018.8h0M1202.2 1018.8h0M1206.4 1018.6h0M678.6 1019.5h0M686.8 1019.4h0M723.8 1019.2h0M760.7 1019.7h0M774.6 1019.9h0M828.7 1019.1h0M844.9 1019.8h0M877.8 1019.6h0M952.1 1019.6h0M1018.4 1019.8h0M1041.6 1019.2h0M1101.1 1019.5h0M1133.8 1019.8h0M677.7 1021.0h0M701.3 1020.0h0M714.8 1020.1h0M734.4 1020.7h0M757.0 1020.9h0M856.4 1020.6h0M870.6 1021.0h0M906.9 1020.8h0M908.1 1020.4h0M914.3 1020.8h0M970.3 1020.6h0M1110.2 1020.7h0M1115.6 1020.1h0M1123.4 1020.1h0M1152.4 1020.4h0M1184.6 1020.4h0M1194.0 1020.1h0M676.8 1021.8h0M722.6 1021.8h0M767.5 1021.4h0M828.5 1022.0h0M835.0 1021.8h0M880.4 1021.4h0M905.4 1021.6h0M908.6 1021.2h0M915.2 1022.0h0M925.0 1021.9h0M938.1 1021.1h0M945.2 1021.7h0M996.2 1021.2h0M1025.4 1021.7h0M1111.5 1021.8h0M1119.9 1021.2h0M1141.7 1021.2h0M1146.1 1021.2h0M1188.0 1021.1h0M1188.8 1021.5h0M1206.6 1021.2h0M674.4 1022.1h0M690.5 1022.3h0M691.5 1022.1h0M719.2 1022.6h0M746.4 1022.1h0M758.2 1022.6h0M899.8 1022.0h0M900.8 1022.6h0M936.5 1022.4h0M1051.2 1022.4h0M1140.6 1022.9h0M1152.0 1022.7h0M1152.4 1022.3h0M1194.6 1022.8h0M1201.4 1022.8h0M696.4 1023.0h0M717.3 1023.3h0M761.7 1023.3h0M840.6 1023.9h0M912.3 1023.5h0M938.0 1023.2h0M939.5 1023.8h0M988.1 1023.9h0M1020.4 1023.9h0M1052.0 1023.9h0M1111.0 1023.0h0M1125.8 1023.1h0M1136.5 1023.6h0M1194.2 1024.0h0M1200.2 1024.0h0M1208.3 1023.6h0M678.4 1024.8h0M682.3 1024.5h0M694.1 1024.2h0M698.4 1024.7h0M706.9 1024.8h0M840.5 1024.7h0M876.5 1024.6h0M894.7 1024.5h0M951.8 1024.1h0M987.9 1024.9h0M1009.8 1024.2h0M1012.6 1024.5h0M1049.0 1024.6h0M1133.1 1024.4h0M1186.8 1024.8h0M1204.7 1024.7h0M675.0 1025.2h0M676.5 1025.3h0M680.7 1025.5h0M689.2 1025.6h0M707.5 1025.2h0M713.3 1025.9h0M714.4 1025.9h0M715.8 1025.9h0M718.0 1025.7h0M718.2 1025.7h0M750.2 1025.5h0M814.1 1025.4h0M861.2 1026.0h0M862.9 1025.0h0M886.6 1025.7h0M926.6 1025.6h0M941.7 1025.6h0M945.1 1025.5h0M950.4 1025.2h0M961.0 1025.1h0M970.9 1025.9h0M973.0 1025.5h0M985.8 1025.8h0M1010.4 1025.4h0M1023.6 1025.1h0M1049.8 1025.8h0M1050.5 1025.0h0M1120.6 1025.1h0M1127.1 1025.2h0M1166.8 1025.9h0M1191.6 1025.6h0M696.6 1026.3h0M717.2 1026.5h0M735.7 1026.9h0M749.3 1026.4h0M822.3 1026.7h0M844.1 1026.2h0M917.9 1026.5h0M946.7 1026.1h0M961.9 1027.0h0M1020.8 1026.1h0M1041.5 1026.6h0M1135.3 1026.9h0M1164.9 1026.5h0M1188.5 1026.9h0M1204.9 1026.4h0M1208.1 1026.9h0M690.4 1027.0h0M709.5 1027.2h0M729.9 1027.4h0M768.7 1027.5h0M773.8 1027.8h0M834.5 1027.1h0M844.6 1027.3h0M874.9 1027.6h0M882.5 1027.2h0M887.0 1027.9h0M946.8 1027.1h0M979.3 1027.6h0M994.5 1027.3h0M1207.6 1027.0h0M693.5 1028.9h0M705.3 1029.0h0M715.6 1028.8h0M717.5 1028.1h0M729.8 1028.1h0M757.6 1028.5h0M771.0 1028.0h0M831.0 1028.2h0M880.2 1028.4h0M893.2 1028.4h0M952.2 1028.8h0M965.9 1028.4h0M994.0 1028.3h0M1038.5 1028.9h0M1051.8 1028.6h0M1148.8 1028.2h0M1150.8 1028.2h0M1198.4 1028.5h0M673.7 1029.8h0M682.0 1029.2h0M694.7 1029.0h0M766.5 1029.8h0M804.2 1029.8h0M873.5 1029.8h0M923.4 1029.8h0M1051.6 1029.1h0M1139.6 1029.7h0M1151.1 1029.7h0M1198.4 1029.4h0M1206.8 1029.2h0M687.2 1030.1h0M698.1 1030.7h0M709.4 1030.3h0M720.8 1030.9h0M736.8 1030.3h0M794.3 1030.3h0M802.8 1030.1h0M842.6 1030.1h0M858.0 1030.1h0M868.7 1030.3h0M870.9 1030.8h0M918.7 1030.7h0M976.1 1031.0h0M1007.7 1030.3h0M1055.0 1030.5h0M1128.8 1030.8h0M1198.7 1030.8h0M682.9 1031.1h0M684.0 1031.2h0M691.9 1031.1h0M717.1 1032.0h0M724.2 1031.9h0M734.4 1031.9h0M766.3 1031.3h0M771.1 1031.6h0M886.3 1032.0h0M917.3 1031.3h0M1009.1 1031.4h0M1046.5 1031.6h0M1053.6 1031.4h0M1080.7 1031.2h0M682.2 1032.5h0M804.2 1032.2h0M874.2 1033.0h0M945.7 1032.1h0M986.9 1032.9h0M993.8 1032.2h0M1000.1 1032.2h0M1046.8 1032.5h0M1097.3 1032.3h0M1186.6 1032.0h0M680.1 1033.8h0M683.1 1033.7h0M837.5 1033.3h0M878.6 1033.9h0M893.8 1033.3h0M905.5 1033.3h0M922.3 1033.8h0M932.0 1033.2h0M941.8 1033.8h0M953.9 1033.0h0M958.2 1033.3h0M1000.9 1033.7h0M1043.4 1033.6h0M1046.0 1033.8h0M1196.9 1033.2h0M1198.2 1033.9h0M1200.2 1033.7h0M677.7 1034.4h0M692.8 1034.4h0M699.0 1034.6h0M710.6 1034.3h0M757.7 1035.0h0M815.7 1034.3h0M833.7 1034.3h0M849.7 1034.5h0M852.4 1034.3h0M877.5 1034.8h0M902.1 1034.8h0M934.0 1034.6h0M947.9 1034.0h0M948.6 1034.3h0M959.9 1034.1h0M962.0 1034.4h0M972.1 1034.8h0M973.6 1034.3h0M998.8 1034.1h0M1019.6 1034.2h0M1046.8 1034.5h0M1082.3 1034.1h0M1198.0 1034.7h0M1205.6 1034.7h0M674.2 1035.5h0M696.1 1035.1h0M698.6 1035.1h0M713.1 1035.4h0M715.1 1036.0h0M719.6 1035.2h0M746.2 1035.5h0M865.4 1035.2h0M951.1 1036.0h0M964.9 1035.3h0M1044.1 1035.5h0M1104.8 1035.8h0M1161.1 1035.3h0M1185.9 1035.6h0M1191.8 1035.5h0M687.7 1036.8h0M704.4 1036.4h0M711.7 1036.7h0M732.5 1036.2h0M759.4 1037.0h0M774.1 1036.1h0M851.5 1036.1h0M882.9 1036.3h0M888.0 1036.2h0M897.8 1036.8h0M905.1 1036.5h0M955.6 1036.2h0M981.5 1036.1h0M1015.7 1036.1h0M1040.4 1036.1h0M1108.8 1036.9h0M1170.1 1036.1h0M1189.0 1037.0h0M1196.9 1036.4h0M1200.5 1036.1h0M700.2 1038.0h0M771.5 1037.3h0M845.8 1037.9h0M853.3 1037.6h0M915.8 1037.7h0M921.8 1037.1h0M970.7 1037.1h0M999.6 1037.4h0M1010.1 1037.4h0M1026.0 1037.7h0M1031.7 1037.2h0M1143.6 1037.2h0M1203.5 1037.3h0M1205.2 1037.4h0M713.6 1038.8h0M831.8 1038.2h0M852.4 1038.9h0M892.9 1038.6h0M923.7 1038.9h0M932.7 1038.3h0M939.4 1038.8h0M989.6 1038.1h0M1044.6 1038.4h0M1115.9 1038.9h0M704.7 1039.6h0M712.0 1039.6h0M714.3 1039.9h0M715.5 1039.7h0M751.2 1039.9h0M771.6 1039.6h0M781.1 1039.6h0M983.8 1039.8h0M986.5 1039.5h0M1023.1 1039.5h0M1048.0 1039.4h0M1135.8 1039.5h0M1166.6 1039.2h0M1205.2 1039.1h0M674.7 1040.8h0M688.0 1040.3h0M693.5 1040.8h0M694.5 1040.3h0M696.5 1040.8h0M703.0 1040.5h0M726.4 1040.5h0M773.6 1040.2h0M836.9 1040.9h0M903.5 1040.6h0M922.5 1040.4h0M932.1 1040.7h0M947.3 1040.9h0M981.4 1040.1h0M1090.3 1040.1h0M1137.0 1040.9h0M1151.1 1040.5h0M1155.8 1040.5h0M1197.8 1040.4h0M693.3 1041.8h0M703.6 1041.5h0M706.5 1041.2h0M882.0 1041.1h0M893.0 1041.4h0M904.7 1041.7h0M905.1 1041.1h0M928.1 1041.5h0M969.5 1041.2h0M978.6 1041.5h0M989.3 1041.1h0M998.7 1041.0h0M1015.9 1041.8h0M1198.5 1041.6h0M679.7 1042.8h0M683.7 1042.2h0M698.4 1042.4h0M746.3 1042.5h0M864.3 1042.3h0M869.0 1042.3h0M914.6 1042.3h0M946.0 1042.2h0M948.8 1042.7h0M961.0 1042.0h0M973.9 1042.0h0M1029.8 1042.9h0M1182.8 1042.8h0M684.1 1043.5h0M694.5 1043.8h0M705.1 1044.0h0M718.2 1043.7h0M719.0 1043.8h0M736.9 1043.8h0M738.8 1044.0h0M769.1 1043.8h0M804.0 1043.4h0M807.8 1043.1h0M859.5 1043.3h0M868.0 1043.6h0M923.2 1043.5h0M954.9 1043.2h0M957.2 1043.8h0M966.4 1043.3h0M1015.4 1043.1h0M1018.8 1043.5h0M1081.4 1043.3h0M1127.3 1043.3h0M1129.2 1043.8h0M1197.4 1043.6h0M1201.0 1043.5h0M676.6 1044.5h0M737.9 1044.9h0M858.6 1044.7h0M881.8 1044.4h0M910.2 1044.9h0M1115.2 1045.0h0M696.8 1045.7h0M702.9 1045.8h0M744.6 1045.3h0M750.0 1045.1h0M769.3 1045.4h0M772.0 1045.7h0M800.8 1045.1h0M845.9 1045.8h0M925.0 1045.1h0M998.9 1045.1h0M1205.7 1045.1h0M699.9 1046.2h0M729.9 1046.4h0M780.5 1046.6h0M782.9 1046.9h0M792.3 1046.1h0M796.6 1046.1h0M802.9 1046.4h0M817.4 1046.7h0M826.1 1046.5h0M879.6 1046.5h0M899.9 1046.2h0M925.8 1046.5h0M929.8 1046.2h0M947.5 1046.2h0M1024.2 1046.4h0M1180.6 1046.7h0M1189.1 1046.1h0M1200.4 1046.5h0M680.0 1047.1h0M693.9 1047.9h0M727.6 1047.9h0M747.5 1047.4h0M841.8 1047.7h0M851.9 1048.0h0M925.0 1047.1h0M1017.1 1047.2h0M1032.2 1047.6h0M1038.4 1047.8h0M1105.2 1047.1h0M1188.3 1047.8h0M1196.1 1047.4h0M1200.7 1047.4h0M686.6 1048.6h0M688.0 1048.7h0M710.8 1048.1h0M730.7 1048.6h0M780.7 1048.5h0M781.9 1048.9h0M792.3 1048.0h0M876.5 1048.1h0M882.6 1048.9h0M894.1 1048.3h0M924.7 1048.5h0M930.6 1048.0h0M1022.0 1048.7h0M1034.3 1048.2h0M1142.2 1048.2h0M693.3 1049.6h0M707.8 1049.3h0M713.2 1049.8h0M715.8 1049.8h0M740.3 1049.7h0M761.2 1049.0h0M796.5 1049.6h0M880.8 1049.7h0M894.5 1050.0h0M912.2 1049.8h0M952.6 1049.7h0M1008.9 1049.2h0M1139.9 1049.1h0M1155.2 1049.5h0M1189.0 1049.5h0M1193.8 1049.8h0M1198.6 1049.7h0M695.8 1050.6h0M708.9 1050.5h0M713.3 1050.2h0M726.2 1050.8h0M737.4 1050.3h0M741.3 1050.5h0M789.3 1050.1h0M1089.4 1050.1h0M1187.0 1050.1h0M1196.8 1050.3h0M681.9 1051.7h0M684.3 1051.6h0M700.7 1051.6h0M703.6 1051.9h0M707.8 1051.4h0M708.8 1051.3h0M710.8 1051.5h0M728.0 1051.8h0M860.6 1051.6h0M920.3 1051.7h0M1036.7 1051.8h0M1190.8 1051.3h0M1200.5 1051.7h0M730.3 1052.1h0M833.5 1052.2h0M882.6 1052.0h0M910.0 1052.9h0M930.5 1052.7h0M990.5 1052.5h0M1005.1 1052.7h0M1032.9 1053.0h0M1125.8 1052.8h0M1140.8 1052.0h0M1187.1 1052.0h0M679.9 1053.7h0M688.2 1053.1h0M711.0 1053.2h0M721.4 1053.8h0M743.1 1053.0h0M775.6 1053.1h0M797.3 1053.3h0M808.5 1053.8h0M815.6 1054.0h0M836.5 1053.3h0M869.1 1053.7h0M980.0 1053.7h0M1044.8 1053.3h0M1152.9 1054.0h0M1173.3 1053.8h0M692.4 1054.9h0M704.4 1054.5h0M713.3 1054.1h0M716.0 1054.0h0M730.3 1054.9h0M735.6 1054.7h0M754.8 1054.2h0M766.1 1054.9h0M903.0 1054.4h0M910.8 1054.1h0M967.8 1054.8h0M1011.9 1054.5h0M1174.3 1054.5h0M1179.7 1054.5h0M1190.9 1054.2h0M1196.9 1054.1h0M687.2 1056.0h0M693.3 1055.9h0M702.1 1055.1h0M707.1 1055.5h0M754.5 1055.9h0M861.4 1055.0h0M876.0 1055.3h0M889.8 1055.9h0M897.1 1055.3h0M906.9 1055.0h0M909.9 1055.9h0M962.1 1055.2h0M987.9 1055.6h0M1017.1 1055.5h0M1107.8 1055.6h0M1139.5 1055.1h0M1181.8 1056.0h0M682.4 1056.1h0M722.8 1056.3h0M789.1 1056.9h0M899.5 1056.7h0M991.4 1056.3h0M992.0 1056.8h0M1011.5 1056.7h0M1021.0 1056.0h0M1021.5 1056.7h0M1040.1 1056.3h0M676.5 1057.1h0M695.7 1057.0h0M715.6 1057.2h0M747.6 1057.1h0M760.4 1057.6h0M814.0 1057.6h0M825.0 1057.2h0M876.3 1057.9h0M877.4 1057.8h0M896.4 1057.9h0M901.0 1057.5h0M940.5 1057.9h0M946.4 1057.9h0M954.1 1058.0h0M981.8 1057.9h0M992.1 1057.5h0M1022.1 1057.5h0M1041.3 1057.5h0M1092.6 1057.3h0M1180.6 1057.9h0M1193.1 1057.2h0M684.0 1058.9h0M725.9 1058.8h0M757.7 1058.5h0M770.3 1058.8h0M791.9 1058.8h0M801.9 1058.7h0M842.8 1058.8h0M848.4 1059.0h0M850.1 1058.4h0M885.7 1058.8h0M912.0 1058.5h0M922.9 1058.5h0M950.9 1058.4h0M973.4 1058.1h0M1031.9 1058.4h0M1038.7 1058.2h0M1176.0 1058.4h0M676.3 1059.3h0M684.2 1060.0h0M697.2 1059.5h0M701.1 1059.3h0M730.8 1059.5h0M781.4 1059.7h0M804.1 1060.0h0M831.8 1059.6h0M833.5 1059.5h0M855.7 1059.4h0M858.1 1059.1h0M911.9 1059.3h0M932.7 1059.2h0M982.5 1059.1h0M1112.2 1060.0h0M1184.3 1059.2h0M721.1 1060.7h0M729.7 1060.3h0M734.5 1060.7h0M799.1 1060.1h0M852.3 1060.7h0M859.6 1060.4h0M909.2 1060.2h0M918.7 1060.7h0M996.6 1061.0h0M1091.8 1060.2h0M1139.6 1060.5h0M1147.0 1060.9h0M1177.6 1060.9h0M1192.7 1060.1h0M679.1 1061.4h0M682.3 1061.1h0M699.7 1061.8h0M709.8 1061.9h0M734.0 1061.3h0M739.3 1061.6h0M740.2 1061.8h0M751.8 1061.6h0M774.3 1061.7h0M780.8 1061.9h0M808.7 1061.4h0M812.5 1061.7h0M819.2 1061.0h0M824.6 1061.9h0M844.3 1061.1h0M969.3 1061.6h0M986.5 1061.1h0M1109.4 1061.2h0M1168.5 1061.1h0M1188.5 1061.6h0M694.2 1062.6h0M724.6 1062.1h0M737.3 1062.0h0M777.7 1062.8h0M825.8 1062.6h0M836.5 1062.2h0M840.7 1062.4h0M875.8 1062.4h0M878.7 1062.3h0M951.0 1062.1h0M952.9 1062.6h0M1021.3 1062.4h0M1028.0 1062.2h0M693.5 1063.5h0M698.0 1063.0h0M712.9 1063.9h0M717.2 1063.1h0M727.0 1063.2h0M767.8 1063.2h0M817.9 1063.6h0M832.6 1063.1h0M886.1 1063.5h0M915.0 1063.5h0M939.0 1063.9h0M986.5 1063.4h0M1038.3 1063.2h0M1109.1 1063.1h0M1119.9 1063.7h0M1180.0 1063.8h0M1181.2 1063.2h0M1183.2 1063.1h0M786.5 1064.5h0M823.9 1064.4h0M860.4 1064.8h0M1006.7 1064.0h0M1163.9 1064.6h0M1174.2 1064.1h0M699.0 1065.0h0M705.3 1065.0h0M706.7 1065.2h0M712.6 1065.8h0M716.0 1065.9h0M720.5 1065.3h0M729.2 1065.8h0M738.6 1065.3h0M749.2 1065.8h0M864.2 1065.4h0M997.1 1065.2h0M1014.8 1065.2h0M1023.8 1065.4h0M1024.2 1065.7h0M1159.2 1065.8h0M1176.2 1065.1h0M705.5 1066.9h0M709.7 1066.9h0M716.7 1066.3h0M729.5 1067.0h0M741.9 1066.6h0M745.6 1066.4h0M746.2 1066.9h0M799.9 1066.1h0M821.1 1066.7h0M823.6 1066.9h0M833.2 1066.1h0M877.0 1066.6h0M958.7 1066.7h0M966.6 1066.6h0M1180.9 1066.6h0M687.2 1068.0h0M692.7 1067.3h0M698.0 1067.2h0M711.8 1067.1h0M718.1 1067.0h0M740.6 1067.3h0M779.0 1067.1h0M793.6 1067.6h0M827.8 1067.1h0M841.4 1067.0h0M927.8 1067.1h0M970.3 1067.9h0M993.2 1067.7h0M1006.9 1067.7h0M1166.1 1067.2h0M684.1 1069.0h0M693.8 1068.2h0M732.0 1068.9h0M738.5 1068.8h0M739.7 1068.7h0M764.5 1068.4h0M799.7 1068.9h0M816.1 1068.8h0M841.3 1068.4h0M848.1 1068.5h0M863.0 1068.5h0M866.2 1068.4h0M868.0 1069.0h0M953.8 1068.1h0M960.9 1068.7h0M965.6 1068.6h0M1013.2 1068.9h0M1022.4 1068.6h0M1143.8 1068.2h0M1175.4 1068.8h0M697.8 1069.5h0M803.4 1069.4h0M818.4 1069.0h0M827.5 1069.1h0M846.7 1069.9h0M847.5 1069.7h0M855.3 1069.3h0M866.6 1069.8h0M894.5 1069.7h0M901.9 1069.9h0M925.1 1069.3h0M1152.3 1069.6h0M1165.1 1069.2h0M1185.6 1069.3h0M682.3 1070.7h0M705.9 1070.8h0M710.8 1070.1h0M730.3 1070.5h0M733.3 1070.5h0M779.9 1070.1h0M780.4 1070.1h0M848.5 1070.6h0M993.8 1071.0h0M1010.8 1070.9h0M1014.9 1070.4h0M1156.5 1070.9h0M1177.4 1070.8h0M694.3 1071.0h0M699.1 1071.8h0M716.4 1071.2h0M717.7 1071.1h0M725.4 1071.2h0M824.6 1071.5h0M909.0 1071.8h0M994.0 1071.6h0M1014.7 1071.6h0M703.5 1072.3h0M718.7 1072.6h0M739.1 1072.3h0M756.4 1072.4h0M798.4 1072.9h0M907.6 1072.9h0M959.7 1072.5h0M1127.4 1072.9h0M1155.7 1072.3h0M1168.6 1072.7h0M1184.2 1072.5h0M680.7 1073.9h0M705.9 1073.1h0M712.2 1073.7h0M721.8 1073.0h0M733.1 1073.5h0M739.2 1073.9h0M746.9 1073.9h0M770.9 1073.3h0M796.7 1073.2h0M800.0 1073.5h0M855.4 1073.3h0M872.7 1073.1h0M935.4 1073.0h0M944.7 1073.0h0M953.8 1073.4h0M984.4 1073.1h0M1012.9 1073.9h0M1035.6 1073.1h0M1093.8 1073.7h0M1172.0 1074.0h0M691.4 1074.9h0M715.9 1074.3h0M725.8 1074.0h0M735.1 1074.2h0M813.1 1074.7h0M837.1 1074.7h0M852.9 1074.9h0M861.6 1074.4h0M952.0 1074.3h0M1007.6 1074.9h0M1142.9 1074.1h0M1169.9 1074.5h0M698.1 1075.5h0M717.5 1075.6h0M730.1 1075.2h0M743.7 1075.6h0M770.2 1075.9h0M776.8 1075.8h0M778.1 1076.0h0M792.9 1075.2h0M816.1 1075.8h0M832.2 1075.1h0M881.7 1075.9h0M884.8 1075.5h0M944.0 1075.1h0M990.1 1075.8h0M991.5 1075.5h0M1032.0 1075.9h0M1106.7 1075.2h0M1154.2 1075.4h0M722.7 1076.7h0M732.7 1076.8h0M751.7 1077.0h0M774.3 1076.6h0M829.2 1076.4h0M848.3 1076.2h0M907.6 1076.6h0M939.6 1076.0h0M990.8 1076.5h0M1000.3 1076.5h0M1093.9 1076.9h0M683.2 1077.7h0M685.3 1077.0h0M694.8 1077.0h0M700.1 1077.3h0M711.8 1078.0h0M803.6 1078.0h0M918.7 1077.7h0M926.4 1077.7h0M965.5 1077.8h0M1004.7 1077.4h0M1168.8 1077.5h0M683.4 1078.9h0M702.6 1078.6h0M703.2 1078.6h0M716.0 1078.7h0M742.1 1078.1h0M744.9 1078.1h0M758.0 1078.1h0M797.1 1078.7h0M801.9 1078.2h0M812.5 1078.8h0M828.6 1078.4h0M830.1 1078.3h0M832.8 1078.5h0M852.1 1078.6h0M890.9 1078.7h0M891.6 1078.8h0M892.8 1078.4h0M939.0 1078.9h0M978.0 1078.6h0M978.2 1078.3h0M1012.0 1078.3h0M1014.1 1078.2h0M1154.6 1078.0h0M1168.8 1078.3h0M684.1 1079.4h0M720.6 1079.1h0M756.6 1079.8h0M763.2 1079.7h0M889.5 1079.2h0M1099.5 1079.7h0M1123.4 1079.9h0M1136.6 1079.4h0M1140.7 1079.3h0M1143.4 1079.9h0M696.0 1080.4h0M705.5 1080.5h0M724.7 1080.1h0M740.0 1080.0h0M818.5 1080.6h0M881.4 1080.3h0M914.2 1080.9h0M928.3 1080.9h0M998.6 1080.4h0M1006.3 1080.8h0M1026.2 1081.0h0M1128.9 1080.9h0M1142.0 1080.2h0M696.7 1081.0h0M721.2 1081.6h0M724.8 1081.7h0M732.0 1081.5h0M734.8 1081.9h0M741.5 1081.6h0M791.1 1081.3h0M797.4 1081.7h0M804.8 1081.7h0M865.3 1081.6h0M881.2 1081.1h0M886.6 1081.7h0M903.3 1081.7h0M936.0 1081.4h0M941.9 1081.9h0M943.0 1081.9h0M955.8 1081.4h0M962.0 1081.7h0M977.7 1081.0h0M991.8 1081.8h0M992.5 1081.2h0M1018.2 1081.6h0M1024.4 1081.0h0M1136.4 1081.5h0M1150.9 1081.3h0M1157.5 1081.8h0M1167.1 1081.6h0M689.9 1082.5h0M692.2 1083.0h0M708.1 1082.4h0M716.9 1082.2h0M725.1 1082.2h0M731.1 1082.5h0M743.7 1082.7h0M786.6 1082.8h0M788.6 1082.3h0M790.9 1082.5h0M824.0 1082.8h0M831.3 1082.9h0M910.4 1082.8h0M1012.0 1082.6h0M1014.3 1082.1h0M681.1 1083.8h0M682.5 1083.2h0M709.2 1083.2h0M717.6 1083.2h0M726.2 1083.9h0M827.8 1083.4h0M871.5 1083.3h0M963.1 1084.0h0M1117.2 1083.8h0M1136.8 1083.3h0M1161.1 1083.6h0M685.3 1084.3h0M763.7 1084.1h0M869.1 1084.6h0M915.0 1084.7h0M934.0 1084.2h0M937.5 1084.7h0M959.3 1084.8h0M978.9 1084.3h0M984.4 1084.7h0M987.6 1085.0h0M1023.8 1084.5h0M1117.1 1084.7h0M1153.0 1084.3h0M682.9 1085.4h0M697.5 1085.3h0M761.4 1085.9h0M772.7 1085.9h0M786.7 1085.6h0M788.5 1085.3h0M814.2 1085.1h0M828.5 1085.8h0M857.2 1085.7h0M878.8 1085.1h0M879.2 1085.5h0M901.5 1085.6h0M914.1 1085.4h0M917.0 1085.7h0M984.6 1085.7h0M985.4 1085.9h0M988.3 1085.7h0M1008.9 1085.3h0M1022.1 1085.1h0M1089.5 1085.1h0M1128.7 1085.2h0M1132.4 1085.2h0M1134.5 1085.7h0M1153.1 1086.0h0M688.0 1086.6h0M689.3 1087.0h0M778.2 1086.6h0M783.5 1086.6h0M793.0 1086.9h0M808.1 1086.4h0M819.4 1086.8h0M820.8 1086.5h0M903.5 1086.2h0M921.9 1086.1h0M970.4 1086.6h0M993.1 1086.5h0M995.3 1086.7h0M1006.4 1086.1h0M1022.1 1086.2h0M1023.4 1086.9h0M1125.6 1086.2h0M1127.3 1086.0h0M1130.8 1086.3h0M1140.1 1086.7h0M1141.7 1086.8h0M1147.1 1086.0h0M699.6 1087.4h0M705.0 1087.7h0M801.3 1087.7h0M869.5 1087.8h0M894.9 1087.7h0M1015.5 1087.3h0M1098.2 1087.8h0M1115.7 1087.6h0M1122.9 1087.8h0M1124.6 1087.8h0M1127.3 1087.0h0M1155.9 1087.2h0M731.6 1088.5h0M735.0 1088.3h0M888.3 1088.6h0M926.2 1088.1h0M955.9 1089.0h0M978.6 1088.4h0M991.3 1088.1h0M992.9 1088.7h0M1119.1 1088.9h0M1138.3 1088.2h0M1158.7 1088.0h0M730.0 1089.5h0M748.9 1089.2h0M759.0 1089.4h0M801.5 1089.1h0M877.8 1089.0h0M888.9 1089.8h0M891.7 1089.3h0M908.3 1089.6h0M941.0 1089.7h0M982.5 1089.6h0M989.1 1089.9h0M999.0 1089.5h0M1001.5 1089.8h0M1006.2 1089.9h0M1010.0 1089.1h0M1012.4 1089.8h0M1021.2 1089.2h0M1108.0 1089.2h0M1114.5 1089.0h0M1134.6 1089.6h0M714.7 1090.9h0M726.8 1090.8h0M802.1 1090.8h0M872.6 1090.9h0M917.4 1090.6h0M922.8 1090.1h0M951.3 1090.0h0M957.7 1090.6h0M965.6 1090.9h0M986.7 1090.9h0M1107.9 1090.6h0M1127.8 1090.1h0M1147.6 1090.1h0M1153.2 1090.2h0M683.1 1091.5h0M704.9 1091.9h0M747.1 1092.0h0M751.9 1091.9h0M758.0 1091.3h0M791.1 1091.1h0M827.6 1091.6h0M829.1 1091.3h0M844.9 1091.8h0M879.0 1091.9h0M972.8 1091.7h0M984.2 1092.0h0M1109.3 1092.0h0M1129.6 1092.0h0M1147.9 1091.5h0M688.3 1092.9h0M696.9 1092.7h0M700.7 1092.1h0M706.1 1092.3h0M721.2 1092.7h0M774.0 1093.0h0M802.2 1092.3h0M813.1 1092.6h0M911.3 1092.8h0M924.2 1092.4h0M938.7 1092.3h0M962.0 1092.8h0M988.7 1092.4h0M990.9 1092.1h0M998.4 1092.8h0M1019.9 1092.5h0M1106.3 1092.8h0M1113.9 1092.1h0M1117.3 1092.9h0M1123.8 1092.7h0M1127.2 1092.3h0M1128.5 1092.0h0M1135.9 1092.2h0M1137.2 1093.0h0M1141.3 1092.9h0M1143.8 1092.5h0M686.7 1093.4h0M702.6 1093.2h0M722.9 1093.6h0M730.4 1093.5h0M855.0 1093.2h0M898.8 1093.8h0M1002.3 1093.1h0M1027.4 1093.0h0M1096.9 1093.7h0M1100.9 1093.3h0M1108.3 1093.1h0M1115.6 1093.9h0M1148.9 1093.9h0M691.5 1094.5h0M698.4 1094.4h0M715.7 1094.6h0M718.6 1094.9h0M723.7 1095.0h0M756.9 1094.2h0M769.6 1094.1h0M839.2 1094.4h0M887.7 1094.2h0M888.3 1094.8h0M907.4 1094.4h0M939.7 1094.2h0M940.7 1094.2h0M947.3 1094.9h0M974.5 1094.5h0M1007.3 1094.7h0M1017.8 1094.1h0M1018.3 1094.8h0M1029.3 1094.5h0M1127.0 1094.5h0M708.1 1095.4h0M779.5 1095.1h0M787.6 1095.7h0M825.2 1095.1h0M845.2 1095.3h0M849.0 1095.0h0M850.8 1095.6h0M911.5 1095.1h0M969.4 1095.7h0M973.4 1095.7h0M983.1 1095.7h0M990.5 1095.3h0M991.8 1096.0h0M1033.6 1095.4h0M1085.1 1095.6h0M1098.1 1095.4h0M1111.3 1095.8h0M1115.1 1096.0h0M1119.5 1095.2h0M1135.4 1095.7h0M1137.8 1096.0h0M1140.0 1096.0h0M1140.4 1095.5h0M1145.2 1095.8h0M1147.0 1095.3h0M706.5 1096.2h0M729.2 1096.6h0M777.6 1096.5h0M870.2 1096.2h0M873.8 1096.4h0M879.2 1096.3h0M947.5 1097.0h0M954.5 1096.5h0M959.5 1096.3h0M980.5 1096.8h0M987.4 1096.9h0M988.8 1096.8h0M1000.8 1096.8h0M1003.5 1096.6h0M1074.1 1096.3h0M1099.2 1096.4h0M692.6 1097.7h0M702.7 1097.7h0M714.6 1097.8h0M715.1 1097.5h0M716.7 1097.4h0M719.8 1097.4h0M720.4 1097.1h0M734.3 1097.6h0M739.1 1097.3h0M750.0 1097.1h0M775.5 1097.1h0M805.1 1097.6h0M811.5 1097.6h0M898.8 1097.2h0M955.3 1097.3h0M1001.4 1097.3h0M1021.2 1097.8h0M1022.6 1097.4h0M1030.2 1097.1h0M1034.3 1097.2h0M1035.7 1097.3h0M1095.2 1097.5h0M1104.3 1097.9h0M1105.3 1098.0h0M1107.5 1097.2h0M1117.1 1097.4h0M1130.7 1097.9h0M728.0 1098.9h0M750.9 1098.7h0M837.5 1098.5h0M893.3 1098.4h0M902.5 1098.1h0M976.9 1098.9h0M989.4 1098.4h0M998.0 1098.3h0M1003.2 1098.9h0M1088.5 1098.3h0M1100.5 1098.5h0M1109.6 1098.4h0M1111.7 1098.7h0M1116.5 1098.2h0M685.3 1100.0h0M702.0 1099.5h0M710.3 1099.8h0M718.5 1099.7h0M727.9 1099.0h0M731.6 1099.5h0M789.7 1099.7h0M797.5 1099.4h0M843.6 1099.8h0M865.0 1099.1h0M879.5 1099.3h0M917.0 1099.2h0M944.9 1099.6h0M968.6 1099.2h0M1000.7 1099.9h0M1003.4 1099.3h0M1030.7 1099.1h0M1036.0 1099.5h0M1081.2 1099.3h0M1084.3 1099.1h0M1100.5 1099.9h0M1127.9 1099.9h0M1136.7 1099.8h0M1139.5 1099.6h0M695.7 1100.4h0M702.7 1101.0h0M703.3 1100.9h0M706.2 1100.0h0M717.2 1100.5h0M734.9 1100.1h0M743.4 1100.9h0M744.6 1100.6h0M822.9 1100.5h0M930.5 1101.0h0M947.9 1100.5h0M952.3 1100.5h0M972.8 1100.5h0M996.1 1100.5h0M997.1 1100.2h0M1002.8 1100.1h0M1121.1 1100.8h0M1132.4 1100.8h0M697.9 1101.9h0M722.5 1101.4h0M736.5 1101.3h0M756.3 1101.5h0M761.5 1101.8h0M832.0 1101.8h0M837.0 1101.1h0M855.4 1101.4h0M937.0 1101.2h0M988.8 1101.8h0M1010.7 1101.2h0M1031.7 1101.9h0M1075.0 1101.4h0M1084.8 1101.4h0M1087.6 1101.2h0M1089.7 1101.6h0M1113.8 1101.7h0M1116.4 1101.3h0M728.4 1102.6h0M730.2 1102.0h0M738.6 1102.4h0M749.9 1102.8h0M757.0 1102.6h0M793.4 1102.3h0M823.0 1102.6h0M841.3 1102.1h0M864.9 1102.6h0M967.1 1102.9h0M972.3 1102.9h0M991.8 1102.0h0M994.8 1102.7h0M1082.2 1102.5h0M1089.1 1102.8h0M1108.0 1103.0h0M1111.1 1102.3h0M1116.5 1103.0h0M1126.8 1102.7h0M689.6 1103.8h0M702.6 1103.4h0M727.2 1103.6h0M733.0 1103.3h0M741.5 1103.9h0M743.5 1103.6h0M786.2 1103.2h0M889.2 1103.5h0M926.9 1103.4h0M941.7 1103.8h0M947.8 1103.7h0M955.2 1103.5h0M962.2 1103.7h0M963.5 1103.2h0M972.4 1103.6h0M984.0 1103.0h0M992.4 1103.7h0M1023.4 1103.9h0M1124.0 1103.1h0M693.4 1104.3h0M716.8 1104.6h0M717.8 1104.8h0M727.4 1104.3h0M730.8 1104.1h0M744.4 1104.7h0M770.2 1104.9h0M772.8 1104.1h0M833.3 1104.9h0M846.3 1104.6h0M856.7 1104.4h0M892.0 1105.0h0M898.8 1104.2h0M903.1 1104.7h0M954.6 1104.8h0M962.5 1104.5h0M985.7 1104.9h0M1029.9 1104.1h0M1032.2 1104.3h0M1091.9 1104.8h0M1097.2 1104.5h0M1102.6 1104.7h0M1115.1 1104.4h0M1124.4 1104.4h0M1130.7 1105.0h0M687.4 1105.6h0M699.7 1105.3h0M715.9 1105.6h0M730.6 1105.4h0M735.9 1105.4h0M756.7 1105.3h0M786.4 1105.8h0M787.2 1105.7h0M801.5 1105.2h0M865.7 1105.0h0M897.4 1105.8h0M959.1 1105.5h0M985.8 1105.6h0M1015.2 1105.8h0M1026.3 1105.5h0M1101.7 1106.0h0M1116.3 1105.7h0M1136.7 1106.0h0M714.5 1106.2h0M772.4 1106.4h0M782.2 1106.3h0M794.9 1106.6h0M853.4 1106.6h0M957.8 1106.5h0M976.5 1106.5h0M999.0 1106.7h0M1008.2 1106.5h0M1016.2 1106.5h0M699.3 1107.5h0M728.2 1107.2h0M730.3 1107.4h0M731.8 1107.9h0M749.9 1107.3h0M771.9 1107.5h0M780.0 1107.3h0M836.8 1108.0h0M890.8 1107.3h0M895.7 1107.1h0M902.4 1107.0h0M925.7 1107.4h0M954.2 1108.0h0M955.2 1107.0h0M958.6 1107.1h0M969.3 1107.4h0M970.2 1107.3h0M981.8 1107.6h0M986.6 1107.5h0M1034.9 1107.4h0M1084.2 1107.1h0M706.6 1108.0h0M722.7 1108.9h0M727.4 1108.5h0M733.7 1108.4h0M744.5 1108.4h0M800.5 1108.3h0M886.0 1108.4h0M901.1 1108.8h0M974.2 1108.2h0M976.3 1108.6h0M977.5 1108.4h0M1072.2 1108.5h0M1081.0 1108.4h0M1082.7 1109.0h0M1083.5 1108.2h0M1096.2 1108.2h0M1106.7 1108.2h0M1129.4 1108.8h0M728.0 1109.9h0M791.5 1109.9h0M795.3 1109.0h0M899.3 1109.2h0M902.8 1109.5h0M920.8 1109.5h0M935.3 1109.9h0M947.4 1109.4h0M952.9 1109.3h0M966.5 1109.1h0M978.7 1109.8h0M985.0 1109.6h0M1002.1 1109.2h0M1097.1 1109.4h0M1098.9 1109.2h0M1113.1 1109.8h0M1122.0 1109.5h0M710.8 1110.8h0M724.9 1110.4h0M741.0 1110.8h0M745.2 1110.9h0M746.9 1110.2h0M754.4 1110.5h0M783.9 1111.0h0M799.5 1110.1h0M820.2 1110.7h0M843.7 1110.9h0M854.6 1110.8h0M877.0 1110.2h0M888.0 1110.1h0M890.6 1110.1h0M956.9 1110.0h0M961.3 1110.6h0M986.1 1110.9h0M1001.9 1110.2h0M1008.3 1110.0h0M1026.1 1110.8h0M1029.7 1110.6h0M1099.4 1110.1h0M1131.9 1110.5h0M780.6 1111.4h0M781.2 1111.5h0M787.3 1111.8h0M831.7 1111.2h0M840.6 1111.5h0M965.1 1111.1h0M982.5 1111.1h0M1073.2 1111.4h0M1075.6 1111.3h0M1088.6 1111.7h0M1108.1 1111.6h0M1126.5 1111.1h0M730.5 1112.7h0M737.2 1112.5h0M771.7 1112.4h0M795.8 1112.6h0M797.8 1112.1h0M930.1 1112.9h0M960.5 1112.8h0M967.0 1113.0h0M1002.1 1112.9h0M1026.5 1112.6h0M1083.4 1112.8h0M1092.9 1112.4h0M1094.6 1112.2h0M1099.7 1112.2h0M1107.9 1112.7h0M725.5 1113.3h0M736.0 1113.9h0M755.3 1113.1h0M773.3 1113.7h0M799.5 1113.4h0M813.3 1113.2h0M843.8 1113.5h0M929.9 1113.6h0M1009.5 1113.9h0M1077.0 1113.2h0M1085.8 1113.0h0M1092.6 1113.8h0M1096.4 1113.6h0M1099.0 1113.5h0M1103.6 1113.3h0M1116.0 1113.1h0M735.0 1114.3h0M818.5 1114.3h0M831.9 1114.6h0M853.8 1114.8h0M866.4 1115.0h0M871.0 1114.3h0M949.2 1114.0h0M960.8 1115.0h0M989.4 1114.4h0M1109.7 1114.0h0M1117.7 1114.9h0M1121.3 1114.4h0M1123.9 1114.4h0M743.2 1115.5h0M758.2 1115.6h0M773.4 1115.1h0M776.0 1115.8h0M827.2 1116.0h0M846.3 1115.2h0M863.5 1115.2h0M866.2 1115.8h0M894.5 1115.8h0M1082.1 1115.3h0M1106.5 1115.5h0M1125.7 1115.4h0M743.6 1116.5h0M756.2 1116.7h0M830.8 1116.2h0M891.6 1116.2h0M898.7 1116.8h0M913.0 1116.7h0M917.2 1116.3h0M945.4 1116.2h0M949.6 1116.3h0M973.1 1116.3h0M999.4 1116.2h0M1088.9 1116.9h0M1089.8 1117.0h0M1091.0 1116.5h0M1100.4 1116.4h0M741.4 1117.9h0M745.2 1117.3h0M784.5 1117.9h0M801.5 1117.2h0M817.6 1117.4h0M850.9 1117.5h0M870.4 1117.3h0M919.5 1117.6h0M961.8 1117.1h0M1005.5 1117.9h0M1008.1 1117.2h0M1010.3 1117.4h0M1014.6 1117.4h0M1028.3 1117.3h0M1030.8 1117.1h0M1096.4 1117.8h0M1102.2 1117.1h0M1107.0 1117.0h0M1113.2 1117.1h0M778.3 1118.1h0M786.1 1118.6h0M817.6 1118.7h0M846.1 1118.1h0M849.4 1118.5h0M868.7 1118.1h0M871.5 1118.7h0M894.4 1118.5h0M898.1 1118.1h0M978.2 1118.7h0M996.4 1118.2h0M1025.6 1118.6h0M1086.8 1118.5h0M1087.7 1118.7h0M1100.1 1118.8h0M1112.0 1118.4h0M1120.0 1118.8h0M766.8 1119.7h0M776.7 1119.3h0M802.9 1119.9h0M807.8 1119.5h0M852.8 1119.5h0M855.4 1119.7h0M950.7 1119.6h0M974.3 1119.8h0M992.3 1119.3h0M995.6 1119.8h0M1028.8 1120.0h0M1086.2 1119.7h0M1097.0 1119.3h0M1102.4 1119.6h0M757.9 1120.1h0M760.9 1120.3h0M768.2 1120.8h0M772.1 1120.5h0M788.1 1120.5h0M790.1 1121.0h0M798.7 1121.0h0M825.2 1120.7h0M834.2 1120.1h0M839.7 1120.6h0M842.6 1120.3h0M866.0 1120.7h0M870.1 1120.2h0M901.7 1121.0h0M912.6 1120.4h0M935.5 1120.1h0M963.6 1120.5h0M1012.4 1120.3h0M1021.0 1120.2h0M1028.3 1120.0h0M1078.1 1120.6h0M1083.5 1120.2h0M1102.7 1120.3h0M760.4 1121.4h0M823.4 1121.8h0M851.3 1121.8h0M920.1 1121.7h0M961.3 1121.3h0M980.9 1121.1h0M991.0 1122.0h0M1023.5 1121.7h0M1025.1 1121.4h0M1085.6 1121.8h0M1086.8 1121.9h0M1101.4 1122.0h0M804.3 1122.1h0M853.9 1122.6h0M878.6 1122.8h0M908.3 1123.0h0M918.0 1122.4h0M942.4 1122.2h0M952.1 1122.7h0M984.7 1122.7h0M1002.1 1122.4h0M1017.8 1122.5h0M1083.2 1122.9h0M1084.3 1122.9h0M1104.5 1122.8h0M1108.0 1122.5h0M776.5 1123.5h0M861.9 1123.0h0M885.3 1123.5h0M923.0 1123.7h0M960.1 1123.5h0M966.0 1123.1h0M973.0 1123.8h0M1008.9 1123.2h0M1037.4 1123.6h0M1089.9 1123.8h0M1102.2 1123.5h0M828.4 1124.2h0M848.4 1124.2h0M912.6 1124.7h0M923.6 1124.6h0M957.3 1124.5h0M971.8 1124.9h0M981.8 1124.9h0M990.6 1124.7h0M1003.0 1125.0h0M1035.8 1124.7h0M1080.2 1124.7h0M1082.7 1124.8h0M841.1 1125.0h0M853.7 1125.2h0M900.0 1125.3h0M923.4 1125.9h0M947.6 1125.8h0M958.2 1125.3h0M987.9 1125.8h0M990.9 1125.2h0M1014.7 1125.2h0M1016.9 1125.6h0M1036.5 1125.9h0M1106.0 1125.2h0M815.6 1126.6h0M818.6 1126.5h0M851.6 1126.5h0M879.9 1126.7h0M903.2 1126.2h0M912.5 1126.2h0M914.6 1126.7h0M926.7 1126.3h0M928.3 1126.6h0M930.2 1126.8h0M932.9 1126.4h0M966.7 1126.5h0M971.6 1126.9h0M981.6 1126.1h0M984.9 1126.9h0M996.7 1126.2h0M1097.5 1126.1h0M795.3 1127.0h0M802.2 1127.8h0M845.9 1128.0h0M865.7 1127.8h0M869.3 1127.6h0M873.2 1127.1h0M935.4 1127.2h0M955.4 1127.4h0M958.9 1127.2h0M960.9 1127.1h0M989.3 1127.0h0M1037.1 1127.6h0M1086.7 1127.9h0M1087.0 1127.1h0M1094.8 1127.8h0M807.6 1128.8h0M859.4 1128.2h0M884.5 1128.3h0M915.6 1128.1h0M920.2 1128.9h0M947.3 1129.0h0M1001.9 1128.7h0M1035.2 1128.4h0M797.6 1129.1h0M833.1 1129.4h0M836.6 1130.0h0M866.8 1129.8h0M937.9 1129.9h0M964.5 1129.1h0M974.5 1129.3h0M988.1 1129.0h0M1017.1 1129.3h0M1028.0 1129.1h0M817.1 1130.2h0M830.5 1130.5h0M839.9 1130.3h0M841.8 1130.1h0M889.3 1130.4h0M958.9 1130.9h0M980.3 1131.0h0M983.2 1130.6h0M984.3 1130.1h0M994.0 1130.5h0M1023.7 1130.4h0M1094.0 1130.3h0M812.2 1131.0h0M862.8 1131.3h0M929.3 1131.8h0M932.9 1131.5h0M955.4 1131.3h0M972.3 1131.0h0M978.0 1131.9h0M1080.9 1131.8h0M1083.2 1131.6h0M806.8 1132.5h0M823.3 1132.5h0M865.5 1132.4h0M892.5 1132.9h0M907.1 1133.0h0M953.9 1132.5h0M960.2 1132.4h0M1017.8 1132.3h0M1081.8 1132.2h0M801.7 1133.5h0M804.0 1133.2h0M840.2 1133.5h0M897.0 1133.8h0M907.6 1133.5h0M909.9 1133.2h0M911.5 1134.0h0M952.2 1133.9h0M966.5 1133.1h0M968.5 1133.0h0M969.0 1133.6h0M977.1 1133.0h0M1005.4 1133.5h0M1024.5 1133.0h0M1089.1 1133.1h0M815.9 1134.6h0M822.1 1134.3h0M831.0 1134.8h0M860.0 1134.8h0M878.0 1134.6h0M912.0 1134.3h0M915.2 1134.8h0M928.2 1134.1h0M941.0 1134.1h0M1025.9 1134.1h0M808.7 1135.4h0M869.9 1135.6h0M920.2 1135.4h0M932.1 1135.7h0M1015.4 1135.5h0M1075.0 1135.3h0M820.9 1136.4h0M828.8 1136.8h0M848.7 1136.8h0M883.8 1136.4h0M935.8 1136.9h0M992.5 1136.7h0M1000.6 1137.0h0M1038.3 1136.5h0M825.5 1137.4h0M832.8 1137.5h0M844.4 1137.2h0M861.8 1137.9h0M887.1 1137.7h0M915.2 1137.4h0M961.3 1137.5h0M966.0 1137.9h0M984.7 1137.2h0M988.3 1137.1h0M1006.6 1137.8h0M1007.9 1137.3h0M1012.1 1137.5h0M1025.6 1137.8h0M804.6 1138.4h0M831.7 1138.6h0M841.2 1138.1h0M858.4 1138.0h0M893.4 1138.1h0M954.1 1138.4h0M957.8 1138.1h0M961.8 1138.1h0M966.5 1138.1h0M968.1 1138.2h0M972.3 1138.5h0M981.2 1138.4h0M1035.2 1138.4h0M832.4 1139.4h0M836.8 1139.5h0M854.7 1139.3h0M855.8 1139.6h0M901.7 1139.7h0M1031.4 1139.6h0M827.1 1140.5h0M947.6 1140.1h0M949.8 1140.3h0M964.9 1140.5h0M991.4 1140.6h0M992.8 1140.5h0M1009.1 1140.5h0M814.1 1141.7h0M829.0 1141.6h0M856.8 1141.5h0M886.4 1141.6h0M924.2 1141.6h0M960.5 1141.4h0M977.0 1141.9h0M978.9 1141.0h0M1085.0 1141.7h0M803.5 1142.1h0M961.8 1142.6h0M964.2 1142.7h0M980.0 1142.5h0M1014.4 1142.5h0M861.9 1143.4h0M877.6 1143.1h0M878.2 1143.2h0M889.6 1143.9h0M959.0 1143.4h0M970.3 1143.2h0M982.1 1144.0h0M1002.6 1144.0h0M1083.2 1144.0h0M853.0 1145.0h0M975.0 1144.5h0M1032.2 1144.8h0M812.4 1145.5h0M842.6 1145.9h0M895.8 1145.1h0M957.0 1145.6h0M978.8 1145.4h0M999.5 1145.9h0M866.7 1146.3h0M914.8 1146.5h0M938.0 1146.4h0M952.8 1146.2h0M953.8 1146.0h0M954.3 1146.6h0M972.7 1146.6h0M1018.0 1146.9h0M1036.7 1146.7h0M803.4 1147.9h0M807.5 1147.7h0M847.1 1147.8h0M868.4 1147.3h0M903.8 1147.7h0M927.0 1147.7h0M937.7 1147.1h0M969.7 1147.7h0M973.0 1147.4h0M984.9 1147.5h0M1007.1 1147.9h0M1031.3 1147.4h0M1064.7 1147.2h0M803.2 1148.8h0M805.3 1148.5h0M843.9 1148.6h0M858.2 1148.4h0M860.2 1148.0h0M938.1 1148.8h0M977.5 1148.7h0M988.1 1148.6h0M1028.7 1148.8h0M1033.5 1148.2h0M1076.0 1148.9h0M1076.1 1148.8h0M814.3 1149.2h0M842.7 1149.1h0M857.1 1149.5h0M861.8 1149.9h0M863.4 1149.2h0M886.3 1149.1h0M982.6 1149.4h0M987.8 1149.6h0M1027.0 1149.9h0M1063.8 1149.6h0M817.9 1150.2h0M818.1 1150.5h0M829.4 1150.3h0M835.6 1150.4h0M853.7 1150.8h0M855.6 1150.7h0M945.8 1150.9h0M973.4 1150.5h0M1004.5 1150.5h0M1011.4 1150.2h0M1017.6 1150.2h0M1059.4 1150.9h0M1070.1 1150.2h0M817.9 1151.2h0M834.2 1151.8h0M842.7 1152.0h0M882.5 1151.1h0M883.5 1151.7h0M918.8 1151.1h0M956.1 1151.7h0M967.5 1151.7h0M982.1 1151.8h0M995.8 1151.9h0M1011.5 1151.4h0M1017.1 1151.9h0M1026.5 1151.4h0M1058.7 1151.4h0M821.3 1152.5h0M828.4 1152.1h0M862.9 1152.3h0M873.6 1152.7h0M888.8 1152.5h0M955.9 1152.4h0M977.0 1152.8h0M1065.0 1152.6h0M818.6 1153.8h0M825.0 1153.3h0M826.7 1153.7h0M885.9 1153.9h0M897.9 1154.0h0M941.4 1153.8h0M1009.9 1153.2h0M1059.6 1153.5h0M1068.6 1153.9h0M1069.0 1153.6h0M802.4 1154.7h0M813.2 1154.8h0M851.7 1154.9h0M940.0 1154.4h0M947.5 1154.3h0M963.3 1154.3h0M1016.7 1154.3h0M1020.0 1154.5h0M1063.0 1154.4h0M1068.4 1154.6h0M844.2 1156.0h0M858.3 1155.8h0M880.4 1155.2h0M887.7 1155.4h0M904.3 1155.9h0M938.7 1155.8h0M958.6 1155.5h0M1002.0 1155.7h0M1008.2 1155.2h0M1035.3 1155.6h0M1059.2 1155.9h0M1068.2 1155.7h0M804.0 1156.2h0M808.7 1156.0h0M814.3 1156.3h0M874.3 1157.0h0M975.5 1156.4h0M1011.8 1156.1h0M1058.8 1156.6h0M813.6 1157.0h0M856.1 1157.6h0M859.6 1157.4h0M941.4 1157.5h0M945.7 1157.9h0M958.2 1157.8h0M961.4 1157.5h0M978.0 1157.8h0M980.9 1157.1h0M991.6 1157.9h0M1002.8 1157.7h0M811.1 1158.5h0M833.8 1158.5h0M836.6 1158.3h0M909.9 1158.9h0M940.9 1158.3h0M978.4 1158.5h0M1004.1 1158.2h0M1030.2 1158.2h0M810.5 1159.9h0M825.1 1159.8h0M840.2 1159.9h0M843.7 1159.7h0M855.2 1159.3h0M863.9 1159.5h0M910.1 1159.3h0M915.0 1159.8h0M957.6 1159.4h0M969.4 1159.4h0M1003.7 1159.9h0M1004.7 1159.2h0M1009.9 1159.5h0M1029.0 1159.5h0M1066.5 1159.9h0M832.3 1160.8h0M851.3 1160.8h0M864.5 1160.0h0M881.4 1160.0h0M897.9 1160.7h0M941.4 1160.0h0M962.0 1160.0h0M978.6 1160.3h0M1000.1 1160.3h0M1009.6 1160.0h0M1018.3 1161.0h0M1064.3 1160.5h0M816.8 1161.9h0M837.1 1161.4h0M862.5 1161.8h0M872.2 1161.9h0M892.8 1161.6h0M910.1 1161.3h0M938.6 1161.1h0M1000.5 1161.1h0M1002.1 1161.0h0M826.2 1162.4h0M872.3 1162.3h0M893.6 1162.7h0M928.2 1162.2h0M936.5 1162.3h0M949.3 1162.3h0M955.2 1162.3h0M959.4 1162.7h0M1005.4 1162.6h0M1015.6 1162.7h0M858.5 1163.2h0M870.9 1163.2h0M889.8 1163.5h0M936.0 1163.9h0M944.5 1163.5h0M973.2 1163.5h0M977.0 1163.0h0M1018.2 1163.5h0M1051.7 1163.2h0M822.4 1164.5h0M848.6 1164.1h0M886.6 1164.3h0M890.8 1164.9h0M893.0 1164.1h0M896.5 1164.8h0M922.4 1164.9h0M984.5 1164.8h0M1057.0 1164.0h0M836.3 1165.9h0M837.3 1165.2h0M872.5 1165.2h0M925.8 1165.4h0M936.6 1165.1h0M989.7 1165.3h0M1000.2 1165.9h0M1015.7 1165.4h0M1026.5 1165.2h0M1052.4 1165.2h0M972.0 1166.7h0M999.9 1166.3h0M1030.9 1166.8h0M1033.0 1166.6h0M1035.3 1166.3h0M1044.3 1166.6h0M824.9 1167.3h0M872.0 1167.4h0M885.9 1167.5h0M909.3 1167.1h0M921.8 1167.8h0M974.4 1167.8h0M991.2 1167.7h0M1016.1 1167.3h0M1017.1 1168.0h0M1044.9 1167.7h0M1051.6 1167.1h0M1055.8 1167.3h0M836.3 1168.7h0M840.2 1169.0h0M899.7 1168.8h0M900.6 1168.9h0M957.9 1168.7h0M967.9 1168.8h0M969.9 1168.2h0M1052.8 1168.5h0M849.3 1169.9h0M851.5 1169.3h0M867.4 1169.4h0M882.2 1169.1h0M935.3 1169.6h0M983.9 1169.5h0M985.4 1169.1h0M1015.3 1169.8h0M1017.2 1169.6h0M853.8 1170.7h0M863.9 1170.1h0M900.8 1170.5h0M915.3 1170.0h0M922.7 1170.4h0M932.7 1170.2h0M948.7 1170.3h0M1028.5 1170.6h0M829.8 1171.8h0M847.6 1171.8h0M912.2 1171.1h0M946.9 1171.9h0M956.1 1171.0h0M958.0 1171.7h0M1033.3 1171.5h0M1045.1 1171.7h0M1046.2 1171.5h0M1049.6 1171.1h0M851.2 1172.2h0M861.7 1172.9h0M907.0 1172.3h0M914.7 1172.3h0M977.7 1172.5h0M1006.1 1172.5h0M850.9 1173.1h0M914.5 1173.9h0M928.1 1173.8h0M951.8 1173.7h0M952.6 1173.5h0M976.8 1173.9h0M1003.7 1173.5h0M1047.6 1173.7h0M871.9 1174.2h0M917.0 1174.4h0M921.1 1174.2h0M933.8 1174.6h0M948.8 1174.6h0M966.9 1174.4h0M1017.5 1174.2h0M1022.6 1174.0h0M1036.3 1174.2h0M1039.4 1174.3h0M852.2 1175.4h0M865.6 1175.8h0M877.7 1175.1h0M1004.8 1175.7h0M843.9 1176.9h0M850.9 1176.3h0M875.7 1176.9h0M904.4 1176.3h0M924.0 1176.4h0M932.5 1176.0h0M941.4 1176.7h0M943.4 1176.8h0M956.9 1176.3h0M957.2 1176.9h0M1010.9 1176.1h0M859.7 1177.8h0M938.9 1177.8h0M939.7 1177.4h0M940.4 1177.2h0M983.7 1177.9h0M991.8 1177.5h0M1009.3 1177.2h0M1022.8 1178.0h0M1025.2 1177.7h0M860.6 1178.6h0M885.9 1178.5h0M926.8 1178.7h0M931.0 1178.7h0M966.8 1178.8h0M1011.6 1178.7h0M1028.9 1178.5h0M838.1 1179.7h0M943.4 1179.7h0M968.3 1180.0h0M976.4 1179.3h0M1005.7 1179.2h0M843.5 1180.9h0M903.9 1180.2h0M910.6 1180.9h0M954.6 1180.8h0M984.2 1180.2h0M991.9 1180.2h0M996.1 1180.4h0M1004.7 1180.9h0M1031.5 1180.0h0M895.9 1181.9h0M934.4 1181.6h0M940.6 1181.1h0M942.2 1181.9h0M965.7 1181.7h0M969.2 1181.4h0M997.8 1181.1h0M1007.8 1181.5h0M1019.6 1182.0h0M1023.6 1181.7h0M843.3 1182.7h0M845.8 1182.6h0M858.0 1182.4h0M873.4 1182.1h0M890.7 1182.4h0M903.3 1182.7h0M931.1 1182.5h0M935.4 1182.9h0M954.3 1182.3h0M973.4 1183.0h0M1023.2 1182.1h0M1025.8 1182.2h0M887.5 1183.3h0M915.4 1183.6h0M920.7 1183.7h0M922.4 1183.3h0M956.6 1183.5h0M988.4 1183.4h0M999.3 1183.9h0M1032.4 1183.4h0M853.0 1184.8h0M860.2 1184.4h0M939.5 1184.4h0M944.8 1184.1h0M962.6 1184.1h0M993.6 1184.3h0M846.3 1185.4h0M848.1 1185.2h0M852.8 1185.9h0M875.6 1185.2h0M876.6 1185.4h0M1005.2 1185.6h0M850.3 1186.9h0M854.7 1186.7h0M902.9 1186.2h0M931.7 1186.7h0M989.0 1186.6h0M1013.5 1186.2h0M1026.0 1186.0h0M848.6 1187.6h0M855.7 1187.6h0M859.9 1187.6h0M860.8 1187.9h0M868.8 1187.3h0M898.3 1187.0h0M934.6 1187.0h0M946.0 1187.4h0M969.7 1187.6h0M974.8 1187.2h0M1023.0 1187.9h0M855.1 1188.7h0M858.4 1188.7h0M892.1 1188.6h0M895.1 1188.5h0M896.1 1188.8h0M908.8 1188.0h0M917.4 1188.9h0M941.4 1188.3h0M984.9 1188.3h0M997.6 1188.1h0M865.5 1189.3h0M869.2 1189.1h0M870.1 1189.8h0M879.8 1189.8h0M880.0 1189.0h0M964.2 1189.6h0M1021.1 1189.8h0M954.9 1190.2h0M972.4 1190.5h0M984.5 1190.9h0M990.1 1190.1h0M1032.4 1190.9h0M858.0 1191.8h0M898.6 1191.5h0M905.4 1191.2h0M916.6 1191.3h0M920.5 1191.2h0M964.7 1191.4h0M995.7 1191.7h0M1000.2 1191.5h0M1003.0 1191.2h0M1034.3 1191.9h0M891.9 1192.6h0M892.9 1193.0h0M896.4 1192.9h0M900.3 1192.9h0M953.3 1192.2h0M969.7 1192.9h0M995.5 1192.2h0M1028.8 1192.6h0M869.5 1193.1h0M954.7 1193.6h0M957.8 1193.6h0M984.7 1193.2h0M923.5 1194.7h0M964.3 1194.3h0M1012.6 1194.8h0M1016.6 1194.1h0M856.5 1195.2h0M888.9 1195.8h0M889.0 1195.6h0M960.1 1195.1h0M1014.0 1195.8h0M1030.2 1195.8h0M882.7 1197.0h0M885.4 1197.0h0M861.5 1198.0h0M899.8 1198.0h0M919.3 1197.4h0M955.4 1197.9h0M963.9 1197.9h0M967.6 1197.9h0M991.7 1197.1h0M1004.4 1197.1h0M876.5 1198.5h0M899.5 1198.3h0M916.2 1198.9h0M945.3 1199.0h0M1012.4 1198.6h0M1021.0 1198.4h0M857.9 1199.2h0M868.4 1199.2h0M914.0 1199.1h0M904.5 1200.8h0M922.3 1200.4h0M960.4 1200.2h0M973.3 1200.2h0M975.1 1200.4h0M978.0 1200.9h0M868.7 1201.8h0M938.4 1201.2h0M964.2 1201.6h0M980.1 1201.0h0M988.9 1201.3h0M996.3 1201.8h0M1008.6 1201.4h0M873.9 1202.0h0M911.3 1202.6h0M958.8 1202.0h0M966.0 1202.4h0M975.8 1202.5h0M989.2 1202.1h0M1003.2 1202.4h0M1025.0 1202.2h0M885.4 1203.2h0M904.2 1203.6h0M957.9 1203.3h0M964.4 1203.4h0M1001.8 1203.1h0M892.4 1204.9h0M902.3 1204.8h0M964.2 1204.4h0M1007.4 1204.3h0M1008.6 1204.5h0M1011.3 1204.0h0M1018.3 1204.6h0M869.5 1205.2h0M870.6 1205.6h0M872.4 1206.0h0M881.3 1205.6h0M929.1 1205.6h0M988.1 1205.4h0M1018.0 1205.0h0M887.8 1206.4h0M908.4 1206.9h0M959.1 1206.3h0M994.5 1206.4h0M875.2 1207.1h0M885.2 1207.3h0M909.9 1207.8h0M962.3 1207.5h0M866.3 1208.5h0M883.4 1209.0h0M951.2 1208.1h0M889.9 1209.8h0M892.9 1209.4h0M930.5 1209.2h0M952.7 1209.9h0M962.8 1209.4h0M979.3 1209.6h0M1013.1 1209.8h0M905.2 1210.7h0M915.0 1210.7h0M937.8 1210.0h0M956.2 1210.6h0M969.1 1210.5h0M1002.5 1210.3h0M1006.8 1210.4h0M1015.2 1210.2h0M873.4 1211.2h0M882.6 1211.2h0M883.0 1211.7h0M906.9 1211.8h0M996.2 1211.5h0M1002.7 1211.4h0M872.2 1212.9h0M881.9 1212.6h0M894.3 1212.5h0M988.4 1212.8h0M905.6 1213.2h0M972.6 1213.2h0M984.0 1214.6h0M990.3 1214.5h0M999.6 1214.2h0M1000.7 1214.2h0M1011.5 1215.0h0M892.4 1215.2h0M968.9 1215.9h0M997.7 1215.5h0M873.9 1216.9h0M888.4 1216.9h0M905.2 1216.2h0M913.5 1216.5h0M923.9 1216.7h0M946.2 1216.0h0M949.3 1216.6h0M975.2 1216.2h0M977.4 1216.8h0M991.9 1216.4h0M1011.6 1216.6h0M888.1 1217.6h0M895.9 1217.5h0M906.8 1217.0h0M947.9 1217.0h0M959.9 1217.4h0M967.1 1217.6h0M980.9 1217.5h0M919.7 1218.8h0M933.4 1218.1h0M949.9 1218.9h0M1005.9 1218.9h0M891.8 1220.0h0M908.0 1219.9h0M992.0 1219.5h0M1001.5 1219.9h0M928.3 1220.9h0M939.3 1220.0h0M957.1 1220.8h0M974.0 1220.6h0M978.9 1220.1h0M992.0 1220.7h0M995.6 1220.3h0M1004.0 1220.2h0M1012.2 1220.4h0M898.4 1221.0h0M908.4 1221.2h0M942.1 1221.2h0M955.0 1221.2h0M960.3 1222.0h0M1004.6 1221.7h0M1006.2 1221.1h0M1009.0 1221.4h0M898.9 1222.9h0M912.2 1222.4h0M927.5 1222.6h0M1007.5 1222.7h0M1010.4 1222.3h0M995.6 1223.5h0M902.8 1224.7h0M915.1 1224.3h0M916.7 1224.5h0M938.0 1224.7h0M955.1 1224.4h0M1004.6 1224.4h0M930.8 1225.2h0M966.5 1225.2h0M987.9 1225.0h0M988.3 1225.2h0M914.2 1226.7h0M929.8 1226.5h0M948.9 1226.5h0M974.3 1226.6h0M998.9 1226.7h0M900.3 1227.4h0M932.1 1227.2h0M984.3 1227.2h0M994.2 1227.2h0M893.2 1228.2h0M905.2 1228.0h0M911.3 1228.7h0M920.6 1228.7h0M932.2 1228.4h0M946.3 1228.7h0M1000.4 1228.7h0M898.1 1229.2h0M929.0 1229.6h0M943.4 1229.6h0M952.8 1229.4h0M964.7 1229.7h0M967.3 1229.8h0M997.6 1229.6h0M899.6 1230.6h0M938.1 1230.5h0M980.1 1230.9h0M982.4 1230.8h0M919.1 1231.5h0M925.5 1231.7h0M941.0 1231.4h0M951.7 1231.5h0M966.5 1231.5h0M981.8 1231.1h0M989.1 1232.0h0M940.5 1232.5h0M954.9 1232.4h0M935.6 1233.4h0M938.5 1233.3h0M927.8 1234.3h0M942.3 1234.0h0M951.3 1234.1h0M975.5 1234.2h0M990.2 1234.1h0M939.0 1235.3h0M969.8 1235.5h0M959.2 1236.9h0M962.5 1236.2h0M1172.7 649.2h0M1181.1 655.3h0M1211.8 649.2h0M1173.5 664.5h0M1211.8 659.9h0M1208.7 670.7h0M1182.7 698.3h0M1196.5 686.0h0M1201.1 707.5h0M1204.1 705.9h0M1184.2 716.7h0M1185.7 719.7h0M1176.5 725.9h0M1184.2 727.4h0M1188.8 738.1h0M1198.0 745.8h0M1207.2 747.3h0M1067.7 851.6h0M1076.9 848.5h0M1163.6 303.3h0M481.0 221.0h0M488.0 228.0h0M486.0 226.0h0M386.0 503.0h0M291.5 981.5h0M294.0 984.5h0M1487.2 622.4h0M1258.8 684.5h0M1292.6 662.9h0M1301.0 657.6h0M1304.0 656.7h0M1307.6 653.3h0M1311.4 650.0h0M1315.2 647.6h0M1319.0 651.0h0M1316.0 652.0h0M575.8 540.6h0M580.6 541.8h0M584.8 537.0h0M589.0 531.0h0M590.2 537.0h0M592.0 541.8h0M603.4 531.0h0M607.0 535.8h0M610.6 540.6h0M604.0 542.4h0M610.6 546.6h0M610.6 551.4h0M622.0 526.8h0M632.8 528.6h0M620.8 548.4h0M635.2 549.6h0M619.0 539.4h0M617.8 558.6h0M624.4 561.6h0M631.0 561.0h0M619.0 568.2h0M619.6 574.8h0M622.6 565.8h0M1454.8 511.5h0M1462.3 507.7h0M1467.9 505.9h0M1475.4 508.7h0M1481.0 512.4h0M1452.0 525.5h0M1460.4 520.8h0M1466.0 518.0h0M1455.8 535.8h0M1471.6 535.8h0M1479.1 535.8h0M1473.5 527.3h0M1479.1 526.4h0M1486.6 524.5h0M1491.2 520.8h0M1495.9 522.7h0M1494.0 529.2h0M1499.6 530.1h0M1500.6 536.7h0M1506.2 535.8h0M1511.8 537.6h0M1514.6 542.3h0M1504.3 542.3h0M1499.6 546.0h0M1506.2 547.9h0M1499.6 551.6h0M1473.5 545.1h0M1477.2 543.2h0M1483.8 546.0h0M1486.6 549.8h0M1479.1 549.8h0M1467.0 549.8h0M1467.9 553.5h0M1462.3 553.5h0M1474.4 560.0h0M1475.4 566.6h0M1481.0 567.5h0M1475.4 574.0h0M1481.0 572.2h0M1487.5 574.0h0M1496.8 574.0h0M1489.4 553.5h0M1497.8 561.0h0M1468.8 577.8h0M1475.4 583.4h0M1467.9 586.2h0M1466.0 590.8h0M1470.7 589.0h0M1467.0 600.2h0M1452.0 567.5h0M1458.6 571.2h0M1445.5 585.2h0M1455.8 586.2h0M1433.3 589.0h0M1505.2 584.3h0M1487.5 622.6h0M1543.5 629.1h0M1499.6 516.1h0M1506.2 515.2h0M1503.4 518.9h0M1510.8 520.8h0M1511.8 524.5h0M1516.4 519.9h0M1523.0 516.1h0M1529.5 515.2h0M1520.2 523.6h0M1520.2 528.3h0M1526.7 521.7h0M1531.4 518.0h0M1539.8 510.5h0M1540.7 516.1h0M1534.2 522.7h0M1529.5 530.1h0M1531.4 527.3h0M1539.8 526.4h0M1551.9 508.7h0M1563.1 504.0h0M1555.7 512.4h0M1545.4 520.8h0M1456.7 518.0h0M1462.3 513.3h0M1464.2 527.3h0M1458.6 529.2h0M1543.3 630.9h0M1547.1 633.7h0M1550.8 635.5h0M1555.5 637.4h0M1560.1 638.3h0M1546.1 636.5h0M1552.7 643.0h0M1559.2 644.9h0M1553.6 649.5h0M1568.6 649.5h0M1572.3 657.0h0M1577.0 643.0h0M1581.6 644.9h0M1585.4 650.5h0M1588.2 654.2h0M1591.0 661.7h0M1581.6 657.0h0M1592.8 667.3h0M1593.8 672.9h0M1591.9 678.5h0M1597.5 681.3h0M1589.1 684.1h0M1587.2 689.7h0M1591.0 693.4h0M1596.6 696.2h0M1604.0 702.8h0M1589.1 700.9h0M1591.9 708.4h0M1595.6 713.0h0M1594.7 716.8h0M1607.8 709.3h0M1605.9 714.0h0M1618.0 717.7h0M1613.4 728.9h0M1608.7 730.8h0M1598.4 738.2h0M1602.2 738.2h0M1604.0 726.1h0M1576.0 719.6h0M1579.8 722.4h0M1572.3 704.6h0M1572.3 712.1h0M1576.0 711.2h0M1584.4 712.1h0M1568.6 675.7h0M1561.1 677.6h0M1566.7 679.4h0M1560.1 686.0h0M1559.2 689.7h0M1550.8 700.0h0M1555.5 707.4h0M1561.1 695.3h0M1568.6 692.5h0M1583.5 708.4h0M1589.1 658.0h0M1591.9 671.0h0M1588.2 680.4h0M1557.3 641.1h0M1563.9 639.3h0M1660.1 818.5h0M1663.3 822.6h0M1664.3 827.3h0M1668.9 830.1h0M1671.7 833.8h0M1676.4 834.8h0M1679.2 839.4h0M1685.7 840.4h0M1687.6 844.1h0M1684.8 848.8h0M1670.8 846.9h0M1674.5 846.0h0M1683.8 832.0h0M1692.2 830.1h0M1696.0 827.3h0M1691.3 832.0h0M1673.6 855.3h0M1674.0 873.0h0M1672.6 877.7h0M1668.0 896.3h0M1677.3 894.5h0M1666.1 906.6h0M1670.8 907.5h0M1680.1 903.8h0M1681.0 910.3h0M1680.1 901.0h0M1722.1 809.6h0M1725.8 806.8h0M1729.6 803.1h0M1733.3 800.3h0M1724.0 808.2h0M1727.7 804.9h0M1731.4 801.7h0M1734.2 799.8h0M1721.2 810.1h0M1661.5 820.8h0M1666.1 829.2h0M1670.8 832.0h0M1682.0 840.4h0M1686.6 846.0h0M1672.6 847.4h0" stroke="#000004" stroke-width="6.1" stroke-linecap="round" fill="none"/>
<path d="M1176.3 313.3h0M1171.4 315.2h0M1161.0 316.8h0M1234.8 316.3h0M1176.6 318.7h0M1188.8 319.3h0M1220.4 319.5h0M1191.5 321.5h0M1161.6 322.5h0M1247.6 323.4h0M1166.5 324.5h0M1227.9 329.5h0M1167.7 330.4h0M1198.5 330.9h0M1188.8 332.6h0M1221.6 332.7h0M1193.5 336.1h0M1259.9 342.8h0M1178.0 344.4h0M1265.2 346.6h0M1285.9 349.6h0M1223.8 351.0h0M1251.1 350.9h0M1222.2 351.2h0M1166.2 357.2h0M1171.1 358.0h0M1235.8 357.8h0M1278.0 357.0h0M1235.3 361.9h0M1235.4 364.6h0M1263.9 367.9h0M1264.3 368.0h0M1244.1 373.8h0M1128.8 374.0h0M1170.4 374.2h0M1125.6 375.9h0M1148.5 375.8h0M1128.6 381.3h0M1276.3 385.4h0M1250.8 389.3h0M1136.8 392.2h0M1163.5 393.2h0M1169.5 397.3h0M1244.0 397.9h0M1185.5 399.8h0M1114.4 404.5h0M1106.2 405.3h0M1179.7 406.0h0M1097.4 407.0h0M1107.7 406.1h0M1097.3 408.0h0M1119.3 407.8h0M1110.2 408.8h0M1106.8 410.0h0M1107.4 409.0h0M1211.6 410.0h0M1093.3 410.6h0M1100.1 411.8h0M1087.0 412.7h0M1140.0 412.6h0M1260.4 413.0h0M1158.2 414.3h0M1191.7 416.8h0M1068.2 418.9h0M1083.3 418.5h0M1245.7 418.9h0M1083.8 420.4h0M1258.5 422.5h0M1077.4 423.5h0M1078.5 423.6h0M1175.3 424.2h0M1072.1 425.4h0M1200.0 425.3h0M1194.4 426.5h0M1170.3 429.5h0M1200.0 429.7h0M1240.4 429.5h0M1184.9 430.6h0M1180.1 431.6h0M1181.5 431.6h0M1171.1 433.2h0M1183.1 440.9h0M1192.1 442.6h0M1237.7 443.5h0M1237.4 449.5h0M1249.5 456.1h0M1262.3 458.3h0M1262.1 460.3h0M1257.4 463.6h0M1258.8 463.2h0M1260.5 463.9h0M1243.3 464.1h0M1259.7 466.5h0M1238.1 467.1h0M1221.6 469.0h0M1224.0 468.3h0M1219.9 471.4h0M1221.1 471.4h0M1248.3 471.8h0M1256.9 471.5h0M1227.8 472.2h0M1255.1 473.3h0M1247.4 477.1h0M1216.6 479.9h0M1234.3 479.9h0M1253.7 479.7h0M1233.9 481.9h0M1246.1 481.3h0M1214.6 483.2h0M1212.1 484.8h0M1219.3 485.3h0M1219.3 486.2h0M1203.0 489.7h0M1215.5 492.0h0M1224.2 493.4h0M1466.9 511.7h0M1477.2 523.9h0M1485.7 575.7h0M1465.4 592.6h0M1549.9 636.2h0M1570.1 644.9h0M1576.3 645.7h0M1590.5 656.3h0M1596.6 675.0h0M1591.6 679.6h0M1572.0 690.5h0M1566.8 692.7h0M1572.8 692.7h0M1574.2 692.8h0M1575.7 695.8h0M1585.3 695.7h0M1576.0 697.7h0M890.4 700.2h0M1603.3 701.4h0M1581.6 703.9h0M1556.6 704.4h0M1564.7 708.0h0M879.2 708.2h0M882.7 708.7h0M1581.1 709.8h0M1607.5 713.0h0M939.6 714.4h0M1571.0 714.8h0M1607.9 714.5h0M899.9 716.8h0M1591.1 716.9h0M905.1 723.4h0M911.9 725.1h0M1586.3 726.0h0M956.7 726.6h0M1592.1 726.1h0M960.1 729.6h0M1595.6 729.6h0M1617.1 733.0h0M1600.0 734.4h0M1615.9 734.0h0M879.4 737.6h0M978.1 739.4h0M884.0 751.9h0M979.6 761.2h0M800.7 788.4h0M905.4 792.3h0M787.8 793.3h0M877.7 796.1h0M950.0 797.1h0M809.8 798.2h0M786.8 799.9h0M937.8 799.4h0M943.5 800.5h0M955.2 804.0h0M973.6 804.1h0M995.5 806.2h0M1016.1 806.2h0M892.4 810.7h0M1045.8 813.9h0M877.2 814.7h0M1055.3 814.1h0M909.2 815.8h0M1040.5 815.3h0M930.1 816.4h0M950.4 816.4h0M1054.5 816.9h0M834.9 818.3h0M1028.9 818.8h0M1029.3 821.2h0M987.8 823.0h0M1026.3 823.4h0M915.0 826.8h0M952.9 826.9h0M1000.2 826.9h0M1000.4 827.4h0M960.8 828.9h0M933.5 830.0h0M936.2 829.9h0M1014.5 829.6h0M841.2 830.4h0M929.6 830.6h0M1045.6 830.2h0M937.9 832.7h0M1004.4 832.6h0M990.5 834.6h0M827.1 844.4h0M780.7 852.5h0M848.7 855.6h0M810.5 860.4h0M819.9 873.4h0M800.1 878.0h0M815.6 877.6h0M1161.4 931.6h0M1190.5 931.6h0M1191.8 939.6h0M1172.2 949.8h0M1234.2 958.7h0M1194.5 964.2h0M1158.2 970.8h0M1156.2 977.9h0M1151.2 981.7h0M1167.1 981.1h0M1178.3 981.4h0M1194.7 988.4h0M1153.6 990.3h0M1157.1 995.0h0M1180.6 994.8h0M1160.9 1000.3h0M1191.0 1017.4h0M1198.6 1021.6h0M1190.9 1029.5h0M1197.6 1044.5h0M1200.4 1050.5h0M1185.0 1053.7h0M1179.2 1070.7h0M1172.0 1072.8h0M1180.9 1074.0h0M1174.0 1075.6h0M1157.3 1077.2h0M1167.8 1082.8h0M1150.7 1084.5h0M1119.4 1114.8h0M1099.4 1129.1h0M1071.3 1150.2h0M1054.6 1154.6h0M1070.2 1154.5h0M1045.5 1163.7h0M1049.0 1169.0h0M1161.2 820.9h0M1174.2 831.7h0M1168.8 270.4h0M1177.2 286.3h0M1101.2 311.2h0M1110.3 312.4h0M1119.4 310.1h0M1130.7 315.8h0M1138.6 315.8h0M1121.6 330.5h0M484.0 223.5h0M646.0 574.2h0M1451.1 516.1h0M1460.4 514.3h0M1469.8 508.7h0M1474.4 520.8h0M1454.8 520.8h0M1457.6 524.5h0M1467.0 527.3h0M1460.4 531.1h0M1464.2 534.8h0M1467.9 540.4h0M1481.9 559.1h0M1483.8 561.9h0M1495.0 555.4h0M1492.2 560.0h0M1490.3 568.4h0M1427.7 594.6h0M1558.5 505.9h0M1566.7 641.1h0M1570.4 639.3h0M1580.7 650.5h0M1580.7 672.9h0M1577.9 685.0h0M1570.4 691.6h0M1569.5 697.2h0M1575.1 699.0h0M1581.6 695.3h0M1555.5 696.2h0M1554.5 700.9h0M1563.0 706.5h0M1581.6 704.6h0M1583.5 716.8h0M1585.4 722.4h0M1591.0 726.1h0M1595.6 730.8h0M1599.4 721.4h0M1606.8 735.4h0M1614.3 714.9h0M1619.9 725.2h0M1621.8 728.9h0M1624.6 742.0h0M1619.0 722.4h0M1663.3 832.0h0M1668.0 833.8h0M1679.2 846.0h0M1672.6 857.2h0M1668.9 898.2h0M1673.6 899.1h0M1677.3 904.7h0M1679.2 910.3h0M809.0 871.0h0M889.0 878.6h0M957.9 867.0h0M820.0 852.0h0M941.0 1164.0h0M1027.0 1048.0h0M955.0 1116.0h0" stroke="#9E3089" stroke-width="6.1" stroke-linecap="round" fill="none"/>
<path d="M798.2 820.3h0M852.7 823.3h0M842.7 737.3h0M864.1 728.4h0M847.1 746.1h0M848.6 750.6h0M833.9 773.5h0M1172.2 277.7h0M1122.8 384.9h0M1174.9 442.3h0M1168.8 479.5h0M1201.0 479.5h0M377.0 496.0h0M380.0 500.0h0M1488.4 517.5h0M1547.3 517.1h0M1570.4 643.9h0M1586.3 668.2h0M1579.8 693.4h0M1562.0 701.8h0M1591.9 720.5h0M1600.3 731.7h0M737.9 887.1h0M727.0 894.0h0M736.0 915.0h0M718.6 928.6h0M752.9 927.0h0M745.7 940.7h0M776.4 919.7h0M700.0 969.3h0M837.9 862.0h0M894.0 1105.0h0M919.0 1202.0h0M995.0 1209.0h0" stroke="#F3675C" stroke-width="6.1" stroke-linecap="round" fill="none"/>
<path d="M859.0 755.0h0M1128.4 474.5h0M1495.9 563.8h0M1677.8 898.2h0M767.9 910.0h0M791.4 933.0h0M690.0 960.0h0M792.0 982.0h0M735.7 993.3h0M697.9 1039.3h0M739.3 1050.0h0" stroke="#FDB77E" stroke-width="6.1" stroke-linecap="round" fill="none"/>
<path d="M1161.2 840.1h0M1563.9 712.1h0" stroke="#FBF3B6" stroke-width="6.1" stroke-linecap="round" fill="none"/>
</g>
<!-- axes -->
<line x1="205.5" y1="142.5" x2="205.5" y2="1304.7" stroke="#000" stroke-width="4.5"/>
<line x1="203.25" y1="1302.5" x2="1829" y2="1302.5" stroke="#000" stroke-width="4.5"/>
<line x1="191" y1="245.5" x2="205.5" y2="245.5" stroke="#000" stroke-width="4.5"/>
<text x="178.8" y="264.1" font-size="52" text-anchor="end">15</text>
<line x1="191" y1="484.6" x2="205.5" y2="484.6" stroke="#000" stroke-width="4.5"/>
<text x="178.8" y="503.2" font-size="52" text-anchor="end">10</text>
<line x1="191" y1="723.8" x2="205.5" y2="723.8" stroke="#000" stroke-width="4.5"/>
<text x="178.8" y="742.4" font-size="52" text-anchor="end">5</text>
<line x1="191" y1="962.9" x2="205.5" y2="962.9" stroke="#000" stroke-width="4.5"/>
<text x="178.8" y="981.5" font-size="52" text-anchor="end">0</text>
<line x1="191" y1="1202.1" x2="205.5" y2="1202.1" stroke="#000" stroke-width="4.5"/>
<text x="178.8" y="1220.7" font-size="52" text-anchor="end">-5</text>
<line x1="231.5" y1="1302.5" x2="231.5" y2="1317" stroke="#000" stroke-width="4.5"/>
<text x="231.5" y="1366.8" font-size="52" text-anchor="middle">-10</text>
<line x1="707.1" y1="1302.5" x2="707.1" y2="1317" stroke="#000" stroke-width="4.5"/>
<text x="707.1" y="1366.8" font-size="52" text-anchor="middle">0</text>
<line x1="1182.7" y1="1302.5" x2="1182.7" y2="1317" stroke="#000" stroke-width="4.5"/>
<text x="1182.7" y="1366.8" font-size="52" text-anchor="middle">10</text>
<line x1="1658.3" y1="1302.5" x2="1658.3" y2="1317" stroke="#000" stroke-width="4.5"/>
<text x="1658.3" y="1366.8" font-size="52" text-anchor="middle">20</text>
<text x="1012.5" y="1435" font-size="63" text-anchor="middle" textLength="222" lengthAdjust="spacingAndGlyphs">UMAP_1</text>
<text transform="translate(95,722.5) rotate(-90)" x="0" y="0" font-size="63" text-anchor="middle" textLength="233" lengthAdjust="spacingAndGlyphs">UMAP_2</text>
<rect x="1885" y="578.5" width="64" height="318.5" fill="url(#mg)"/>
<text x="1978.5" y="916.0" font-size="52">0.0</text>
<line x1="1885" y1="818.2" x2="1898" y2="818.2" stroke="#fff" stroke-width="1.3"/><line x1="1936" y1="818.2" x2="1949" y2="818.2" stroke="#fff" stroke-width="1.3"/>
<text x="1978.5" y="836.8" font-size="52">0.4</text>
<line x1="1885" y1="739.0" x2="1898" y2="739.0" stroke="#fff" stroke-width="1.3"/><line x1="1936" y1="739.0" x2="1949" y2="739.0" stroke="#fff" stroke-width="1.3"/>
<text x="1978.5" y="757.6" font-size="52">0.8</text>
<line x1="1885" y1="659.8" x2="1898" y2="659.8" stroke="#fff" stroke-width="1.3"/><line x1="1936" y1="659.8" x2="1949" y2="659.8" stroke="#fff" stroke-width="1.3"/>
<text x="1978.5" y="678.4" font-size="52">1.2</text>
<line x1="1885" y1="580.6" x2="1898" y2="580.6" stroke="#fff" stroke-width="1.3"/><line x1="1936" y1="580.6" x2="1949" y2="580.6" stroke="#fff" stroke-width="1.3"/>
<text x="1978.5" y="599.2" font-size="52">1.6</text>
</svg></body></html>
